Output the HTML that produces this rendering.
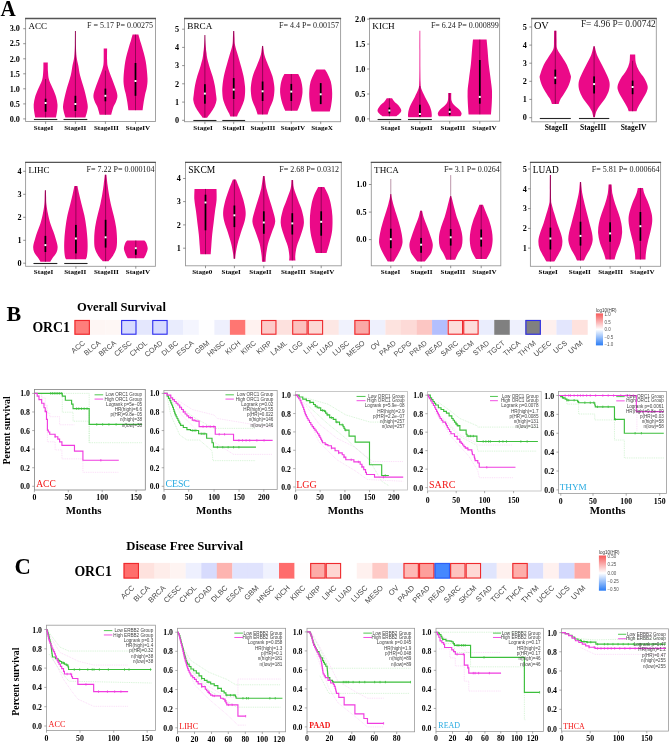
<!DOCTYPE html>
<html><head><meta charset="utf-8"><style>
html,body{margin:0;padding:0;background:#fff;}
svg{display:block;}
</style></head><body>
<svg width="669" height="743" viewBox="0 0 669 743" style="will-change:transform">
<rect width="669" height="743" fill="#fff"/>
<rect x="25.6" y="18.5" width="129.9" height="103.0" fill="#fff" stroke="#999" stroke-width="0.9"/>
<line x1="25.1" y1="18.5" x2="156.0" y2="18.5" stroke="#555" stroke-width="1.4"/>
<line x1="23.200000000000003" y1="28.7" x2="25.6" y2="28.7" stroke="#666" stroke-width="0.7"/>
<text transform="translate(19.90 31.45) scale(0.2500)" font-family="'Liberation Serif', serif" font-size="32.80" font-weight="bold" fill="#000" text-anchor="end" >3.0</text>
<line x1="23.200000000000003" y1="43.7" x2="25.6" y2="43.7" stroke="#666" stroke-width="0.7"/>
<text transform="translate(19.90 46.45) scale(0.2500)" font-family="'Liberation Serif', serif" font-size="32.80" font-weight="bold" fill="#000" text-anchor="end" >2.5</text>
<line x1="23.200000000000003" y1="58.8" x2="25.6" y2="58.8" stroke="#666" stroke-width="0.7"/>
<text transform="translate(19.90 61.55) scale(0.2500)" font-family="'Liberation Serif', serif" font-size="32.80" font-weight="bold" fill="#000" text-anchor="end" >2.0</text>
<line x1="23.200000000000003" y1="73.8" x2="25.6" y2="73.8" stroke="#666" stroke-width="0.7"/>
<text transform="translate(19.90 76.55) scale(0.2500)" font-family="'Liberation Serif', serif" font-size="32.80" font-weight="bold" fill="#000" text-anchor="end" >1.5</text>
<line x1="23.200000000000003" y1="88.8" x2="25.6" y2="88.8" stroke="#666" stroke-width="0.7"/>
<text transform="translate(19.90 91.55) scale(0.2500)" font-family="'Liberation Serif', serif" font-size="32.80" font-weight="bold" fill="#000" text-anchor="end" >1.0</text>
<line x1="23.200000000000003" y1="103.9" x2="25.6" y2="103.9" stroke="#666" stroke-width="0.7"/>
<text transform="translate(19.90 106.65) scale(0.2500)" font-family="'Liberation Serif', serif" font-size="32.80" font-weight="bold" fill="#000" text-anchor="end" >0.5</text>
<line x1="23.200000000000003" y1="118.9" x2="25.6" y2="118.9" stroke="#666" stroke-width="0.7"/>
<text transform="translate(19.90 121.65) scale(0.2500)" font-family="'Liberation Serif', serif" font-size="32.80" font-weight="bold" fill="#000" text-anchor="end" >0.0</text>
<path d="M47.80,62.40 C47.80,63.00 47.77,64.40 47.80,66.00 C47.83,67.60 47.78,69.67 48.00,72.00 C48.22,74.33 48.18,77.00 49.10,80.00 C50.02,83.00 52.33,87.17 53.50,90.00 C54.67,92.83 55.43,94.58 56.10,97.00 C56.77,99.42 57.33,102.17 57.50,104.50 C57.67,106.83 57.35,108.85 57.10,111.00 C56.85,113.15 56.18,116.33 56.00,117.40 L35.20,117.40 C35.02,116.33 34.35,113.15 34.10,111.00 C33.85,108.85 33.53,106.83 33.70,104.50 C33.87,102.17 34.43,99.42 35.10,97.00 C35.77,94.58 36.53,92.83 37.70,90.00 C38.87,87.17 41.18,83.00 42.10,80.00 C43.02,77.00 42.98,74.33 43.20,72.00 C43.42,69.67 43.37,67.60 43.40,66.00 C43.43,64.40 43.40,63.00 43.40,62.40 Z" fill="#eb0988"/>
<line x1="33.90" y1="119.50" x2="57.30" y2="119.50" stroke="#262626" stroke-width="1.1"/>
<line x1="45.60" y1="79.00" x2="45.60" y2="117.40" stroke="#3a0020" stroke-width="0.5"/>
<rect x="44.75" y="98.70" width="1.7" height="13.00" fill="#000"/>
<rect x="44.60" y="102.00" width="2.0" height="2.0" fill="#fff"/>
<line x1="45.6" y1="121.5" x2="45.6" y2="123.9" stroke="#666" stroke-width="0.7"/>
<text transform="translate(43.50 129.50) scale(0.2500)" font-family="'Liberation Serif', serif" font-size="28.40" font-weight="bold" fill="#000" text-anchor="middle" >StageI</text>
<path d="M75.80,31.00 C75.82,33.33 75.77,40.67 75.90,45.00 C76.03,49.33 76.18,53.50 76.60,57.00 C77.02,60.50 77.82,62.90 78.40,66.00 C78.98,69.10 79.10,71.60 80.10,75.60 C81.10,79.60 83.15,85.18 84.40,90.00 C85.65,94.82 87.13,101.00 87.60,104.50 C88.07,108.00 87.57,108.85 87.20,111.00 C86.83,113.15 85.70,116.33 85.40,117.40 L65.40,117.40 C65.10,116.33 63.97,113.15 63.60,111.00 C63.23,108.85 62.73,108.00 63.20,104.50 C63.67,101.00 65.15,94.82 66.40,90.00 C67.65,85.18 69.70,79.60 70.70,75.60 C71.70,71.60 71.82,69.10 72.40,66.00 C72.98,62.90 73.78,60.50 74.20,57.00 C74.62,53.50 74.77,49.33 74.90,45.00 C75.03,40.67 74.98,33.33 75.00,31.00 Z" fill="#eb0988"/>
<line x1="63.50" y1="119.50" x2="87.30" y2="119.50" stroke="#262626" stroke-width="1.1"/>
<line x1="75.40" y1="31.00" x2="75.40" y2="117.40" stroke="#3a0020" stroke-width="0.5"/>
<rect x="74.55" y="95.80" width="1.7" height="15.20" fill="#000"/>
<rect x="74.40" y="103.00" width="2.0" height="2.0" fill="#fff"/>
<line x1="75.4" y1="121.5" x2="75.4" y2="123.9" stroke="#666" stroke-width="0.7"/>
<text transform="translate(75.20 129.50) scale(0.2500)" font-family="'Liberation Serif', serif" font-size="28.40" font-weight="bold" fill="#000" text-anchor="middle" >StageII</text>
<path d="M107.10,48.50 C107.10,50.42 107.02,57.08 107.10,60.00 C107.18,62.92 107.22,64.00 107.60,66.00 C107.98,68.00 108.68,69.92 109.40,72.00 C110.12,74.08 110.90,75.83 111.90,78.50 C112.90,81.17 114.48,85.12 115.40,88.00 C116.32,90.88 117.32,93.47 117.40,95.80 C117.48,98.13 116.58,100.08 115.90,102.00 C115.22,103.92 114.08,105.17 113.30,107.30 C112.52,109.43 111.55,113.55 111.20,114.80 L99.60,114.80 C99.25,113.55 98.28,109.43 97.50,107.30 C96.72,105.17 95.58,103.92 94.90,102.00 C94.22,100.08 93.32,98.13 93.40,95.80 C93.48,93.47 94.48,90.88 95.40,88.00 C96.32,85.12 97.90,81.17 98.90,78.50 C99.90,75.83 100.68,74.08 101.40,72.00 C102.12,69.92 102.82,68.00 103.20,66.00 C103.58,64.00 103.62,62.92 103.70,60.00 C103.78,57.08 103.70,50.42 103.70,48.50 Z" fill="#eb0988"/>
<line x1="105.40" y1="70.60" x2="105.40" y2="114.80" stroke="#3a0020" stroke-width="0.5"/>
<rect x="104.55" y="88.60" width="1.7" height="12.70" fill="#000"/>
<rect x="104.40" y="94.80" width="2.0" height="2.0" fill="#fff"/>
<line x1="105.4" y1="121.5" x2="105.4" y2="123.9" stroke="#666" stroke-width="0.7"/>
<text transform="translate(106.30 129.50) scale(0.2500)" font-family="'Liberation Serif', serif" font-size="28.40" font-weight="bold" fill="#000" text-anchor="middle" >StageIII</text>
<path d="M138.40,34.60 C138.65,35.50 139.30,37.97 139.90,40.00 C140.50,42.03 141.03,43.27 142.00,46.80 C142.97,50.33 144.78,55.92 145.70,61.20 C146.62,66.48 147.33,74.03 147.50,78.50 C147.67,82.97 147.10,85.35 146.70,88.00 C146.30,90.65 145.60,92.07 145.10,94.40 C144.60,96.73 144.12,99.37 143.70,102.00 C143.28,104.63 142.78,108.83 142.60,110.20 L128.40,110.20 C128.22,108.83 127.72,104.63 127.30,102.00 C126.88,99.37 126.40,96.73 125.90,94.40 C125.40,92.07 124.70,90.65 124.30,88.00 C123.90,85.35 123.33,82.97 123.50,78.50 C123.67,74.03 124.38,66.48 125.30,61.20 C126.22,55.92 128.03,50.33 129.00,46.80 C129.97,43.27 130.50,42.03 131.10,40.00 C131.70,37.97 132.35,35.50 132.60,34.60 Z" fill="#eb0988"/>
<line x1="135.50" y1="34.60" x2="135.50" y2="110.20" stroke="#3a0020" stroke-width="0.5"/>
<rect x="134.65" y="63.00" width="1.7" height="32.80" fill="#000"/>
<rect x="134.50" y="80.00" width="2.0" height="2.0" fill="#fff"/>
<line x1="135.5" y1="121.5" x2="135.5" y2="123.9" stroke="#666" stroke-width="0.7"/>
<text transform="translate(138.00 129.50) scale(0.2500)" font-family="'Liberation Serif', serif" font-size="28.40" font-weight="bold" fill="#000" text-anchor="middle" >StageIV</text>
<text transform="translate(28.40 29.00) scale(0.2500)" font-family="'Liberation Serif', serif" font-size="36.00" font-weight="normal" fill="#000" text-anchor="start" >ACC</text>
<text transform="translate(153.00 27.80) scale(0.2500)" font-family="'Liberation Serif', serif" font-size="32.00" font-weight="normal" fill="#222" text-anchor="end" >F = 5.17 P= 0.00275</text>
<rect x="184.5" y="18.5" width="156.10000000000002" height="103.2" fill="#fff" stroke="#999" stroke-width="0.9"/>
<line x1="184.0" y1="18.5" x2="341.1" y2="18.5" stroke="#555" stroke-width="1.4"/>
<line x1="182.1" y1="29.2" x2="184.5" y2="29.2" stroke="#666" stroke-width="0.7"/>
<text transform="translate(179.10 31.95) scale(0.2500)" font-family="'Liberation Serif', serif" font-size="32.80" font-weight="bold" fill="#000" text-anchor="end" >5</text>
<line x1="182.1" y1="47.4" x2="184.5" y2="47.4" stroke="#666" stroke-width="0.7"/>
<text transform="translate(179.10 50.15) scale(0.2500)" font-family="'Liberation Serif', serif" font-size="32.80" font-weight="bold" fill="#000" text-anchor="end" >4</text>
<line x1="182.1" y1="65.6" x2="184.5" y2="65.6" stroke="#666" stroke-width="0.7"/>
<text transform="translate(179.10 68.35) scale(0.2500)" font-family="'Liberation Serif', serif" font-size="32.80" font-weight="bold" fill="#000" text-anchor="end" >3</text>
<line x1="182.1" y1="83.8" x2="184.5" y2="83.8" stroke="#666" stroke-width="0.7"/>
<text transform="translate(179.10 86.55) scale(0.2500)" font-family="'Liberation Serif', serif" font-size="32.80" font-weight="bold" fill="#000" text-anchor="end" >2</text>
<line x1="182.1" y1="102.1" x2="184.5" y2="102.1" stroke="#666" stroke-width="0.7"/>
<text transform="translate(179.10 104.85) scale(0.2500)" font-family="'Liberation Serif', serif" font-size="32.80" font-weight="bold" fill="#000" text-anchor="end" >1</text>
<line x1="182.1" y1="120.3" x2="184.5" y2="120.3" stroke="#666" stroke-width="0.7"/>
<text transform="translate(179.10 123.05) scale(0.2500)" font-family="'Liberation Serif', serif" font-size="32.80" font-weight="bold" fill="#000" text-anchor="end" >0</text>
<path d="M205.20,35.10 C205.23,36.08 205.28,38.87 205.40,41.00 C205.52,43.13 205.72,45.90 205.90,47.90 C206.08,49.90 206.28,51.22 206.50,53.00 C206.72,54.78 206.82,56.53 207.25,58.60 C207.68,60.67 208.22,62.48 209.10,65.40 C209.97,68.32 211.55,72.75 212.50,76.10 C213.45,79.45 214.20,82.35 214.80,85.50 C215.40,88.65 215.82,92.53 216.10,95.00 C216.38,97.47 216.70,98.52 216.50,100.30 C216.30,102.08 215.67,103.90 214.90,105.70 C214.13,107.50 212.87,109.53 211.90,111.10 C210.93,112.67 209.90,113.98 209.10,115.10 C208.30,116.22 207.43,117.35 207.10,117.80 L202.70,117.80 C202.37,117.35 201.50,116.22 200.70,115.10 C199.90,113.98 198.87,112.67 197.90,111.10 C196.93,109.53 195.67,107.50 194.90,105.70 C194.13,103.90 193.50,102.08 193.30,100.30 C193.10,98.52 193.42,97.47 193.70,95.00 C193.98,92.53 194.40,88.65 195.00,85.50 C195.60,82.35 196.35,79.45 197.30,76.10 C198.25,72.75 199.83,68.32 200.70,65.40 C201.58,62.48 202.12,60.67 202.55,58.60 C202.98,56.53 203.08,54.78 203.30,53.00 C203.53,51.22 203.72,49.90 203.90,47.90 C204.08,45.90 204.28,43.13 204.40,41.00 C204.52,38.87 204.57,36.08 204.60,35.10 Z" fill="#eb0988"/>
<line x1="193.35" y1="120.50" x2="216.45" y2="120.50" stroke="#262626" stroke-width="1.1"/>
<line x1="204.90" y1="35.10" x2="204.90" y2="117.80" stroke="#3a0020" stroke-width="0.5"/>
<rect x="204.05" y="84.20" width="1.7" height="19.50" fill="#000"/>
<rect x="203.90" y="92.60" width="2.0" height="2.0" fill="#fff"/>
<line x1="204.9" y1="121.7" x2="204.9" y2="124.10000000000001" stroke="#666" stroke-width="0.7"/>
<text transform="translate(203.00 129.70) scale(0.2500)" font-family="'Liberation Serif', serif" font-size="28.40" font-weight="bold" fill="#000" text-anchor="middle" >StageI</text>
<path d="M234.20,31.10 C234.25,32.25 234.36,35.65 234.50,38.00 C234.64,40.35 234.45,42.22 235.05,45.20 C235.65,48.18 237.14,52.53 238.10,55.90 C239.06,59.27 239.90,62.03 240.80,65.40 C241.70,68.77 242.82,72.75 243.50,76.10 C244.18,79.45 244.63,82.80 244.90,85.50 C245.17,88.20 245.23,89.83 245.10,92.30 C244.97,94.77 244.80,97.62 244.10,100.30 C243.40,102.98 241.90,106.15 240.90,108.40 C239.90,110.65 238.73,112.45 238.10,113.80 C237.47,115.15 237.27,116.05 237.10,116.50 L230.30,116.50 C230.13,116.05 229.93,115.15 229.30,113.80 C228.67,112.45 227.50,110.65 226.50,108.40 C225.50,106.15 224.00,102.98 223.30,100.30 C222.60,97.62 222.43,94.77 222.30,92.30 C222.17,89.83 222.23,88.20 222.50,85.50 C222.77,82.80 223.22,79.45 223.90,76.10 C224.58,72.75 225.70,68.77 226.60,65.40 C227.50,62.03 228.34,59.27 229.30,55.90 C230.26,52.53 231.75,48.18 232.35,45.20 C232.95,42.22 232.76,40.35 232.90,38.00 C233.04,35.65 233.15,32.25 233.20,31.10 Z" fill="#eb0988"/>
<line x1="222.30" y1="120.50" x2="245.10" y2="120.50" stroke="#262626" stroke-width="1.1"/>
<line x1="233.70" y1="31.10" x2="233.70" y2="116.50" stroke="#3a0020" stroke-width="0.5"/>
<rect x="232.85" y="78.10" width="1.7" height="20.90" fill="#000"/>
<rect x="232.70" y="88.60" width="2.0" height="2.0" fill="#fff"/>
<line x1="233.7" y1="121.7" x2="233.7" y2="124.10000000000001" stroke="#666" stroke-width="0.7"/>
<text transform="translate(233.60 129.70) scale(0.2500)" font-family="'Liberation Serif', serif" font-size="28.40" font-weight="bold" fill="#000" text-anchor="middle" >StageII</text>
<path d="M263.10,45.90 C263.18,46.58 263.40,48.55 263.60,50.00 C263.80,51.45 263.88,52.93 264.30,54.60 C264.72,56.27 265.43,58.20 266.10,60.00 C266.77,61.80 267.25,62.72 268.30,65.40 C269.35,68.08 271.42,72.75 272.40,76.10 C273.38,79.45 273.88,82.80 274.20,85.50 C274.52,88.20 274.50,89.83 274.30,92.30 C274.10,94.77 273.78,97.62 273.00,100.30 C272.22,102.98 270.50,106.03 269.60,108.40 C268.70,110.77 267.93,113.48 267.60,114.50 L257.60,114.50 C257.27,113.48 256.50,110.77 255.60,108.40 C254.70,106.03 252.98,102.98 252.20,100.30 C251.42,97.62 251.10,94.77 250.90,92.30 C250.70,89.83 250.68,88.20 251.00,85.50 C251.32,82.80 251.82,79.45 252.80,76.10 C253.78,72.75 255.85,68.08 256.90,65.40 C257.95,62.72 258.43,61.80 259.10,60.00 C259.77,58.20 260.48,56.27 260.90,54.60 C261.32,52.93 261.40,51.45 261.60,50.00 C261.80,48.55 262.02,46.58 262.10,45.90 Z" fill="#eb0988"/>
<line x1="262.60" y1="45.90" x2="262.60" y2="114.50" stroke="#3a0020" stroke-width="0.5"/>
<rect x="261.75" y="81.50" width="1.7" height="19.50" fill="#000"/>
<rect x="261.60" y="90.30" width="2.0" height="2.0" fill="#fff"/>
<line x1="262.6" y1="121.7" x2="262.6" y2="124.10000000000001" stroke="#666" stroke-width="0.7"/>
<text transform="translate(262.80 129.70) scale(0.2500)" font-family="'Liberation Serif', serif" font-size="28.40" font-weight="bold" fill="#000" text-anchor="middle" >StageIII</text>
<path d="M298.20,74.10 C298.58,74.88 299.85,76.90 300.50,78.80 C301.15,80.70 301.77,83.25 302.10,85.50 C302.43,87.75 302.65,89.83 302.50,92.30 C302.35,94.77 301.78,97.83 301.20,100.30 C300.62,102.77 299.63,105.35 299.00,107.10 C298.37,108.85 297.67,110.18 297.40,110.80 L285.20,110.80 C284.93,110.18 284.23,108.85 283.60,107.10 C282.97,105.35 281.98,102.77 281.40,100.30 C280.82,97.83 280.25,94.77 280.10,92.30 C279.95,89.83 280.17,87.75 280.50,85.50 C280.83,83.25 281.45,80.70 282.10,78.80 C282.75,76.90 284.02,74.88 284.40,74.10 Z" fill="#eb0988"/>
<line x1="291.30" y1="74.10" x2="291.30" y2="110.80" stroke="#3a0020" stroke-width="0.5"/>
<rect x="290.45" y="83.90" width="1.7" height="17.10" fill="#000"/>
<rect x="290.30" y="90.60" width="2.0" height="2.0" fill="#fff"/>
<line x1="291.3" y1="121.7" x2="291.3" y2="124.10000000000001" stroke="#666" stroke-width="0.7"/>
<text transform="translate(292.90 129.70) scale(0.2500)" font-family="'Liberation Serif', serif" font-size="28.40" font-weight="bold" fill="#000" text-anchor="middle" >StageIV</text>
<path d="M324.90,69.40 C325.32,70.07 326.42,71.38 327.40,73.40 C328.38,75.42 330.03,78.80 330.80,81.50 C331.57,84.20 331.78,86.92 332.00,89.60 C332.22,92.28 332.25,94.92 332.10,97.60 C331.95,100.28 331.48,103.38 331.10,105.70 C330.72,108.02 330.02,110.53 329.80,111.50 L311.60,111.50 C311.38,110.53 310.68,108.02 310.30,105.70 C309.92,103.38 309.45,100.28 309.30,97.60 C309.15,94.92 309.18,92.28 309.40,89.60 C309.62,86.92 309.83,84.20 310.60,81.50 C311.37,78.80 313.02,75.42 314.00,73.40 C314.98,71.38 316.08,70.07 316.50,69.40 Z" fill="#eb0988"/>
<line x1="320.70" y1="83.10" x2="320.70" y2="104.10" stroke="#3a0020" stroke-width="0.5"/>
<rect x="319.85" y="83.10" width="1.7" height="21.00" fill="#000"/>
<rect x="319.70" y="93.30" width="2.0" height="2.0" fill="#fff"/>
<line x1="320.7" y1="121.7" x2="320.7" y2="124.10000000000001" stroke="#666" stroke-width="0.7"/>
<text transform="translate(322.00 129.70) scale(0.2500)" font-family="'Liberation Serif', serif" font-size="28.40" font-weight="bold" fill="#000" text-anchor="middle" >StageX</text>
<text transform="translate(187.30 29.00) scale(0.2500)" font-family="'Liberation Serif', serif" font-size="36.80" font-weight="normal" fill="#000" text-anchor="start" >BRCA</text>
<text transform="translate(338.90 27.80) scale(0.2500)" font-family="'Liberation Serif', serif" font-size="32.00" font-weight="normal" fill="#222" text-anchor="end" >F= 4.4 P= 0.00157</text>
<rect x="369.5" y="18.5" width="130.10000000000002" height="102.7" fill="#fff" stroke="#999" stroke-width="0.9"/>
<line x1="369.0" y1="18.5" x2="500.1" y2="18.5" stroke="#555" stroke-width="1.4"/>
<line x1="367.1" y1="19.1" x2="369.5" y2="19.1" stroke="#666" stroke-width="0.7"/>
<text transform="translate(365.30 21.85) scale(0.2500)" font-family="'Liberation Serif', serif" font-size="32.80" font-weight="bold" fill="#000" text-anchor="end" >2.0</text>
<line x1="367.1" y1="44.1" x2="369.5" y2="44.1" stroke="#666" stroke-width="0.7"/>
<text transform="translate(365.30 46.85) scale(0.2500)" font-family="'Liberation Serif', serif" font-size="32.80" font-weight="bold" fill="#000" text-anchor="end" >1.5</text>
<line x1="367.1" y1="69.0" x2="369.5" y2="69.0" stroke="#666" stroke-width="0.7"/>
<text transform="translate(365.30 71.75) scale(0.2500)" font-family="'Liberation Serif', serif" font-size="32.80" font-weight="bold" fill="#000" text-anchor="end" >1.0</text>
<line x1="367.1" y1="94.0" x2="369.5" y2="94.0" stroke="#666" stroke-width="0.7"/>
<text transform="translate(365.30 96.75) scale(0.2500)" font-family="'Liberation Serif', serif" font-size="32.80" font-weight="bold" fill="#000" text-anchor="end" >0.5</text>
<line x1="367.1" y1="118.9" x2="369.5" y2="118.9" stroke="#666" stroke-width="0.7"/>
<text transform="translate(365.30 121.65) scale(0.2500)" font-family="'Liberation Serif', serif" font-size="32.80" font-weight="bold" fill="#000" text-anchor="end" >0.0</text>
<path d="M392.00,98.30 C392.42,98.88 393.40,100.58 394.50,101.80 C395.60,103.02 397.47,104.15 398.60,105.60 C399.73,107.05 401.22,109.10 401.30,110.50 C401.38,111.90 399.95,113.03 399.10,114.00 C398.25,114.97 396.68,115.92 396.20,116.30 L382.60,116.30 C382.12,115.92 380.55,114.97 379.70,114.00 C378.85,113.03 377.42,111.90 377.50,110.50 C377.58,109.10 379.07,107.05 380.20,105.60 C381.33,104.15 383.20,103.02 384.30,101.80 C385.40,100.58 386.38,98.88 386.80,98.30 Z" fill="#eb0988"/>
<line x1="377.60" y1="119.50" x2="401.20" y2="119.50" stroke="#262626" stroke-width="1.1"/>
<line x1="389.40" y1="98.30" x2="389.40" y2="116.30" stroke="#3a0020" stroke-width="0.5"/>
<rect x="388.55" y="107.60" width="1.7" height="5.80" fill="#000"/>
<rect x="388.40" y="109.50" width="2.0" height="2.0" fill="#fff"/>
<line x1="389.4" y1="121.2" x2="389.4" y2="123.60000000000001" stroke="#666" stroke-width="0.7"/>
<text transform="translate(390.50 129.80) scale(0.2500)" font-family="'Liberation Serif', serif" font-size="28.40" font-weight="bold" fill="#000" text-anchor="middle" >StageI</text>
<path d="M420.25,30.80 C420.26,34.00 420.28,43.47 420.30,50.00 C420.32,56.53 420.30,64.45 420.35,70.00 C420.40,75.55 420.42,80.12 420.60,83.30 C420.77,86.48 420.67,86.83 421.40,89.10 C422.13,91.37 423.72,94.30 425.00,96.90 C426.28,99.50 428.07,102.43 429.10,104.70 C430.13,106.97 430.75,108.72 431.20,110.50 C431.65,112.28 431.77,114.27 431.80,115.40 C431.83,116.53 431.47,116.98 431.40,117.30 L408.40,117.30 C408.33,116.98 407.97,116.53 408.00,115.40 C408.03,114.27 408.15,112.28 408.60,110.50 C409.05,108.72 409.67,106.97 410.70,104.70 C411.73,102.43 413.52,99.50 414.80,96.90 C416.08,94.30 417.67,91.37 418.40,89.10 C419.13,86.83 419.02,86.48 419.20,83.30 C419.38,80.12 419.40,75.55 419.45,70.00 C419.50,64.45 419.48,56.53 419.50,50.00 C419.52,43.47 419.54,34.00 419.55,30.80 Z" fill="#eb0988"/>
<line x1="407.95" y1="119.50" x2="431.85" y2="119.50" stroke="#262626" stroke-width="1.1"/>
<line x1="419.90" y1="86.00" x2="419.90" y2="117.30" stroke="#3a0020" stroke-width="0.5"/>
<rect x="419.05" y="104.70" width="1.7" height="11.60" fill="#000"/>
<rect x="418.90" y="113.00" width="2.0" height="2.0" fill="#fff"/>
<line x1="419.9" y1="121.2" x2="419.9" y2="123.60000000000001" stroke="#666" stroke-width="0.7"/>
<text transform="translate(421.50 129.80) scale(0.2500)" font-family="'Liberation Serif', serif" font-size="28.40" font-weight="bold" fill="#000" text-anchor="middle" >StageII</text>
<path d="M451.25,93.00 C451.31,94.30 451.04,98.70 451.60,100.80 C452.16,102.90 453.33,104.15 454.60,105.60 C455.87,107.05 458.03,108.20 459.20,109.50 C460.37,110.80 461.40,112.27 461.60,113.40 C461.80,114.53 460.60,115.82 460.40,116.30 L439.00,116.30 C438.80,115.82 437.60,114.53 437.80,113.40 C438.00,112.27 439.03,110.80 440.20,109.50 C441.37,108.20 443.53,107.05 444.80,105.60 C446.07,104.15 447.24,102.90 447.80,100.80 C448.36,98.70 448.09,94.30 448.15,93.00 Z" fill="#eb0988"/>
<line x1="449.70" y1="93.00" x2="449.70" y2="116.30" stroke="#3a0020" stroke-width="0.5"/>
<rect x="448.85" y="108.60" width="1.7" height="6.20" fill="#000"/>
<rect x="448.70" y="110.90" width="2.0" height="2.0" fill="#fff"/>
<line x1="449.7" y1="121.2" x2="449.7" y2="123.60000000000001" stroke="#666" stroke-width="0.7"/>
<text transform="translate(452.90 129.80) scale(0.2500)" font-family="'Liberation Serif', serif" font-size="28.40" font-weight="bold" fill="#000" text-anchor="middle" >StageIII</text>
<path d="M486.60,39.60 C486.77,41.38 487.25,46.25 487.60,50.30 C487.95,54.35 488.18,59.05 488.70,63.90 C489.22,68.75 490.15,74.87 490.70,79.40 C491.25,83.93 491.82,87.22 492.00,91.10 C492.18,94.98 491.97,98.82 491.80,102.70 C491.63,106.58 491.13,112.45 491.00,114.40 L468.60,114.40 C468.47,112.45 467.97,106.58 467.80,102.70 C467.63,98.82 467.42,94.98 467.60,91.10 C467.78,87.22 468.35,83.93 468.90,79.40 C469.45,74.87 470.38,68.75 470.90,63.90 C471.42,59.05 471.65,54.35 472.00,50.30 C472.35,46.25 472.83,41.38 473.00,39.60 Z" fill="#eb0988"/>
<line x1="479.80" y1="39.60" x2="479.80" y2="114.40" stroke="#3a0020" stroke-width="0.5"/>
<rect x="478.95" y="60.00" width="1.7" height="43.70" fill="#000"/>
<rect x="478.80" y="95.90" width="2.0" height="2.0" fill="#fff"/>
<line x1="479.8" y1="121.2" x2="479.8" y2="123.60000000000001" stroke="#666" stroke-width="0.7"/>
<text transform="translate(484.40 129.80) scale(0.2500)" font-family="'Liberation Serif', serif" font-size="28.40" font-weight="bold" fill="#000" text-anchor="middle" >StageIV</text>
<text transform="translate(372.30 29.00) scale(0.2500)" font-family="'Liberation Serif', serif" font-size="36.80" font-weight="normal" fill="#000" text-anchor="start" >KICH</text>
<text transform="translate(498.80 27.80) scale(0.2500)" font-family="'Liberation Serif', serif" font-size="32.00" font-weight="normal" fill="#222" text-anchor="end" >F= 6.24 P= 0.000899</text>
<rect x="531.7" y="18.5" width="124.59999999999991" height="103.3" fill="#fff" stroke="#999" stroke-width="0.9"/>
<line x1="531.2" y1="18.5" x2="656.8" y2="18.5" stroke="#555" stroke-width="1.4"/>
<line x1="529.3000000000001" y1="27" x2="531.7" y2="27" stroke="#666" stroke-width="0.7"/>
<text transform="translate(526.80 29.75) scale(0.2500)" font-family="'Liberation Serif', serif" font-size="32.80" font-weight="bold" fill="#000" text-anchor="end" >5</text>
<line x1="529.3000000000001" y1="45.1" x2="531.7" y2="45.1" stroke="#666" stroke-width="0.7"/>
<text transform="translate(526.80 47.85) scale(0.2500)" font-family="'Liberation Serif', serif" font-size="32.80" font-weight="bold" fill="#000" text-anchor="end" >4</text>
<line x1="529.3000000000001" y1="63.2" x2="531.7" y2="63.2" stroke="#666" stroke-width="0.7"/>
<text transform="translate(526.80 65.95) scale(0.2500)" font-family="'Liberation Serif', serif" font-size="32.80" font-weight="bold" fill="#000" text-anchor="end" >3</text>
<line x1="529.3000000000001" y1="81.3" x2="531.7" y2="81.3" stroke="#666" stroke-width="0.7"/>
<text transform="translate(526.80 84.05) scale(0.2500)" font-family="'Liberation Serif', serif" font-size="32.80" font-weight="bold" fill="#000" text-anchor="end" >2</text>
<line x1="529.3000000000001" y1="99.4" x2="531.7" y2="99.4" stroke="#666" stroke-width="0.7"/>
<text transform="translate(526.80 102.15) scale(0.2500)" font-family="'Liberation Serif', serif" font-size="32.80" font-weight="bold" fill="#000" text-anchor="end" >1</text>
<line x1="529.3000000000001" y1="117.7" x2="531.7" y2="117.7" stroke="#666" stroke-width="0.7"/>
<text transform="translate(526.80 120.45) scale(0.2500)" font-family="'Liberation Serif', serif" font-size="32.80" font-weight="bold" fill="#000" text-anchor="end" >0</text>
<path d="M556.50,30.70 C556.52,32.15 556.48,36.33 556.60,39.40 C556.72,42.47 556.28,46.18 557.20,49.10 C558.12,52.02 560.50,54.30 562.10,56.90 C563.70,59.50 565.42,61.78 566.80,64.70 C568.18,67.62 569.73,72.13 570.40,74.40 C571.07,76.67 571.13,76.35 570.80,78.30 C570.47,80.25 569.53,83.52 568.40,86.10 C567.27,88.68 565.37,91.53 564.00,93.80 C562.63,96.07 561.08,98.02 560.20,99.70 C559.32,101.38 558.95,103.20 558.70,103.90 L551.90,103.90 C551.65,103.20 551.28,101.38 550.40,99.70 C549.52,98.02 547.97,96.07 546.60,93.80 C545.23,91.53 543.33,88.68 542.20,86.10 C541.07,83.52 540.13,80.25 539.80,78.30 C539.47,76.35 539.53,76.67 540.20,74.40 C540.87,72.13 542.42,67.62 543.80,64.70 C545.18,61.78 546.90,59.50 548.50,56.90 C550.10,54.30 552.48,52.02 553.40,49.10 C554.32,46.18 553.88,42.47 554.00,39.40 C554.12,36.33 554.08,32.15 554.10,30.70 Z" fill="#eb0988"/>
<line x1="539.80" y1="118.50" x2="570.80" y2="118.50" stroke="#262626" stroke-width="1.1"/>
<line x1="555.30" y1="30.70" x2="555.30" y2="103.90" stroke="#3a0020" stroke-width="0.5"/>
<rect x="554.45" y="69.60" width="1.7" height="14.50" fill="#000"/>
<rect x="554.30" y="76.70" width="2.0" height="2.0" fill="#fff"/>
<line x1="555.3" y1="121.8" x2="555.3" y2="124.2" stroke="#666" stroke-width="0.7"/>
<text transform="translate(556.30 129.80) scale(0.2500)" font-family="'Liberation Serif', serif" font-size="30.00" font-weight="bold" fill="#000" text-anchor="middle" >StageII</text>
<path d="M594.70,46.20 C595.08,47.67 595.80,51.92 597.00,55.00 C598.20,58.08 600.28,61.47 601.90,64.70 C603.52,67.93 605.43,71.48 606.70,74.40 C607.97,77.32 609.12,79.60 609.50,82.20 C609.88,84.80 609.65,87.42 609.00,90.00 C608.35,92.58 607.12,95.12 605.60,97.70 C604.08,100.28 601.43,103.23 599.90,105.50 C598.37,107.77 597.23,109.35 596.40,111.30 C595.57,113.25 595.15,116.22 594.90,117.20 L593.30,117.20 C593.05,116.22 592.63,113.25 591.80,111.30 C590.97,109.35 589.83,107.77 588.30,105.50 C586.77,103.23 584.12,100.28 582.60,97.70 C581.08,95.12 579.85,92.58 579.20,90.00 C578.55,87.42 578.32,84.80 578.70,82.20 C579.08,79.60 580.23,77.32 581.50,74.40 C582.77,71.48 584.68,67.93 586.30,64.70 C587.92,61.47 590.00,58.08 591.20,55.00 C592.40,51.92 593.12,47.67 593.50,46.20 Z" fill="#eb0988"/>
<line x1="578.95" y1="118.50" x2="609.25" y2="118.50" stroke="#262626" stroke-width="1.1"/>
<line x1="594.10" y1="46.20" x2="594.10" y2="117.20" stroke="#3a0020" stroke-width="0.5"/>
<rect x="593.25" y="76.40" width="1.7" height="17.10" fill="#000"/>
<rect x="593.10" y="83.10" width="2.0" height="2.0" fill="#fff"/>
<line x1="594.1" y1="121.8" x2="594.1" y2="124.2" stroke="#666" stroke-width="0.7"/>
<text transform="translate(593.10 129.80) scale(0.2500)" font-family="'Liberation Serif', serif" font-size="30.00" font-weight="bold" fill="#000" text-anchor="middle" >StageIII</text>
<path d="M635.20,54.60 C635.30,55.97 635.18,60.15 635.80,62.80 C636.42,65.45 637.48,67.92 638.90,70.50 C640.32,73.08 642.85,75.70 644.30,78.30 C645.75,80.90 647.22,83.83 647.60,86.10 C647.98,88.37 647.48,89.63 646.60,91.90 C645.72,94.17 643.75,97.12 642.30,99.70 C640.85,102.28 638.87,105.47 637.90,107.40 C636.93,109.33 636.73,110.65 636.50,111.30 L628.70,111.30 C628.47,110.65 628.27,109.33 627.30,107.40 C626.33,105.47 624.35,102.28 622.90,99.70 C621.45,97.12 619.48,94.17 618.60,91.90 C617.72,89.63 617.22,88.37 617.60,86.10 C617.98,83.83 619.45,80.90 620.90,78.30 C622.35,75.70 624.88,73.08 626.30,70.50 C627.72,67.92 628.78,65.45 629.40,62.80 C630.02,60.15 629.90,55.97 630.00,54.60 Z" fill="#eb0988"/>
<line x1="632.60" y1="60.80" x2="632.60" y2="111.30" stroke="#3a0020" stroke-width="0.5"/>
<rect x="631.75" y="80.60" width="1.7" height="13.60" fill="#000"/>
<rect x="631.60" y="86.00" width="2.0" height="2.0" fill="#fff"/>
<line x1="632.6" y1="121.8" x2="632.6" y2="124.2" stroke="#666" stroke-width="0.7"/>
<text transform="translate(633.60 129.80) scale(0.2500)" font-family="'Liberation Serif', serif" font-size="30.00" font-weight="bold" fill="#000" text-anchor="middle" >StageIV</text>
<text transform="translate(533.90 29.30) scale(0.2500)" font-family="'Liberation Serif', serif" font-size="41.20" font-weight="normal" fill="#000" text-anchor="start" >OV</text>
<text transform="translate(655.80 27.10) scale(0.2500)" font-family="'Liberation Serif', serif" font-size="37.60" font-weight="normal" fill="#222" text-anchor="end" >F= 4.96 P= 0.00742</text>
<rect x="25.6" y="162.4" width="129.8" height="103.9" fill="#fff" stroke="#999" stroke-width="0.9"/>
<line x1="25.1" y1="162.4" x2="155.9" y2="162.4" stroke="#555" stroke-width="1.4"/>
<line x1="23.200000000000003" y1="171.3" x2="25.6" y2="171.3" stroke="#666" stroke-width="0.7"/>
<text transform="translate(21.50 174.05) scale(0.2500)" font-family="'Liberation Serif', serif" font-size="32.80" font-weight="bold" fill="#000" text-anchor="end" >4</text>
<line x1="23.200000000000003" y1="194.3" x2="25.6" y2="194.3" stroke="#666" stroke-width="0.7"/>
<text transform="translate(21.50 197.05) scale(0.2500)" font-family="'Liberation Serif', serif" font-size="32.80" font-weight="bold" fill="#000" text-anchor="end" >3</text>
<line x1="23.200000000000003" y1="217.3" x2="25.6" y2="217.3" stroke="#666" stroke-width="0.7"/>
<text transform="translate(21.50 220.05) scale(0.2500)" font-family="'Liberation Serif', serif" font-size="32.80" font-weight="bold" fill="#000" text-anchor="end" >2</text>
<line x1="23.200000000000003" y1="240.3" x2="25.6" y2="240.3" stroke="#666" stroke-width="0.7"/>
<text transform="translate(21.50 243.05) scale(0.2500)" font-family="'Liberation Serif', serif" font-size="32.80" font-weight="bold" fill="#000" text-anchor="end" >1</text>
<line x1="23.200000000000003" y1="263.2" x2="25.6" y2="263.2" stroke="#666" stroke-width="0.7"/>
<text transform="translate(21.50 265.95) scale(0.2500)" font-family="'Liberation Serif', serif" font-size="32.80" font-weight="bold" fill="#000" text-anchor="end" >0</text>
<path d="M45.90,190.30 C45.93,191.42 46.02,194.73 46.10,197.00 C46.18,199.27 46.10,201.13 46.40,203.90 C46.70,206.67 47.25,210.37 47.90,213.60 C48.55,216.83 49.42,220.38 50.30,223.30 C51.18,226.22 52.30,228.52 53.20,231.10 C54.10,233.68 54.97,236.22 55.70,238.80 C56.43,241.38 57.47,244.33 57.60,246.60 C57.73,248.87 57.37,250.45 56.50,252.40 C55.63,254.35 53.43,256.73 52.40,258.30 C51.37,259.87 50.65,261.22 50.30,261.80 L40.50,261.80 C40.15,261.22 39.43,259.87 38.40,258.30 C37.37,256.73 35.17,254.35 34.30,252.40 C33.43,250.45 33.07,248.87 33.20,246.60 C33.33,244.33 34.37,241.38 35.10,238.80 C35.83,236.22 36.70,233.68 37.60,231.10 C38.50,228.52 39.62,226.22 40.50,223.30 C41.38,220.38 42.25,216.83 42.90,213.60 C43.55,210.37 44.10,206.67 44.40,203.90 C44.70,201.13 44.62,199.27 44.70,197.00 C44.78,194.73 44.87,191.42 44.90,190.30 Z" fill="#eb0988"/>
<line x1="33.45" y1="263.50" x2="57.35" y2="263.50" stroke="#262626" stroke-width="1.1"/>
<line x1="45.40" y1="190.30" x2="45.40" y2="261.80" stroke="#3a0020" stroke-width="0.5"/>
<rect x="44.55" y="235.90" width="1.7" height="16.10" fill="#000"/>
<rect x="44.40" y="244.10" width="2.0" height="2.0" fill="#fff"/>
<line x1="45.4" y1="266.3" x2="45.4" y2="268.7" stroke="#666" stroke-width="0.7"/>
<text transform="translate(43.50 274.30) scale(0.2500)" font-family="'Liberation Serif', serif" font-size="28.40" font-weight="bold" fill="#000" text-anchor="middle" >StageI</text>
<path d="M77.45,186.00 C77.73,187.35 78.43,191.12 79.10,194.10 C79.78,197.08 80.62,200.33 81.50,203.90 C82.38,207.47 83.60,211.62 84.40,215.50 C85.20,219.38 85.80,223.32 86.30,227.20 C86.80,231.08 87.18,235.23 87.40,238.80 C87.62,242.37 87.68,245.68 87.60,248.60 C87.52,251.52 87.20,254.53 86.90,256.30 C86.60,258.07 85.98,258.72 85.80,259.20 L66.00,259.20 C65.82,258.72 65.20,258.07 64.90,256.30 C64.60,254.53 64.28,251.52 64.20,248.60 C64.12,245.68 64.18,242.37 64.40,238.80 C64.62,235.23 65.00,231.08 65.50,227.20 C66.00,223.32 66.60,219.38 67.40,215.50 C68.20,211.62 69.42,207.47 70.30,203.90 C71.18,200.33 72.03,197.08 72.70,194.10 C73.38,191.12 74.08,187.35 74.35,186.00 Z" fill="#eb0988"/>
<line x1="64.25" y1="263.50" x2="87.55" y2="263.50" stroke="#262626" stroke-width="1.1"/>
<line x1="75.90" y1="186.00" x2="75.90" y2="259.20" stroke="#3a0020" stroke-width="0.5"/>
<rect x="75.05" y="224.90" width="1.7" height="28.50" fill="#000"/>
<rect x="74.90" y="237.50" width="2.0" height="2.0" fill="#fff"/>
<line x1="75.9" y1="266.3" x2="75.9" y2="268.7" stroke="#666" stroke-width="0.7"/>
<text transform="translate(75.20 274.30) scale(0.2500)" font-family="'Liberation Serif', serif" font-size="28.40" font-weight="bold" fill="#000" text-anchor="middle" >StageII</text>
<path d="M106.40,174.70 C106.58,176.32 107.08,181.17 107.50,184.40 C107.92,187.63 108.35,190.85 108.90,194.10 C109.45,197.35 110.00,200.33 110.80,203.90 C111.60,207.47 112.82,211.62 113.70,215.50 C114.58,219.38 115.55,223.32 116.10,227.20 C116.65,231.08 116.97,235.23 117.00,238.80 C117.03,242.37 117.03,245.68 116.30,248.60 C115.57,251.52 113.90,254.20 112.60,256.30 C111.30,258.40 109.18,260.38 108.50,261.20 L102.70,261.20 C102.02,260.38 99.90,258.40 98.60,256.30 C97.30,254.20 95.63,251.52 94.90,248.60 C94.17,245.68 94.17,242.37 94.20,238.80 C94.23,235.23 94.55,231.08 95.10,227.20 C95.65,223.32 96.62,219.38 97.50,215.50 C98.38,211.62 99.60,207.47 100.40,203.90 C101.20,200.33 101.75,197.35 102.30,194.10 C102.85,190.85 103.28,187.63 103.70,184.40 C104.12,181.17 104.62,176.32 104.80,174.70 Z" fill="#eb0988"/>
<line x1="105.60" y1="174.70" x2="105.60" y2="261.20" stroke="#3a0020" stroke-width="0.5"/>
<rect x="104.75" y="219.80" width="1.7" height="27.80" fill="#000"/>
<rect x="104.60" y="236.30" width="2.0" height="2.0" fill="#fff"/>
<line x1="105.6" y1="266.3" x2="105.6" y2="268.7" stroke="#666" stroke-width="0.7"/>
<text transform="translate(106.30 274.30) scale(0.2500)" font-family="'Liberation Serif', serif" font-size="28.40" font-weight="bold" fill="#000" text-anchor="middle" >StageIII</text>
<path d="M144.30,240.40 C144.62,240.78 145.63,241.33 146.20,242.70 C146.77,244.07 147.75,246.65 147.70,248.60 C147.65,250.55 146.55,252.78 145.90,254.40 C145.25,256.02 144.15,257.65 143.80,258.30 L127.80,258.30 C127.45,257.65 126.35,256.02 125.70,254.40 C125.05,252.78 123.95,250.55 123.90,248.60 C123.85,246.65 124.83,244.07 125.40,242.70 C125.97,241.33 126.98,240.78 127.30,240.40 Z" fill="#eb0988"/>
<line x1="135.80" y1="240.40" x2="135.80" y2="258.30" stroke="#3a0020" stroke-width="0.5"/>
<rect x="134.95" y="247.60" width="1.7" height="7.20" fill="#000"/>
<rect x="134.80" y="247.20" width="2.0" height="2.0" fill="#fff"/>
<line x1="135.8" y1="266.3" x2="135.8" y2="268.7" stroke="#666" stroke-width="0.7"/>
<text transform="translate(138.00 274.30) scale(0.2500)" font-family="'Liberation Serif', serif" font-size="28.40" font-weight="bold" fill="#000" text-anchor="middle" >StageIV</text>
<text transform="translate(28.40 172.90) scale(0.2500)" font-family="'Liberation Serif', serif" font-size="36.00" font-weight="normal" fill="#000" text-anchor="start" >LIHC</text>
<text transform="translate(154.50 171.70) scale(0.2500)" font-family="'Liberation Serif', serif" font-size="32.00" font-weight="normal" fill="#222" text-anchor="end" >F= 7.22 P= 0.000104</text>
<rect x="185.5" y="162.4" width="155.8" height="103.4" fill="#fff" stroke="#999" stroke-width="0.9"/>
<line x1="185.0" y1="162.4" x2="341.8" y2="162.4" stroke="#555" stroke-width="1.4"/>
<line x1="183.1" y1="178.5" x2="185.5" y2="178.5" stroke="#666" stroke-width="0.7"/>
<text transform="translate(180.80 181.25) scale(0.2500)" font-family="'Liberation Serif', serif" font-size="32.80" font-weight="bold" fill="#000" text-anchor="end" >4</text>
<line x1="183.1" y1="201.6" x2="185.5" y2="201.6" stroke="#666" stroke-width="0.7"/>
<text transform="translate(180.80 204.35) scale(0.2500)" font-family="'Liberation Serif', serif" font-size="32.80" font-weight="bold" fill="#000" text-anchor="end" >3</text>
<line x1="183.1" y1="224.9" x2="185.5" y2="224.9" stroke="#666" stroke-width="0.7"/>
<text transform="translate(180.80 227.65) scale(0.2500)" font-family="'Liberation Serif', serif" font-size="32.80" font-weight="bold" fill="#000" text-anchor="end" >2</text>
<line x1="183.1" y1="248.2" x2="185.5" y2="248.2" stroke="#666" stroke-width="0.7"/>
<text transform="translate(180.80 250.95) scale(0.2500)" font-family="'Liberation Serif', serif" font-size="32.80" font-weight="bold" fill="#000" text-anchor="end" >1</text>
<path d="M216.50,188.90 C216.52,190.72 216.85,196.07 216.60,199.80 C216.35,203.53 215.50,207.45 215.00,211.30 C214.50,215.15 214.07,219.03 213.60,222.90 C213.13,226.77 212.58,230.63 212.20,234.50 C211.82,238.37 211.55,242.82 211.30,246.10 C211.05,249.38 210.80,252.85 210.70,254.20 L200.30,254.20 C200.20,252.85 199.95,249.38 199.70,246.10 C199.45,242.82 199.18,238.37 198.80,234.50 C198.42,230.63 197.87,226.77 197.40,222.90 C196.93,219.03 196.50,215.15 196.00,211.30 C195.50,207.45 194.65,203.53 194.40,199.80 C194.15,196.07 194.48,190.72 194.50,188.90 Z" fill="#eb0988"/>
<line x1="205.50" y1="188.90" x2="205.50" y2="254.20" stroke="#3a0020" stroke-width="0.5"/>
<rect x="204.65" y="194.70" width="1.7" height="35.60" fill="#000"/>
<rect x="204.50" y="201.50" width="2.0" height="2.0" fill="#fff"/>
<line x1="205.5" y1="265.8" x2="205.5" y2="268.2" stroke="#666" stroke-width="0.7"/>
<text transform="translate(202.20 273.80) scale(0.2500)" font-family="'Liberation Serif', serif" font-size="28.40" font-weight="bold" fill="#000" text-anchor="middle" >Stage0</text>
<path d="M235.90,179.40 C236.48,180.87 238.17,184.80 239.40,188.20 C240.63,191.60 242.27,195.95 243.30,199.80 C244.33,203.65 245.35,207.83 245.60,211.30 C245.85,214.77 245.57,217.12 244.80,220.60 C244.03,224.08 242.20,228.33 241.00,232.20 C239.80,236.07 238.47,240.33 237.60,243.80 C236.73,247.27 236.20,250.50 235.80,253.00 C235.40,255.50 235.30,257.83 235.20,258.80 L233.60,258.80 C233.50,257.83 233.40,255.50 233.00,253.00 C232.60,250.50 232.07,247.27 231.20,243.80 C230.33,240.33 229.00,236.07 227.80,232.20 C226.60,228.33 224.77,224.08 224.00,220.60 C223.23,217.12 222.95,214.77 223.20,211.30 C223.45,207.83 224.47,203.65 225.50,199.80 C226.53,195.95 228.17,191.60 229.40,188.20 C230.63,184.80 232.32,180.87 232.90,179.40 Z" fill="#eb0988"/>
<line x1="234.40" y1="179.40" x2="234.40" y2="258.80" stroke="#3a0020" stroke-width="0.5"/>
<rect x="233.55" y="205.50" width="1.7" height="21.60" fill="#000"/>
<rect x="233.40" y="214.30" width="2.0" height="2.0" fill="#fff"/>
<line x1="234.4" y1="265.8" x2="234.4" y2="268.2" stroke="#666" stroke-width="0.7"/>
<text transform="translate(231.10 273.80) scale(0.2500)" font-family="'Liberation Serif', serif" font-size="28.40" font-weight="bold" fill="#000" text-anchor="middle" >StageI</text>
<path d="M264.60,176.10 C264.88,178.12 265.47,184.25 266.30,188.20 C267.13,192.15 268.47,195.95 269.60,199.80 C270.73,203.65 272.17,207.63 273.10,211.30 C274.03,214.97 275.40,218.32 275.20,221.80 C275.00,225.28 273.10,228.53 271.90,232.20 C270.70,235.87 268.98,239.93 268.00,243.80 C267.02,247.67 266.40,252.40 266.00,255.40 C265.60,258.40 265.67,260.73 265.60,261.80 L262.00,261.80 C261.93,260.73 262.00,258.40 261.60,255.40 C261.20,252.40 260.58,247.67 259.60,243.80 C258.62,239.93 256.90,235.87 255.70,232.20 C254.50,228.53 252.60,225.28 252.40,221.80 C252.20,218.32 253.57,214.97 254.50,211.30 C255.43,207.63 256.87,203.65 258.00,199.80 C259.13,195.95 260.47,192.15 261.30,188.20 C262.13,184.25 262.72,178.12 263.00,176.10 Z" fill="#eb0988"/>
<line x1="263.80" y1="176.10" x2="263.80" y2="261.80" stroke="#3a0020" stroke-width="0.5"/>
<rect x="262.95" y="211.30" width="1.7" height="22.50" fill="#000"/>
<rect x="262.80" y="221.50" width="2.0" height="2.0" fill="#fff"/>
<line x1="263.8" y1="265.8" x2="263.8" y2="268.2" stroke="#666" stroke-width="0.7"/>
<text transform="translate(260.40 273.80) scale(0.2500)" font-family="'Liberation Serif', serif" font-size="28.40" font-weight="bold" fill="#000" text-anchor="middle" >StageII</text>
<path d="M293.10,180.10 C293.23,181.45 293.10,184.92 293.90,188.20 C294.70,191.48 296.53,195.95 297.90,199.80 C299.27,203.65 301.10,207.45 302.10,211.30 C303.10,215.15 304.08,219.03 303.90,222.90 C303.72,226.77 302.17,230.63 301.00,234.50 C299.83,238.37 297.85,242.62 296.90,246.10 C295.95,249.58 295.53,253.00 295.30,255.40 C295.07,257.80 295.47,259.65 295.50,260.50 L289.10,260.50 C289.13,259.65 289.53,257.80 289.30,255.40 C289.07,253.00 288.65,249.58 287.70,246.10 C286.75,242.62 284.77,238.37 283.60,234.50 C282.43,230.63 280.88,226.77 280.70,222.90 C280.52,219.03 281.50,215.15 282.50,211.30 C283.50,207.45 285.33,203.65 286.70,199.80 C288.07,195.95 289.90,191.48 290.70,188.20 C291.50,184.92 291.37,181.45 291.50,180.10 Z" fill="#eb0988"/>
<line x1="292.30" y1="180.10" x2="292.30" y2="260.50" stroke="#3a0020" stroke-width="0.5"/>
<rect x="291.45" y="213.20" width="1.7" height="21.30" fill="#000"/>
<rect x="291.30" y="222.40" width="2.0" height="2.0" fill="#fff"/>
<line x1="292.3" y1="265.8" x2="292.3" y2="268.2" stroke="#666" stroke-width="0.7"/>
<text transform="translate(293.30 273.80) scale(0.2500)" font-family="'Liberation Serif', serif" font-size="28.40" font-weight="bold" fill="#000" text-anchor="middle" >StageIII</text>
<path d="M324.30,187.00 C324.95,188.35 327.10,192.20 328.20,195.10 C329.30,198.00 330.20,200.92 330.90,204.40 C331.60,207.88 332.18,211.75 332.40,216.00 C332.62,220.25 332.62,225.65 332.20,229.90 C331.78,234.15 330.83,237.65 329.90,241.50 C328.97,245.35 327.15,251.08 326.60,253.00 L315.80,253.00 C315.25,251.08 313.43,245.35 312.50,241.50 C311.57,237.65 310.62,234.15 310.20,229.90 C309.78,225.65 309.78,220.25 310.00,216.00 C310.22,211.75 310.80,207.88 311.50,204.40 C312.20,200.92 313.10,198.00 314.20,195.10 C315.30,192.20 317.45,188.35 318.10,187.00 Z" fill="#eb0988"/>
<line x1="321.20" y1="187.00" x2="321.20" y2="253.00" stroke="#3a0020" stroke-width="0.5"/>
<rect x="320.35" y="211.30" width="1.7" height="24.40" fill="#000"/>
<rect x="320.20" y="220.80" width="2.0" height="2.0" fill="#fff"/>
<line x1="321.2" y1="265.8" x2="321.2" y2="268.2" stroke="#666" stroke-width="0.7"/>
<text transform="translate(322.20 273.80) scale(0.2500)" font-family="'Liberation Serif', serif" font-size="28.40" font-weight="bold" fill="#000" text-anchor="middle" >StageIV</text>
<text transform="translate(188.30 172.90) scale(0.2500)" font-family="'Liberation Serif', serif" font-size="38.00" font-weight="normal" fill="#000" text-anchor="start" >SKCM</text>
<text transform="translate(339.10 171.70) scale(0.2500)" font-family="'Liberation Serif', serif" font-size="32.00" font-weight="normal" fill="#222" text-anchor="end" >F= 2.68 P= 0.0312</text>
<rect x="371.3" y="162.4" width="129.5" height="103.4" fill="#fff" stroke="#999" stroke-width="0.9"/>
<line x1="370.8" y1="162.4" x2="501.3" y2="162.4" stroke="#555" stroke-width="1.4"/>
<line x1="368.90000000000003" y1="184.5" x2="371.3" y2="184.5" stroke="#666" stroke-width="0.7"/>
<text transform="translate(366.50 187.25) scale(0.2500)" font-family="'Liberation Serif', serif" font-size="32.80" font-weight="bold" fill="#000" text-anchor="end" >1.0</text>
<line x1="368.90000000000003" y1="212.1" x2="371.3" y2="212.1" stroke="#666" stroke-width="0.7"/>
<text transform="translate(366.50 214.85) scale(0.2500)" font-family="'Liberation Serif', serif" font-size="32.80" font-weight="bold" fill="#000" text-anchor="end" >0.5</text>
<line x1="368.90000000000003" y1="239.6" x2="371.3" y2="239.6" stroke="#666" stroke-width="0.7"/>
<text transform="translate(366.50 242.35) scale(0.2500)" font-family="'Liberation Serif', serif" font-size="32.80" font-weight="bold" fill="#000" text-anchor="end" >0.0</text>
<path d="M391.25,194.10 C391.34,194.75 391.48,196.37 391.80,198.00 C392.12,199.63 392.48,201.30 393.20,203.90 C393.92,206.50 395.12,210.37 396.10,213.60 C397.08,216.83 398.20,220.07 399.10,223.30 C400.00,226.53 400.93,229.77 401.50,233.00 C402.07,236.23 402.75,239.78 402.50,242.70 C402.25,245.62 401.02,248.07 400.00,250.50 C398.98,252.93 397.42,255.45 396.40,257.30 C395.38,259.15 394.32,260.88 393.90,261.60 L387.70,261.60 C387.28,260.88 386.22,259.15 385.20,257.30 C384.18,255.45 382.62,252.93 381.60,250.50 C380.58,248.07 379.35,245.62 379.10,242.70 C378.85,239.78 379.53,236.23 380.10,233.00 C380.67,229.77 381.60,226.53 382.50,223.30 C383.40,220.07 384.52,216.83 385.50,213.60 C386.48,210.37 387.68,206.50 388.40,203.90 C389.12,201.30 389.48,199.63 389.80,198.00 C390.12,196.37 390.26,194.75 390.35,194.10 Z" fill="#eb0988"/>
<line x1="390.80" y1="179.00" x2="390.80" y2="194.10" stroke="#b48aa0" stroke-width="0.9"/>
<line x1="390.80" y1="194.10" x2="390.80" y2="261.60" stroke="#3a0020" stroke-width="0.5"/>
<rect x="389.95" y="228.70" width="1.7" height="19.50" fill="#000"/>
<rect x="389.80" y="238.20" width="2.0" height="2.0" fill="#fff"/>
<line x1="390.8" y1="265.8" x2="390.8" y2="268.2" stroke="#666" stroke-width="0.7"/>
<text transform="translate(390.50 273.80) scale(0.2500)" font-family="'Liberation Serif', serif" font-size="28.40" font-weight="bold" fill="#000" text-anchor="middle" >StageI</text>
<path d="M422.10,210.70 C422.37,211.83 422.82,214.75 423.70,217.50 C424.58,220.25 426.22,223.97 427.40,227.20 C428.58,230.43 429.90,233.98 430.80,236.90 C431.70,239.82 432.72,242.12 432.80,244.70 C432.88,247.28 432.20,250.13 431.30,252.40 C430.40,254.67 428.48,256.77 427.40,258.30 C426.32,259.83 425.23,261.05 424.80,261.60 L417.40,261.60 C416.97,261.05 415.88,259.83 414.80,258.30 C413.72,256.77 411.80,254.67 410.90,252.40 C410.00,250.13 409.32,247.28 409.40,244.70 C409.48,242.12 410.50,239.82 411.40,236.90 C412.30,233.98 413.62,230.43 414.80,227.20 C415.98,223.97 417.62,220.25 418.50,217.50 C419.38,214.75 419.83,211.83 420.10,210.70 Z" fill="#eb0988"/>
<line x1="421.10" y1="210.70" x2="421.10" y2="261.60" stroke="#3a0020" stroke-width="0.5"/>
<rect x="420.25" y="237.90" width="1.7" height="14.90" fill="#000"/>
<rect x="420.10" y="243.70" width="2.0" height="2.0" fill="#fff"/>
<line x1="421.1" y1="265.8" x2="421.1" y2="268.2" stroke="#666" stroke-width="0.7"/>
<text transform="translate(421.50 273.80) scale(0.2500)" font-family="'Liberation Serif', serif" font-size="28.40" font-weight="bold" fill="#000" text-anchor="middle" >StageII</text>
<path d="M451.15,196.10 C451.34,196.75 451.79,198.05 452.30,200.00 C452.81,201.95 453.43,204.88 454.20,207.80 C454.97,210.72 455.87,214.27 456.90,217.50 C457.93,220.73 459.48,223.97 460.40,227.20 C461.32,230.43 462.18,233.67 462.40,236.90 C462.62,240.13 462.52,243.68 461.70,246.60 C460.88,249.52 458.60,252.20 457.50,254.40 C456.40,256.60 455.50,258.90 455.10,259.80 L446.30,259.80 C445.90,258.90 445.00,256.60 443.90,254.40 C442.80,252.20 440.52,249.52 439.70,246.60 C438.88,243.68 438.78,240.13 439.00,236.90 C439.22,233.67 440.08,230.43 441.00,227.20 C441.92,223.97 443.47,220.73 444.50,217.50 C445.53,214.27 446.43,210.72 447.20,207.80 C447.97,204.88 448.59,201.95 449.10,200.00 C449.61,198.05 450.06,196.75 450.25,196.10 Z" fill="#eb0988"/>
<line x1="450.70" y1="175.10" x2="450.70" y2="196.10" stroke="#b48aa0" stroke-width="0.9"/>
<line x1="450.70" y1="196.10" x2="450.70" y2="259.80" stroke="#3a0020" stroke-width="0.5"/>
<rect x="449.85" y="229.10" width="1.7" height="16.50" fill="#000"/>
<rect x="449.70" y="236.30" width="2.0" height="2.0" fill="#fff"/>
<line x1="450.7" y1="265.8" x2="450.7" y2="268.2" stroke="#666" stroke-width="0.7"/>
<text transform="translate(452.90 273.80) scale(0.2500)" font-family="'Liberation Serif', serif" font-size="28.40" font-weight="bold" fill="#000" text-anchor="middle" >StageIII</text>
<path d="M483.00,204.80 C483.43,205.93 484.52,208.83 485.60,211.60 C486.68,214.37 488.45,218.15 489.50,221.40 C490.55,224.65 491.38,227.87 491.90,231.10 C492.42,234.33 492.77,237.57 492.60,240.80 C492.43,244.03 491.92,247.48 490.90,250.50 C489.88,253.52 487.23,257.50 486.50,258.90 L475.90,258.90 C475.17,257.50 472.52,253.52 471.50,250.50 C470.48,247.48 469.97,244.03 469.80,240.80 C469.63,237.57 469.98,234.33 470.50,231.10 C471.02,227.87 471.85,224.65 472.90,221.40 C473.95,218.15 475.72,214.37 476.80,211.60 C477.88,208.83 478.97,205.93 479.40,204.80 Z" fill="#eb0988"/>
<line x1="481.20" y1="204.80" x2="481.20" y2="258.90" stroke="#3a0020" stroke-width="0.5"/>
<rect x="480.35" y="229.50" width="1.7" height="17.10" fill="#000"/>
<rect x="480.20" y="237.50" width="2.0" height="2.0" fill="#fff"/>
<line x1="481.2" y1="265.8" x2="481.2" y2="268.2" stroke="#666" stroke-width="0.7"/>
<text transform="translate(484.40 273.80) scale(0.2500)" font-family="'Liberation Serif', serif" font-size="28.40" font-weight="bold" fill="#000" text-anchor="middle" >StageIV</text>
<text transform="translate(374.10 172.90) scale(0.2500)" font-family="'Liberation Serif', serif" font-size="36.40" font-weight="normal" fill="#000" text-anchor="start" >THCA</text>
<text transform="translate(499.80 171.70) scale(0.2500)" font-family="'Liberation Serif', serif" font-size="32.00" font-weight="normal" fill="#222" text-anchor="end" >F= 3.1 P= 0.0264</text>
<rect x="530.4" y="162.4" width="130.20000000000005" height="103.9" fill="#fff" stroke="#999" stroke-width="0.9"/>
<line x1="529.9" y1="162.4" x2="661.1" y2="162.4" stroke="#555" stroke-width="1.4"/>
<line x1="528.0" y1="169" x2="530.4" y2="169" stroke="#666" stroke-width="0.7"/>
<text transform="translate(526.90 171.75) scale(0.2500)" font-family="'Liberation Serif', serif" font-size="32.80" font-weight="bold" fill="#000" text-anchor="end" >5</text>
<line x1="528.0" y1="188.8" x2="530.4" y2="188.8" stroke="#666" stroke-width="0.7"/>
<text transform="translate(526.90 191.55) scale(0.2500)" font-family="'Liberation Serif', serif" font-size="32.80" font-weight="bold" fill="#000" text-anchor="end" >4</text>
<line x1="528.0" y1="208.6" x2="530.4" y2="208.6" stroke="#666" stroke-width="0.7"/>
<text transform="translate(526.90 211.35) scale(0.2500)" font-family="'Liberation Serif', serif" font-size="32.80" font-weight="bold" fill="#000" text-anchor="end" >3</text>
<line x1="528.0" y1="228.4" x2="530.4" y2="228.4" stroke="#666" stroke-width="0.7"/>
<text transform="translate(526.90 231.15) scale(0.2500)" font-family="'Liberation Serif', serif" font-size="32.80" font-weight="bold" fill="#000" text-anchor="end" >2</text>
<line x1="528.0" y1="248.1" x2="530.4" y2="248.1" stroke="#666" stroke-width="0.7"/>
<text transform="translate(526.90 250.85) scale(0.2500)" font-family="'Liberation Serif', serif" font-size="32.80" font-weight="bold" fill="#000" text-anchor="end" >1</text>
<path d="M550.90,175.10 C550.91,177.58 550.92,185.85 550.95,190.00 C550.98,194.15 550.99,197.68 551.10,200.00 C551.21,202.32 551.07,201.63 551.60,203.90 C552.13,206.17 553.37,210.37 554.30,213.60 C555.23,216.83 556.13,220.07 557.20,223.30 C558.27,226.53 559.83,230.08 560.70,233.00 C561.57,235.92 562.30,238.20 562.40,240.80 C562.50,243.40 562.13,246.02 561.30,248.60 C560.47,251.18 558.57,254.13 557.40,256.30 C556.23,258.47 554.82,260.72 554.30,261.60 L546.50,261.60 C545.98,260.72 544.57,258.47 543.40,256.30 C542.23,254.13 540.33,251.18 539.50,248.60 C538.67,246.02 538.30,243.40 538.40,240.80 C538.50,238.20 539.23,235.92 540.10,233.00 C540.97,230.08 542.53,226.53 543.60,223.30 C544.67,220.07 545.57,216.83 546.50,213.60 C547.43,210.37 548.67,206.17 549.20,203.90 C549.73,201.63 549.59,202.32 549.70,200.00 C549.81,197.68 549.82,194.15 549.85,190.00 C549.88,185.85 549.89,177.58 549.90,175.10 Z" fill="#eb0988"/>
<line x1="550.40" y1="175.10" x2="550.40" y2="261.60" stroke="#3a0020" stroke-width="0.5"/>
<rect x="549.55" y="227.60" width="1.7" height="21.90" fill="#000"/>
<rect x="549.40" y="237.50" width="2.0" height="2.0" fill="#fff"/>
<line x1="550.4" y1="266.3" x2="550.4" y2="268.7" stroke="#666" stroke-width="0.7"/>
<text transform="translate(548.10 274.30) scale(0.2500)" font-family="'Liberation Serif', serif" font-size="28.40" font-weight="bold" fill="#000" text-anchor="middle" >StageI</text>
<path d="M581.10,182.10 C581.18,183.08 581.38,186.00 581.60,188.00 C581.82,190.00 581.90,191.45 582.40,194.10 C582.90,196.75 583.83,200.65 584.60,203.90 C585.37,207.15 586.18,210.37 587.00,213.60 C587.82,216.83 588.67,220.07 589.50,223.30 C590.33,226.53 591.48,230.08 592.00,233.00 C592.52,235.92 592.90,238.20 592.60,240.80 C592.30,243.40 591.32,246.02 590.20,248.60 C589.08,251.18 586.93,254.30 585.90,256.30 C584.87,258.30 584.32,259.88 584.00,260.60 L577.00,260.60 C576.68,259.88 576.13,258.30 575.10,256.30 C574.07,254.30 571.92,251.18 570.80,248.60 C569.68,246.02 568.70,243.40 568.40,240.80 C568.10,238.20 568.48,235.92 569.00,233.00 C569.52,230.08 570.67,226.53 571.50,223.30 C572.33,220.07 573.18,216.83 574.00,213.60 C574.82,210.37 575.63,207.15 576.40,203.90 C577.17,200.65 578.10,196.75 578.60,194.10 C579.10,191.45 579.18,190.00 579.40,188.00 C579.62,186.00 579.82,183.08 579.90,182.10 Z" fill="#eb0988"/>
<line x1="580.50" y1="182.10" x2="580.50" y2="260.60" stroke="#3a0020" stroke-width="0.5"/>
<rect x="579.65" y="221.70" width="1.7" height="23.90" fill="#000"/>
<rect x="579.50" y="234.90" width="2.0" height="2.0" fill="#fff"/>
<line x1="580.5" y1="266.3" x2="580.5" y2="268.7" stroke="#666" stroke-width="0.7"/>
<text transform="translate(579.80 274.30) scale(0.2500)" font-family="'Liberation Serif', serif" font-size="28.40" font-weight="bold" fill="#000" text-anchor="middle" >StageII</text>
<path d="M611.60,184.40 C611.75,186.02 611.90,190.85 612.50,194.10 C613.10,197.35 614.18,200.65 615.20,203.90 C616.22,207.15 617.58,210.37 618.60,213.60 C619.62,216.83 620.72,220.07 621.30,223.30 C621.88,226.53 622.27,229.77 622.10,233.00 C621.93,236.23 621.22,239.47 620.30,242.70 C619.38,245.93 617.57,249.58 616.60,252.40 C615.63,255.22 614.85,258.40 614.50,259.60 L605.70,259.60 C605.35,258.40 604.57,255.22 603.60,252.40 C602.63,249.58 600.82,245.93 599.90,242.70 C598.98,239.47 598.27,236.23 598.10,233.00 C597.93,229.77 598.32,226.53 598.90,223.30 C599.48,220.07 600.58,216.83 601.60,213.60 C602.62,210.37 603.98,207.15 605.00,203.90 C606.02,200.65 607.10,197.35 607.70,194.10 C608.30,190.85 608.45,186.02 608.60,184.40 Z" fill="#eb0988"/>
<line x1="610.10" y1="184.40" x2="610.10" y2="259.60" stroke="#3a0020" stroke-width="0.5"/>
<rect x="609.25" y="222.30" width="1.7" height="19.50" fill="#000"/>
<rect x="609.10" y="232.40" width="2.0" height="2.0" fill="#fff"/>
<line x1="610.1" y1="266.3" x2="610.1" y2="268.7" stroke="#666" stroke-width="0.7"/>
<text transform="translate(610.60 274.30) scale(0.2500)" font-family="'Liberation Serif', serif" font-size="28.40" font-weight="bold" fill="#000" text-anchor="middle" >StageIII</text>
<path d="M643.00,187.90 C643.25,188.93 643.55,191.43 644.50,194.10 C645.45,196.77 647.52,200.65 648.70,203.90 C649.88,207.15 651.02,210.68 651.60,213.60 C652.18,216.52 652.37,218.48 652.20,221.40 C652.03,224.32 651.35,227.55 650.60,231.10 C649.85,234.65 648.47,239.15 647.70,242.70 C646.93,246.25 646.37,249.58 646.00,252.40 C645.63,255.22 645.58,258.40 645.50,259.60 L635.30,259.60 C635.22,258.40 635.17,255.22 634.80,252.40 C634.43,249.58 633.87,246.25 633.10,242.70 C632.33,239.15 630.95,234.65 630.20,231.10 C629.45,227.55 628.77,224.32 628.60,221.40 C628.43,218.48 628.62,216.52 629.20,213.60 C629.78,210.68 630.92,207.15 632.10,203.90 C633.28,200.65 635.35,196.77 636.30,194.10 C637.25,191.43 637.55,188.93 637.80,187.90 Z" fill="#eb0988"/>
<line x1="640.40" y1="187.90" x2="640.40" y2="259.60" stroke="#3a0020" stroke-width="0.5"/>
<rect x="639.55" y="212.00" width="1.7" height="28.80" fill="#000"/>
<rect x="639.40" y="225.20" width="2.0" height="2.0" fill="#fff"/>
<line x1="640.4" y1="266.3" x2="640.4" y2="268.7" stroke="#666" stroke-width="0.7"/>
<text transform="translate(642.30 274.30) scale(0.2500)" font-family="'Liberation Serif', serif" font-size="28.40" font-weight="bold" fill="#000" text-anchor="middle" >StageIV</text>
<text transform="translate(532.70 172.90) scale(0.2500)" font-family="'Liberation Serif', serif" font-size="37.60" font-weight="normal" fill="#000" text-anchor="start" >LUAD</text>
<text transform="translate(659.60 171.70) scale(0.2500)" font-family="'Liberation Serif', serif" font-size="32.00" font-weight="normal" fill="#222" text-anchor="end" >F= 5.81 P= 0.000664</text>
<text transform="translate(0.5 15.7) scale(1 1.1)" font-family="'Liberation Serif', serif" font-size="21.2" font-weight="bold">A</text>
<rect x="74.40" y="319.9" width="15.70" height="14.9" fill="#fe7e7b"/>
<rect x="89.95" y="319.9" width="15.70" height="14.9" fill="#fef6f4"/>
<rect x="105.50" y="319.9" width="15.70" height="14.9" fill="#fef7f5"/>
<rect x="121.05" y="319.9" width="15.70" height="14.9" fill="#d6daff"/>
<rect x="136.60" y="319.9" width="15.70" height="14.9" fill="#e4e7fd"/>
<rect x="152.15" y="319.9" width="15.70" height="14.9" fill="#d6daff"/>
<rect x="167.70" y="319.9" width="15.70" height="14.9" fill="#e9ecfd"/>
<rect x="183.25" y="319.9" width="15.70" height="14.9" fill="#f4f5fe"/>
<rect x="198.80" y="319.9" width="15.70" height="14.9" fill="#fefeff"/>
<rect x="214.35" y="319.9" width="15.70" height="14.9" fill="#eef0fd"/>
<rect x="229.90" y="319.9" width="15.70" height="14.9" fill="#ff7672"/>
<rect x="245.45" y="319.9" width="15.70" height="14.9" fill="#fff2f0"/>
<rect x="261.00" y="319.9" width="15.70" height="14.9" fill="#fdcac8"/>
<rect x="276.55" y="319.9" width="15.70" height="14.9" fill="#fde1de"/>
<rect x="292.10" y="319.9" width="15.70" height="14.9" fill="#fcc0bd"/>
<rect x="307.65" y="319.9" width="15.70" height="14.9" fill="#fdd8d4"/>
<rect x="323.20" y="319.9" width="15.70" height="14.9" fill="#fde7e4"/>
<rect x="338.75" y="319.9" width="15.70" height="14.9" fill="#f0f2fd"/>
<rect x="354.30" y="319.9" width="15.70" height="14.9" fill="#faa8a6"/>
<rect x="369.85" y="319.9" width="15.70" height="14.9" fill="#eef0fd"/>
<rect x="385.40" y="319.9" width="15.70" height="14.9" fill="#fde3df"/>
<rect x="400.95" y="319.9" width="15.70" height="14.9" fill="#fddad7"/>
<rect x="416.50" y="319.9" width="15.70" height="14.9" fill="#fcc6c3"/>
<rect x="432.05" y="319.9" width="15.70" height="14.9" fill="#b3bffd"/>
<rect x="447.60" y="319.9" width="15.70" height="14.9" fill="#fdddda"/>
<rect x="463.15" y="319.9" width="15.70" height="14.9" fill="#fdddda"/>
<rect x="478.70" y="319.9" width="15.70" height="14.9" fill="#eaedfd"/>
<rect x="494.25" y="319.9" width="15.70" height="14.9" fill="#808080"/>
<rect x="509.80" y="319.9" width="15.70" height="14.9" fill="#eef0fd"/>
<rect x="525.35" y="319.9" width="15.70" height="14.9" fill="#808080"/>
<rect x="540.90" y="319.9" width="15.70" height="14.9" fill="#fef0ee"/>
<rect x="556.45" y="319.9" width="15.70" height="14.9" fill="#e3e6fd"/>
<rect x="572.00" y="319.9" width="15.70" height="14.9" fill="#fee2de"/>
<rect x="75.00" y="320.5" width="14.35" height="13.700000000000001" fill="none" stroke="#ee2a2e" stroke-width="1.1"/>
<rect x="121.65" y="320.5" width="14.35" height="13.700000000000001" fill="none" stroke="#2e2eee" stroke-width="1.1"/>
<rect x="152.75" y="320.5" width="14.35" height="13.700000000000001" fill="none" stroke="#2e2eee" stroke-width="1.1"/>
<rect x="261.60" y="320.5" width="14.35" height="13.700000000000001" fill="none" stroke="#ee2a2e" stroke-width="1.1"/>
<rect x="292.70" y="320.5" width="14.35" height="13.700000000000001" fill="none" stroke="#ee2a2e" stroke-width="1.1"/>
<rect x="308.25" y="320.5" width="14.35" height="13.700000000000001" fill="none" stroke="#ee2a2e" stroke-width="1.1"/>
<rect x="354.90" y="320.5" width="14.35" height="13.700000000000001" fill="none" stroke="#ee2a2e" stroke-width="1.1"/>
<rect x="448.20" y="320.5" width="14.35" height="13.700000000000001" fill="none" stroke="#ee2a2e" stroke-width="1.1"/>
<rect x="463.75" y="320.5" width="14.35" height="13.700000000000001" fill="none" stroke="#ee2a2e" stroke-width="1.1"/>
<rect x="525.95" y="320.5" width="14.35" height="13.700000000000001" fill="none" stroke="#2e2eee" stroke-width="1.1"/>
<text x="85.58" y="343.8" font-family="'Liberation Sans', sans-serif" font-size="7.3" fill="#4a4a4a" text-anchor="end" transform="rotate(-40 85.58 343.8)">ACC</text>
<text x="101.13" y="343.8" font-family="'Liberation Sans', sans-serif" font-size="7.3" fill="#4a4a4a" text-anchor="end" transform="rotate(-40 101.13 343.8)">BLCA</text>
<text x="116.68" y="343.8" font-family="'Liberation Sans', sans-serif" font-size="7.3" fill="#4a4a4a" text-anchor="end" transform="rotate(-40 116.68 343.8)">BRCA</text>
<text x="132.23" y="343.8" font-family="'Liberation Sans', sans-serif" font-size="7.3" fill="#4a4a4a" text-anchor="end" transform="rotate(-40 132.23 343.8)">CESC</text>
<text x="147.78" y="343.8" font-family="'Liberation Sans', sans-serif" font-size="7.3" fill="#4a4a4a" text-anchor="end" transform="rotate(-40 147.78 343.8)">CHOL</text>
<text x="163.33" y="343.8" font-family="'Liberation Sans', sans-serif" font-size="7.3" fill="#4a4a4a" text-anchor="end" transform="rotate(-40 163.33 343.8)">COAD</text>
<text x="178.88" y="343.8" font-family="'Liberation Sans', sans-serif" font-size="7.3" fill="#4a4a4a" text-anchor="end" transform="rotate(-40 178.88 343.8)">DLBC</text>
<text x="194.43" y="343.8" font-family="'Liberation Sans', sans-serif" font-size="7.3" fill="#4a4a4a" text-anchor="end" transform="rotate(-40 194.43 343.8)">ESCA</text>
<text x="209.98" y="343.8" font-family="'Liberation Sans', sans-serif" font-size="7.3" fill="#4a4a4a" text-anchor="end" transform="rotate(-40 209.98 343.8)">GBM</text>
<text x="225.53" y="343.8" font-family="'Liberation Sans', sans-serif" font-size="7.3" fill="#4a4a4a" text-anchor="end" transform="rotate(-40 225.53 343.8)">HNSC</text>
<text x="241.08" y="343.8" font-family="'Liberation Sans', sans-serif" font-size="7.3" fill="#4a4a4a" text-anchor="end" transform="rotate(-40 241.08 343.8)">KICH</text>
<text x="256.62" y="343.8" font-family="'Liberation Sans', sans-serif" font-size="7.3" fill="#4a4a4a" text-anchor="end" transform="rotate(-40 256.62 343.8)">KIRC</text>
<text x="272.17" y="343.8" font-family="'Liberation Sans', sans-serif" font-size="7.3" fill="#4a4a4a" text-anchor="end" transform="rotate(-40 272.17 343.8)">KIRP</text>
<text x="287.73" y="343.8" font-family="'Liberation Sans', sans-serif" font-size="7.3" fill="#4a4a4a" text-anchor="end" transform="rotate(-40 287.73 343.8)">LAML</text>
<text x="303.27" y="343.8" font-family="'Liberation Sans', sans-serif" font-size="7.3" fill="#4a4a4a" text-anchor="end" transform="rotate(-40 303.27 343.8)">LGG</text>
<text x="318.82" y="343.8" font-family="'Liberation Sans', sans-serif" font-size="7.3" fill="#4a4a4a" text-anchor="end" transform="rotate(-40 318.82 343.8)">LIHC</text>
<text x="334.38" y="343.8" font-family="'Liberation Sans', sans-serif" font-size="7.3" fill="#4a4a4a" text-anchor="end" transform="rotate(-40 334.38 343.8)">LUAD</text>
<text x="349.92" y="343.8" font-family="'Liberation Sans', sans-serif" font-size="7.3" fill="#4a4a4a" text-anchor="end" transform="rotate(-40 349.92 343.8)">LUSC</text>
<text x="365.48" y="343.8" font-family="'Liberation Sans', sans-serif" font-size="7.3" fill="#4a4a4a" text-anchor="end" transform="rotate(-40 365.48 343.8)">MESO</text>
<text x="381.02" y="343.8" font-family="'Liberation Sans', sans-serif" font-size="7.3" fill="#4a4a4a" text-anchor="end" transform="rotate(-40 381.02 343.8)">OV</text>
<text x="396.58" y="343.8" font-family="'Liberation Sans', sans-serif" font-size="7.3" fill="#4a4a4a" text-anchor="end" transform="rotate(-40 396.58 343.8)">PAAD</text>
<text x="412.12" y="343.8" font-family="'Liberation Sans', sans-serif" font-size="7.3" fill="#4a4a4a" text-anchor="end" transform="rotate(-40 412.12 343.8)">PCPG</text>
<text x="427.67" y="343.8" font-family="'Liberation Sans', sans-serif" font-size="7.3" fill="#4a4a4a" text-anchor="end" transform="rotate(-40 427.67 343.8)">PRAD</text>
<text x="443.23" y="343.8" font-family="'Liberation Sans', sans-serif" font-size="7.3" fill="#4a4a4a" text-anchor="end" transform="rotate(-40 443.23 343.8)">READ</text>
<text x="458.77" y="343.8" font-family="'Liberation Sans', sans-serif" font-size="7.3" fill="#4a4a4a" text-anchor="end" transform="rotate(-40 458.77 343.8)">SARC</text>
<text x="474.33" y="343.8" font-family="'Liberation Sans', sans-serif" font-size="7.3" fill="#4a4a4a" text-anchor="end" transform="rotate(-40 474.33 343.8)">SKCM</text>
<text x="489.88" y="343.8" font-family="'Liberation Sans', sans-serif" font-size="7.3" fill="#4a4a4a" text-anchor="end" transform="rotate(-40 489.88 343.8)">STAD</text>
<text x="505.42" y="343.8" font-family="'Liberation Sans', sans-serif" font-size="7.3" fill="#4a4a4a" text-anchor="end" transform="rotate(-40 505.42 343.8)">TGCT</text>
<text x="520.98" y="343.8" font-family="'Liberation Sans', sans-serif" font-size="7.3" fill="#4a4a4a" text-anchor="end" transform="rotate(-40 520.98 343.8)">THCA</text>
<text x="536.52" y="343.8" font-family="'Liberation Sans', sans-serif" font-size="7.3" fill="#4a4a4a" text-anchor="end" transform="rotate(-40 536.52 343.8)">THYM</text>
<text x="552.08" y="343.8" font-family="'Liberation Sans', sans-serif" font-size="7.3" fill="#4a4a4a" text-anchor="end" transform="rotate(-40 552.08 343.8)">UCEC</text>
<text x="567.62" y="343.8" font-family="'Liberation Sans', sans-serif" font-size="7.3" fill="#4a4a4a" text-anchor="end" transform="rotate(-40 567.62 343.8)">UCS</text>
<text x="583.17" y="343.8" font-family="'Liberation Sans', sans-serif" font-size="7.3" fill="#4a4a4a" text-anchor="end" transform="rotate(-40 583.17 343.8)">UVM</text>
<rect x="123.50" y="562.9" width="15.70" height="15.7" fill="#ff6e6c"/>
<rect x="139.05" y="562.9" width="15.70" height="15.7" fill="#fee2de"/>
<rect x="154.60" y="562.9" width="15.70" height="15.7" fill="#feedea"/>
<rect x="170.15" y="562.9" width="15.70" height="15.7" fill="#fef4f2"/>
<rect x="185.70" y="562.9" width="15.70" height="15.7" fill="#eef0fe"/>
<rect x="201.25" y="562.9" width="15.70" height="15.7" fill="#d7dbfd"/>
<rect x="216.80" y="562.9" width="15.70" height="15.7" fill="#fdb4b0"/>
<rect x="232.35" y="562.9" width="15.70" height="15.7" fill="#e0e3fd"/>
<rect x="247.90" y="562.9" width="15.70" height="15.7" fill="#e0e3fd"/>
<rect x="263.45" y="562.9" width="15.70" height="15.7" fill="#f0f2fe"/>
<rect x="279.00" y="562.9" width="15.70" height="15.7" fill="#ff6c6c"/>
<rect x="294.55" y="562.9" width="15.70" height="15.7" fill="#fffdfd"/>
<rect x="310.10" y="562.9" width="15.70" height="15.7" fill="#fdaba7"/>
<rect x="325.65" y="562.9" width="15.70" height="15.7" fill="#fed6d2"/>
<rect x="341.20" y="562.9" width="15.70" height="15.7" fill="#ffffff"/>
<rect x="356.75" y="562.9" width="15.70" height="15.7" fill="#fff1ef"/>
<rect x="372.30" y="562.9" width="15.70" height="15.7" fill="#fecac6"/>
<rect x="387.85" y="562.9" width="15.70" height="15.7" fill="#ebedfd"/>
<rect x="403.40" y="562.9" width="15.70" height="15.7" fill="#feb9b5"/>
<rect x="418.95" y="562.9" width="15.70" height="15.7" fill="#fd9f9b"/>
<rect x="434.50" y="562.9" width="15.70" height="15.7" fill="#4488ff"/>
<rect x="450.05" y="562.9" width="15.70" height="15.7" fill="#fec3bf"/>
<rect x="465.60" y="562.9" width="15.70" height="15.7" fill="#fed9d5"/>
<rect x="481.15" y="562.9" width="15.70" height="15.7" fill="#e0e5fd"/>
<rect x="496.70" y="562.9" width="15.70" height="15.7" fill="#fff1ef"/>
<rect x="512.25" y="562.9" width="15.70" height="15.7" fill="#feaeaa"/>
<rect x="527.80" y="562.9" width="15.70" height="15.7" fill="#dbdffd"/>
<rect x="543.35" y="562.9" width="15.70" height="15.7" fill="#fff1ef"/>
<rect x="558.90" y="562.9" width="15.70" height="15.7" fill="#d3d9fd"/>
<rect x="574.45" y="562.9" width="15.70" height="15.7" fill="#feaaa6"/>
<rect x="124.10" y="563.5" width="14.35" height="14.5" fill="none" stroke="#ee2a2e" stroke-width="1.1"/>
<rect x="310.70" y="563.5" width="14.35" height="14.5" fill="none" stroke="#ee2a2e" stroke-width="1.1"/>
<rect x="326.25" y="563.5" width="14.35" height="14.5" fill="none" stroke="#ee2a2e" stroke-width="1.1"/>
<rect x="404.00" y="563.5" width="14.35" height="14.5" fill="none" stroke="#ee2a2e" stroke-width="1.1"/>
<rect x="419.55" y="563.5" width="14.35" height="14.5" fill="none" stroke="#ee2a2e" stroke-width="1.1"/>
<rect x="435.10" y="563.5" width="14.35" height="14.5" fill="none" stroke="#2f5ff5" stroke-width="1.1"/>
<rect x="450.65" y="563.5" width="14.35" height="14.5" fill="none" stroke="#ee2a2e" stroke-width="1.1"/>
<rect x="466.20" y="563.5" width="14.35" height="14.5" fill="none" stroke="#ee2a2e" stroke-width="1.1"/>
<rect x="512.85" y="563.5" width="14.35" height="14.5" fill="none" stroke="#ee2a2e" stroke-width="1.1"/>
<text x="134.88" y="588.4" font-family="'Liberation Sans', sans-serif" font-size="7.5" fill="#4a4a4a" text-anchor="end" transform="rotate(-45 134.88 588.4)">ACC</text>
<text x="150.42" y="588.4" font-family="'Liberation Sans', sans-serif" font-size="7.5" fill="#4a4a4a" text-anchor="end" transform="rotate(-45 150.42 588.4)">BLCA</text>
<text x="165.97" y="588.4" font-family="'Liberation Sans', sans-serif" font-size="7.5" fill="#4a4a4a" text-anchor="end" transform="rotate(-45 165.97 588.4)">BRCA</text>
<text x="181.53" y="588.4" font-family="'Liberation Sans', sans-serif" font-size="7.5" fill="#4a4a4a" text-anchor="end" transform="rotate(-45 181.53 588.4)">CESC</text>
<text x="197.08" y="588.4" font-family="'Liberation Sans', sans-serif" font-size="7.5" fill="#4a4a4a" text-anchor="end" transform="rotate(-45 197.08 588.4)">CHOL</text>
<text x="212.62" y="588.4" font-family="'Liberation Sans', sans-serif" font-size="7.5" fill="#4a4a4a" text-anchor="end" transform="rotate(-45 212.62 588.4)">COAD</text>
<text x="228.17" y="588.4" font-family="'Liberation Sans', sans-serif" font-size="7.5" fill="#4a4a4a" text-anchor="end" transform="rotate(-45 228.17 588.4)">DLBC</text>
<text x="243.72" y="588.4" font-family="'Liberation Sans', sans-serif" font-size="7.5" fill="#4a4a4a" text-anchor="end" transform="rotate(-45 243.72 588.4)">ESCA</text>
<text x="259.28" y="588.4" font-family="'Liberation Sans', sans-serif" font-size="7.5" fill="#4a4a4a" text-anchor="end" transform="rotate(-45 259.28 588.4)">GBM</text>
<text x="274.83" y="588.4" font-family="'Liberation Sans', sans-serif" font-size="7.5" fill="#4a4a4a" text-anchor="end" transform="rotate(-45 274.83 588.4)">HNSC</text>
<text x="290.38" y="588.4" font-family="'Liberation Sans', sans-serif" font-size="7.5" fill="#4a4a4a" text-anchor="end" transform="rotate(-45 290.38 588.4)">KICH</text>
<text x="305.93" y="588.4" font-family="'Liberation Sans', sans-serif" font-size="7.5" fill="#4a4a4a" text-anchor="end" transform="rotate(-45 305.93 588.4)">KIRC</text>
<text x="321.48" y="588.4" font-family="'Liberation Sans', sans-serif" font-size="7.5" fill="#4a4a4a" text-anchor="end" transform="rotate(-45 321.48 588.4)">KIRP</text>
<text x="337.03" y="588.4" font-family="'Liberation Sans', sans-serif" font-size="7.5" fill="#4a4a4a" text-anchor="end" transform="rotate(-45 337.03 588.4)">LIHC</text>
<text x="352.58" y="588.4" font-family="'Liberation Sans', sans-serif" font-size="7.5" fill="#4a4a4a" text-anchor="end" transform="rotate(-45 352.58 588.4)">LUAD</text>
<text x="368.12" y="588.4" font-family="'Liberation Sans', sans-serif" font-size="7.5" fill="#4a4a4a" text-anchor="end" transform="rotate(-45 368.12 588.4)">LUSC</text>
<text x="383.68" y="588.4" font-family="'Liberation Sans', sans-serif" font-size="7.5" fill="#4a4a4a" text-anchor="end" transform="rotate(-45 383.68 588.4)">MESO</text>
<text x="399.23" y="588.4" font-family="'Liberation Sans', sans-serif" font-size="7.5" fill="#4a4a4a" text-anchor="end" transform="rotate(-45 399.23 588.4)">OV</text>
<text x="414.78" y="588.4" font-family="'Liberation Sans', sans-serif" font-size="7.5" fill="#4a4a4a" text-anchor="end" transform="rotate(-45 414.78 588.4)">PAAD</text>
<text x="430.33" y="588.4" font-family="'Liberation Sans', sans-serif" font-size="7.5" fill="#4a4a4a" text-anchor="end" transform="rotate(-45 430.33 588.4)">PRAD</text>
<text x="445.88" y="588.4" font-family="'Liberation Sans', sans-serif" font-size="7.5" fill="#4a4a4a" text-anchor="end" transform="rotate(-45 445.88 588.4)">READ</text>
<text x="461.43" y="588.4" font-family="'Liberation Sans', sans-serif" font-size="7.5" fill="#4a4a4a" text-anchor="end" transform="rotate(-45 461.43 588.4)">SARC</text>
<text x="476.98" y="588.4" font-family="'Liberation Sans', sans-serif" font-size="7.5" fill="#4a4a4a" text-anchor="end" transform="rotate(-45 476.98 588.4)">SKCM</text>
<text x="492.53" y="588.4" font-family="'Liberation Sans', sans-serif" font-size="7.5" fill="#4a4a4a" text-anchor="end" transform="rotate(-45 492.53 588.4)">STAD</text>
<text x="508.08" y="588.4" font-family="'Liberation Sans', sans-serif" font-size="7.5" fill="#4a4a4a" text-anchor="end" transform="rotate(-45 508.08 588.4)">TGCT</text>
<text x="523.63" y="588.4" font-family="'Liberation Sans', sans-serif" font-size="7.5" fill="#4a4a4a" text-anchor="end" transform="rotate(-45 523.63 588.4)">THCA</text>
<text x="539.18" y="588.4" font-family="'Liberation Sans', sans-serif" font-size="7.5" fill="#4a4a4a" text-anchor="end" transform="rotate(-45 539.18 588.4)">THYM</text>
<text x="554.73" y="588.4" font-family="'Liberation Sans', sans-serif" font-size="7.5" fill="#4a4a4a" text-anchor="end" transform="rotate(-45 554.73 588.4)">UCEC</text>
<text x="570.27" y="588.4" font-family="'Liberation Sans', sans-serif" font-size="7.5" fill="#4a4a4a" text-anchor="end" transform="rotate(-45 570.27 588.4)">UCS</text>
<text x="585.83" y="588.4" font-family="'Liberation Sans', sans-serif" font-size="7.5" fill="#4a4a4a" text-anchor="end" transform="rotate(-45 585.83 588.4)">UVM</text>
<defs><linearGradient id="g313" x1="0" y1="0" x2="0" y2="1"><stop offset="0" stop-color="#f65a5a"/><stop offset="0.5" stop-color="#ffffff"/><stop offset="1" stop-color="#2a7cf5"/></linearGradient></defs>
<rect x="595.9" y="313.4" width="7.1" height="32" fill="url(#g313)"/>
<text font-family="'Liberation Sans', sans-serif" font-size="9.0" fill="#333" transform="translate(595.9 311.8) scale(0.5)">log10(HR)</text>
<text font-family="'Liberation Sans', sans-serif" font-size="9.0" fill="#555" transform="translate(604.4 316.00) scale(0.5)">1.0</text>
<text font-family="'Liberation Sans', sans-serif" font-size="9.0" fill="#555" transform="translate(604.4 323.50) scale(0.5)">0.5</text>
<text font-family="'Liberation Sans', sans-serif" font-size="9.0" fill="#555" transform="translate(604.4 331.00) scale(0.5)">0.0</text>
<text font-family="'Liberation Sans', sans-serif" font-size="9.0" fill="#555" transform="translate(604.4 338.50) scale(0.5)">−0.5</text>
<text font-family="'Liberation Sans', sans-serif" font-size="9.0" fill="#555" transform="translate(604.4 346.00) scale(0.5)">−1.0</text>
<defs><linearGradient id="g555" x1="0" y1="0" x2="0" y2="1"><stop offset="0" stop-color="#f65a5a"/><stop offset="0.5" stop-color="#ffffff"/><stop offset="1" stop-color="#2a7cf5"/></linearGradient></defs>
<rect x="598.9" y="555.5" width="7.1" height="35.2" fill="url(#g555)"/>
<text font-family="'Liberation Sans', sans-serif" font-size="9.0" fill="#333" transform="translate(598.9 553.6) scale(0.5)">log10(HR)</text>
<text font-family="'Liberation Sans', sans-serif" font-size="9.0" fill="#555" transform="translate(607.4 558.10) scale(0.5)">0.50</text>
<text font-family="'Liberation Sans', sans-serif" font-size="9.0" fill="#555" transform="translate(607.4 566.40) scale(0.5)">0.25</text>
<text font-family="'Liberation Sans', sans-serif" font-size="9.0" fill="#555" transform="translate(607.4 574.70) scale(0.5)">0.00</text>
<text font-family="'Liberation Sans', sans-serif" font-size="9.0" fill="#555" transform="translate(607.4 583.00) scale(0.5)">−0.25</text>
<text font-family="'Liberation Sans', sans-serif" font-size="9.0" fill="#555" transform="translate(607.4 591.30) scale(0.5)">−0.50</text>
<text x="6.60" y="320.80" font-family="'Liberation Serif', serif" font-size="22" font-weight="bold" fill="#000" text-anchor="start" >B</text>
<text x="77.00" y="310.50" font-family="'Liberation Serif', serif" font-size="12.55" font-weight="bold" fill="#000" text-anchor="start" >Overall Survival</text>
<text x="32.40" y="332.20" font-family="'Liberation Serif', serif" font-size="13.75" font-weight="bold" fill="#000" text-anchor="start" >ORC1</text>
<text x="14.60" y="574.00" font-family="'Liberation Serif', serif" font-size="22.6" font-weight="bold" fill="#000" text-anchor="start" >C</text>
<text x="126.30" y="549.80" font-family="'Liberation Serif', serif" font-size="12.7" font-weight="bold" fill="#000" text-anchor="start" >Disease Free Survival</text>
<text x="74.40" y="576.40" font-family="'Liberation Serif', serif" font-size="13.8" font-weight="bold" fill="#000" text-anchor="start" >ORC1</text>
<rect x="34.4" y="389.4" width="110.9" height="100.60000000000002" fill="#fff" stroke="#808080" stroke-width="0.8"/>
<line x1="32.199999999999996" y1="393.4" x2="34.4" y2="393.4" stroke="#777" stroke-width="0.6"/>
<text transform="translate(29.90 396.40) scale(0.2500)" font-family="'Liberation Serif', serif" font-size="31.20" font-weight="bold" fill="#000" text-anchor="end" >1.0</text>
<line x1="32.199999999999996" y1="411.97999999999996" x2="34.4" y2="411.97999999999996" stroke="#777" stroke-width="0.6"/>
<text transform="translate(29.90 414.98) scale(0.2500)" font-family="'Liberation Serif', serif" font-size="31.20" font-weight="bold" fill="#000" text-anchor="end" >0.8</text>
<line x1="32.199999999999996" y1="430.56" x2="34.4" y2="430.56" stroke="#777" stroke-width="0.6"/>
<text transform="translate(29.90 433.56) scale(0.2500)" font-family="'Liberation Serif', serif" font-size="31.20" font-weight="bold" fill="#000" text-anchor="end" >0.6</text>
<line x1="32.199999999999996" y1="449.14" x2="34.4" y2="449.14" stroke="#777" stroke-width="0.6"/>
<text transform="translate(29.90 452.14) scale(0.2500)" font-family="'Liberation Serif', serif" font-size="31.20" font-weight="bold" fill="#000" text-anchor="end" >0.4</text>
<line x1="32.199999999999996" y1="467.72" x2="34.4" y2="467.72" stroke="#777" stroke-width="0.6"/>
<text transform="translate(29.90 470.72) scale(0.2500)" font-family="'Liberation Serif', serif" font-size="31.20" font-weight="bold" fill="#000" text-anchor="end" >0.2</text>
<line x1="32.199999999999996" y1="486.3" x2="34.4" y2="486.3" stroke="#777" stroke-width="0.6"/>
<text transform="translate(29.90 489.30) scale(0.2500)" font-family="'Liberation Serif', serif" font-size="31.20" font-weight="bold" fill="#000" text-anchor="end" >0.0</text>
<line x1="34.4" y1="490.0" x2="34.4" y2="492.2" stroke="#777" stroke-width="0.6"/>
<text transform="translate(34.40 500.00) scale(0.2500)" font-family="'Liberation Serif', serif" font-size="31.20" font-weight="bold" fill="#000" text-anchor="middle" >0</text>
<line x1="68.3" y1="490.0" x2="68.3" y2="492.2" stroke="#777" stroke-width="0.6"/>
<text transform="translate(68.30 500.00) scale(0.2500)" font-family="'Liberation Serif', serif" font-size="31.20" font-weight="bold" fill="#000" text-anchor="middle" >50</text>
<line x1="102.2" y1="490.0" x2="102.2" y2="492.2" stroke="#777" stroke-width="0.6"/>
<text transform="translate(102.20 500.00) scale(0.2500)" font-family="'Liberation Serif', serif" font-size="31.20" font-weight="bold" fill="#000" text-anchor="middle" >100</text>
<line x1="136.1" y1="490.0" x2="136.1" y2="492.2" stroke="#777" stroke-width="0.6"/>
<text transform="translate(136.10 500.00) scale(0.2500)" font-family="'Liberation Serif', serif" font-size="31.20" font-weight="bold" fill="#000" text-anchor="middle" >150</text>
<path d="M62.29,393.38 L89.19,393.38 L89.19,393.38 L89.19,393.38 L89.19,442.71 L142.11,442.71 L142.11,442.71" fill="none" stroke="#b5ebb5" stroke-width="0.6" stroke-dasharray="0.9,0.9"/>
<path d="M62.29,393.38 L62.29,393.38 L62.29,412.22 L73.05,412.22 L73.05,421.18 L89.19,421.18 L89.19,442.71 L89.19,442.71 L89.19,442.71" fill="none" stroke="#b5ebb5" stroke-width="0.6" stroke-dasharray="0.9,0.9"/>
<path d="M37.17,393.38 L41.66,393.38 L41.66,397.87 L45.25,397.87 L45.25,405.04 L47.40,405.04 L47.40,413.11 L49.73,413.11 L49.73,416.70 L59.60,416.70 L59.60,424.77 L74.48,424.77 L74.48,424.77 L74.48,424.77 L74.48,424.77" fill="none" stroke="#f9c2f3" stroke-width="0.6" stroke-dasharray="0.9,0.9"/>
<path d="M37.17,395.17 L41.66,395.17 L41.66,405.04 L46.50,405.04 L46.50,419.39 L47.40,419.39 L47.40,441.81 L55.11,441.81 L55.11,449.88 L61.93,449.88 L61.93,458.85 L82.91,458.85 L82.91,472.30 L118.79,472.30 L118.79,472.30" fill="none" stroke="#f9c2f3" stroke-width="0.6" stroke-dasharray="0.9,0.9"/>
<path d="M34.48,393.38 L62.29,393.38 L62.29,396.07 L65.34,396.07 L65.34,400.20 L71.61,400.20 L71.61,404.14 L73.05,404.14 L73.05,408.63 L89.19,408.63 L89.19,424.41 L142.11,424.41 L142.11,424.41" fill="none" stroke="#3cbf3c" stroke-width="1.15" stroke-linejoin="miter"/>
<line x1="50.63" y1="392.18" x2="50.63" y2="394.58" stroke="#3cbf3c" stroke-width="0.8"/>
<line x1="52.42" y1="392.18" x2="52.42" y2="394.58" stroke="#3cbf3c" stroke-width="0.8"/>
<line x1="54.22" y1="392.18" x2="54.22" y2="394.58" stroke="#3cbf3c" stroke-width="0.8"/>
<line x1="56.01" y1="392.18" x2="56.01" y2="394.58" stroke="#3cbf3c" stroke-width="0.8"/>
<line x1="57.80" y1="392.18" x2="57.80" y2="394.58" stroke="#3cbf3c" stroke-width="0.8"/>
<line x1="59.60" y1="392.18" x2="59.60" y2="394.58" stroke="#3cbf3c" stroke-width="0.8"/>
<line x1="61.39" y1="392.18" x2="61.39" y2="394.58" stroke="#3cbf3c" stroke-width="0.8"/>
<line x1="76.64" y1="407.43" x2="76.64" y2="409.83" stroke="#3cbf3c" stroke-width="0.8"/>
<line x1="78.79" y1="407.43" x2="78.79" y2="409.83" stroke="#3cbf3c" stroke-width="0.8"/>
<line x1="81.48" y1="407.43" x2="81.48" y2="409.83" stroke="#3cbf3c" stroke-width="0.8"/>
<line x1="84.17" y1="407.43" x2="84.17" y2="409.83" stroke="#3cbf3c" stroke-width="0.8"/>
<line x1="87.04" y1="407.43" x2="87.04" y2="409.83" stroke="#3cbf3c" stroke-width="0.8"/>
<line x1="96.73" y1="423.21" x2="96.73" y2="425.61" stroke="#3cbf3c" stroke-width="0.8"/>
<line x1="102.65" y1="423.21" x2="102.65" y2="425.61" stroke="#3cbf3c" stroke-width="0.8"/>
<line x1="108.92" y1="423.21" x2="108.92" y2="425.61" stroke="#3cbf3c" stroke-width="0.8"/>
<line x1="116.10" y1="423.21" x2="116.10" y2="425.61" stroke="#3cbf3c" stroke-width="0.8"/>
<path d="M34.48,393.38 L37.17,393.38 L37.17,396.07 L38.97,396.07 L38.97,399.66 L41.66,399.66 L41.66,403.25 L43.99,403.25 L43.99,407.73 L45.25,407.73 L45.25,411.32 L46.50,411.32 L46.50,419.39 L47.40,419.39 L47.40,430.15 L48.30,430.15 L48.30,431.95 L49.73,431.95 L49.73,434.28 L55.11,434.28 L55.11,436.79 L57.80,436.79 L57.80,439.12 L59.60,439.12 L59.60,441.81 L61.93,441.81 L61.93,445.40 L74.48,445.40 L74.48,451.14 L82.91,451.14 L82.91,460.29 L118.79,460.29 L118.79,460.29" fill="none" stroke="#f03ce0" stroke-width="1.15" stroke-linejoin="miter"/>
<line x1="45.25" y1="410.12" x2="45.25" y2="412.52" stroke="#f03ce0" stroke-width="0.8"/>
<line x1="55.11" y1="435.59" x2="55.11" y2="437.99" stroke="#f03ce0" stroke-width="0.8"/>
<line x1="100.85" y1="459.09" x2="100.85" y2="461.49" stroke="#f03ce0" stroke-width="0.8"/>
<line x1="94.57" y1="394.82" x2="103.18" y2="394.82" stroke="#3cbf3c" stroke-width="0.9"/>
<line x1="94.57" y1="399.08" x2="103.18" y2="399.08" stroke="#f03ce0" stroke-width="0.9"/>
<text font-family="'Liberation Sans', sans-serif" font-size="9.2" fill="#444" text-anchor="end" transform="translate(142.11 396.42) scale(0.5)">Low ORC1 Group</text>
<text font-family="'Liberation Sans', sans-serif" font-size="9.2" fill="#444" text-anchor="end" transform="translate(142.11 400.68) scale(0.5)">High ORC1 Group</text>
<text font-family="'Liberation Sans', sans-serif" font-size="9.2" fill="#444" text-anchor="end" transform="translate(142.11 405.88) scale(0.5)">Logrank p=5e−05</text>
<text font-family="'Liberation Sans', sans-serif" font-size="9.2" fill="#444" text-anchor="end" transform="translate(142.11 411.08) scale(0.5)">HR(high)=6.6</text>
<text font-family="'Liberation Sans', sans-serif" font-size="9.2" fill="#444" text-anchor="end" transform="translate(142.11 416.28) scale(0.5)">p(HR)=9.8e−05</text>
<text font-family="'Liberation Sans', sans-serif" font-size="9.2" fill="#444" text-anchor="end" transform="translate(142.11 421.48) scale(0.5)">n(high)=38</text>
<text font-family="'Liberation Sans', sans-serif" font-size="9.2" fill="#444" text-anchor="end" transform="translate(142.11 426.68) scale(0.5)">n(low)=38</text>
<text transform="translate(36.20 486.90) scale(0.2500)" font-family="'Liberation Serif', serif" font-size="38.00" font-weight="normal" fill="#f21414" text-anchor="start" >ACC</text>
<rect x="163.9" y="390.5" width="113.29999999999998" height="99.0" fill="#fff" stroke="#999" stroke-width="0.8"/>
<line x1="161.70000000000002" y1="393.4" x2="163.9" y2="393.4" stroke="#777" stroke-width="0.6"/>
<text transform="translate(159.40 396.40) scale(0.2500)" font-family="'Liberation Serif', serif" font-size="31.20" font-weight="bold" fill="#000" text-anchor="end" >1.0</text>
<line x1="161.70000000000002" y1="411.97999999999996" x2="163.9" y2="411.97999999999996" stroke="#777" stroke-width="0.6"/>
<text transform="translate(159.40 414.98) scale(0.2500)" font-family="'Liberation Serif', serif" font-size="31.20" font-weight="bold" fill="#000" text-anchor="end" >0.8</text>
<line x1="161.70000000000002" y1="430.56" x2="163.9" y2="430.56" stroke="#777" stroke-width="0.6"/>
<text transform="translate(159.40 433.56) scale(0.2500)" font-family="'Liberation Serif', serif" font-size="31.20" font-weight="bold" fill="#000" text-anchor="end" >0.6</text>
<line x1="161.70000000000002" y1="449.14" x2="163.9" y2="449.14" stroke="#777" stroke-width="0.6"/>
<text transform="translate(159.40 452.14) scale(0.2500)" font-family="'Liberation Serif', serif" font-size="31.20" font-weight="bold" fill="#000" text-anchor="end" >0.4</text>
<line x1="161.70000000000002" y1="467.72" x2="163.9" y2="467.72" stroke="#777" stroke-width="0.6"/>
<text transform="translate(159.40 470.72) scale(0.2500)" font-family="'Liberation Serif', serif" font-size="31.20" font-weight="bold" fill="#000" text-anchor="end" >0.2</text>
<line x1="161.70000000000002" y1="486.3" x2="163.9" y2="486.3" stroke="#777" stroke-width="0.6"/>
<text transform="translate(159.40 489.30) scale(0.2500)" font-family="'Liberation Serif', serif" font-size="31.20" font-weight="bold" fill="#000" text-anchor="end" >0.0</text>
<line x1="164.0" y1="489.5" x2="164.0" y2="491.7" stroke="#777" stroke-width="0.6"/>
<text transform="translate(164.00 499.50) scale(0.2500)" font-family="'Liberation Serif', serif" font-size="31.20" font-weight="bold" fill="#000" text-anchor="middle" >0</text>
<line x1="188.7" y1="489.5" x2="188.7" y2="491.7" stroke="#777" stroke-width="0.6"/>
<text transform="translate(188.70 499.50) scale(0.2500)" font-family="'Liberation Serif', serif" font-size="31.20" font-weight="bold" fill="#000" text-anchor="middle" >50</text>
<line x1="214.1" y1="489.5" x2="214.1" y2="491.7" stroke="#777" stroke-width="0.6"/>
<text transform="translate(214.10 499.50) scale(0.2500)" font-family="'Liberation Serif', serif" font-size="31.20" font-weight="bold" fill="#000" text-anchor="middle" >100</text>
<line x1="239.1" y1="489.5" x2="239.1" y2="491.7" stroke="#777" stroke-width="0.6"/>
<text transform="translate(239.10 499.50) scale(0.2500)" font-family="'Liberation Serif', serif" font-size="31.20" font-weight="bold" fill="#000" text-anchor="middle" >150</text>
<line x1="263.8" y1="489.5" x2="263.8" y2="491.7" stroke="#777" stroke-width="0.6"/>
<text transform="translate(263.80 499.50) scale(0.2500)" font-family="'Liberation Serif', serif" font-size="31.20" font-weight="bold" fill="#000" text-anchor="middle" >200</text>
<path d="M167.17,396.97 L170.76,414.91 L179.73,435.00 L186.91,440.02 L199.46,440.02 L212.02,450.78 L212.91,460.65 L255.07,460.65" fill="none" stroke="#b5ebb5" stroke-width="0.6" stroke-dasharray="0.9,0.9"/>
<path d="M170.76,395.17 L177.94,405.94 L195.87,418.49 L213.81,428.36 L255.07,428.36" fill="none" stroke="#b5ebb5" stroke-width="0.6" stroke-dasharray="0.9,0.9"/>
<path d="M167.17,394.28 L177.94,400.56 L192.29,409.52 L213.81,414.91 L217.40,418.49 L271.21,427.46" fill="none" stroke="#f9c2f3" stroke-width="0.6" stroke-dasharray="0.9,0.9"/>
<path d="M170.76,398.76 L181.52,414.91 L195.87,429.26 L213.81,441.81 L233.54,454.37 L272.11,454.37" fill="none" stroke="#f9c2f3" stroke-width="0.6" stroke-dasharray="0.9,0.9"/>
<path d="M163.95,393.38 L167.17,393.38 L167.17,396.07 L168.52,396.07 L168.52,398.31 L169.87,398.31 L169.87,400.56 L170.76,400.56 L170.76,402.80 L171.66,402.80 L171.66,405.04 L172.56,405.04 L172.56,407.28 L173.45,407.28 L173.45,409.52 L174.05,409.52 L174.05,411.32 L174.65,411.32 L174.65,413.11 L175.25,413.11 L175.25,414.91 L176.14,414.91 L176.14,416.70 L177.04,416.70 L177.04,418.49 L177.94,418.49 L177.94,420.29 L178.83,420.29 L178.83,422.08 L179.73,422.08 L179.73,423.70 L180.63,423.70 L180.63,425.31 L183.32,425.31 L183.32,427.46 L186.91,427.46 L186.91,429.61 L190.49,429.61 L190.49,430.51 L198.57,430.51 L198.57,433.74 L206.64,433.74 L206.64,438.22 L212.02,438.22 L212.02,442.71 L213.45,442.71 L213.45,447.19 L255.96,447.19 L255.96,447.19" fill="none" stroke="#3cbf3c" stroke-width="1.15" stroke-linejoin="miter"/>
<line x1="192.29" y1="429.31" x2="192.29" y2="431.71" stroke="#3cbf3c" stroke-width="0.8"/>
<line x1="194.08" y1="429.31" x2="194.08" y2="431.71" stroke="#3cbf3c" stroke-width="0.8"/>
<line x1="195.87" y1="429.31" x2="195.87" y2="431.71" stroke="#3cbf3c" stroke-width="0.8"/>
<line x1="201.26" y1="432.54" x2="201.26" y2="434.94" stroke="#3cbf3c" stroke-width="0.8"/>
<line x1="203.05" y1="432.54" x2="203.05" y2="434.94" stroke="#3cbf3c" stroke-width="0.8"/>
<line x1="204.84" y1="432.54" x2="204.84" y2="434.94" stroke="#3cbf3c" stroke-width="0.8"/>
<line x1="217.40" y1="445.99" x2="217.40" y2="448.39" stroke="#3cbf3c" stroke-width="0.8"/>
<line x1="222.78" y1="445.99" x2="222.78" y2="448.39" stroke="#3cbf3c" stroke-width="0.8"/>
<line x1="228.16" y1="445.99" x2="228.16" y2="448.39" stroke="#3cbf3c" stroke-width="0.8"/>
<line x1="233.54" y1="445.99" x2="233.54" y2="448.39" stroke="#3cbf3c" stroke-width="0.8"/>
<line x1="238.92" y1="445.99" x2="238.92" y2="448.39" stroke="#3cbf3c" stroke-width="0.8"/>
<path d="M163.95,393.38 L167.17,393.38 L167.17,395.17 L170.76,395.17 L170.76,397.87 L172.56,397.87 L172.56,399.66 L174.35,399.66 L174.35,401.45 L176.14,401.45 L176.14,403.25 L177.94,403.25 L177.94,405.04 L179.73,405.04 L179.73,407.28 L181.52,407.28 L181.52,409.52 L183.32,409.52 L183.32,411.77 L185.11,411.77 L185.11,414.01 L186.91,414.01 L186.91,415.80 L188.70,415.80 L188.70,417.60 L192.29,417.60 L192.29,420.29 L195.87,420.29 L195.87,421.18 L199.10,421.18 L199.10,426.57 L215.25,426.57 L215.25,434.28 L233.54,434.28 L233.54,440.38 L272.65,440.38 L272.65,440.38" fill="none" stroke="#f03ce0" stroke-width="1.15" stroke-linejoin="miter"/>
<line x1="179.73" y1="406.08" x2="179.73" y2="408.48" stroke="#f03ce0" stroke-width="0.8"/>
<line x1="183.32" y1="410.57" x2="183.32" y2="412.97" stroke="#f03ce0" stroke-width="0.8"/>
<line x1="190.49" y1="416.40" x2="190.49" y2="418.80" stroke="#f03ce0" stroke-width="0.8"/>
<line x1="194.08" y1="419.09" x2="194.08" y2="421.49" stroke="#f03ce0" stroke-width="0.8"/>
<line x1="203.05" y1="425.37" x2="203.05" y2="427.77" stroke="#f03ce0" stroke-width="0.8"/>
<line x1="206.64" y1="425.37" x2="206.64" y2="427.77" stroke="#f03ce0" stroke-width="0.8"/>
<line x1="210.22" y1="425.37" x2="210.22" y2="427.77" stroke="#f03ce0" stroke-width="0.8"/>
<line x1="213.81" y1="425.37" x2="213.81" y2="427.77" stroke="#f03ce0" stroke-width="0.8"/>
<line x1="219.19" y1="433.08" x2="219.19" y2="435.48" stroke="#f03ce0" stroke-width="0.8"/>
<line x1="224.57" y1="433.08" x2="224.57" y2="435.48" stroke="#f03ce0" stroke-width="0.8"/>
<line x1="238.92" y1="439.18" x2="238.92" y2="441.58" stroke="#f03ce0" stroke-width="0.8"/>
<line x1="242.51" y1="439.18" x2="242.51" y2="441.58" stroke="#f03ce0" stroke-width="0.8"/>
<line x1="246.10" y1="439.18" x2="246.10" y2="441.58" stroke="#f03ce0" stroke-width="0.8"/>
<line x1="249.69" y1="439.18" x2="249.69" y2="441.58" stroke="#f03ce0" stroke-width="0.8"/>
<line x1="256.86" y1="439.18" x2="256.86" y2="441.58" stroke="#f03ce0" stroke-width="0.8"/>
<line x1="264.04" y1="439.18" x2="264.04" y2="441.58" stroke="#f03ce0" stroke-width="0.8"/>
<line x1="225.47" y1="394.82" x2="233.90" y2="394.82" stroke="#3cbf3c" stroke-width="0.9"/>
<line x1="225.47" y1="399.08" x2="233.90" y2="399.08" stroke="#f03ce0" stroke-width="0.9"/>
<text font-family="'Liberation Sans', sans-serif" font-size="9.2" fill="#444" text-anchor="end" transform="translate(273.36 396.42) scale(0.5)">Low ORC1 Group</text>
<text font-family="'Liberation Sans', sans-serif" font-size="9.2" fill="#444" text-anchor="end" transform="translate(273.36 400.68) scale(0.5)">High ORC1 Group</text>
<text font-family="'Liberation Sans', sans-serif" font-size="9.2" fill="#444" text-anchor="end" transform="translate(273.36 405.88) scale(0.5)">Logrank p=0.02</text>
<text font-family="'Liberation Sans', sans-serif" font-size="9.2" fill="#444" text-anchor="end" transform="translate(273.36 411.08) scale(0.5)">HR(high)=0.55</text>
<text font-family="'Liberation Sans', sans-serif" font-size="9.2" fill="#444" text-anchor="end" transform="translate(273.36 416.28) scale(0.5)">p(HR)=0.022</text>
<text font-family="'Liberation Sans', sans-serif" font-size="9.2" fill="#444" text-anchor="end" transform="translate(273.36 421.48) scale(0.5)">n(high)=146</text>
<text font-family="'Liberation Sans', sans-serif" font-size="9.2" fill="#444" text-anchor="end" transform="translate(273.36 426.68) scale(0.5)">n(low)=146</text>
<text transform="translate(165.40 486.70) scale(0.2500)" font-family="'Liberation Serif', serif" font-size="39.20" font-weight="normal" fill="#27aae1" text-anchor="start" >CESC</text>
<rect x="295.4" y="391.4" width="112.0" height="98.60000000000002" fill="#fff" stroke="#bbb" stroke-width="0.8"/>
<line x1="293.2" y1="395.2" x2="295.4" y2="395.2" stroke="#777" stroke-width="0.6"/>
<text transform="translate(290.90 398.20) scale(0.2500)" font-family="'Liberation Serif', serif" font-size="31.20" font-weight="bold" fill="#000" text-anchor="end" >1.0</text>
<line x1="293.2" y1="413.56" x2="295.4" y2="413.56" stroke="#777" stroke-width="0.6"/>
<text transform="translate(290.90 416.56) scale(0.2500)" font-family="'Liberation Serif', serif" font-size="31.20" font-weight="bold" fill="#000" text-anchor="end" >0.8</text>
<line x1="293.2" y1="431.92" x2="295.4" y2="431.92" stroke="#777" stroke-width="0.6"/>
<text transform="translate(290.90 434.92) scale(0.2500)" font-family="'Liberation Serif', serif" font-size="31.20" font-weight="bold" fill="#000" text-anchor="end" >0.6</text>
<line x1="293.2" y1="450.28" x2="295.4" y2="450.28" stroke="#777" stroke-width="0.6"/>
<text transform="translate(290.90 453.28) scale(0.2500)" font-family="'Liberation Serif', serif" font-size="31.20" font-weight="bold" fill="#000" text-anchor="end" >0.4</text>
<line x1="293.2" y1="468.64" x2="295.4" y2="468.64" stroke="#777" stroke-width="0.6"/>
<text transform="translate(290.90 471.64) scale(0.2500)" font-family="'Liberation Serif', serif" font-size="31.20" font-weight="bold" fill="#000" text-anchor="end" >0.2</text>
<line x1="293.2" y1="487.0" x2="295.4" y2="487.0" stroke="#777" stroke-width="0.6"/>
<text transform="translate(290.90 490.00) scale(0.2500)" font-family="'Liberation Serif', serif" font-size="31.20" font-weight="bold" fill="#000" text-anchor="end" >0.0</text>
<line x1="295.6" y1="490.0" x2="295.6" y2="492.2" stroke="#777" stroke-width="0.6"/>
<text transform="translate(295.60 500.00) scale(0.2500)" font-family="'Liberation Serif', serif" font-size="31.20" font-weight="bold" fill="#000" text-anchor="middle" >0</text>
<line x1="320.1" y1="490.0" x2="320.1" y2="492.2" stroke="#777" stroke-width="0.6"/>
<text transform="translate(320.10 500.00) scale(0.2500)" font-family="'Liberation Serif', serif" font-size="31.20" font-weight="bold" fill="#000" text-anchor="middle" >50</text>
<line x1="344.9" y1="490.0" x2="344.9" y2="492.2" stroke="#777" stroke-width="0.6"/>
<text transform="translate(344.90 500.00) scale(0.2500)" font-family="'Liberation Serif', serif" font-size="31.20" font-weight="bold" fill="#000" text-anchor="middle" >100</text>
<line x1="369.6" y1="490.0" x2="369.6" y2="492.2" stroke="#777" stroke-width="0.6"/>
<text transform="translate(369.60 500.00) scale(0.2500)" font-family="'Liberation Serif', serif" font-size="31.20" font-weight="bold" fill="#000" text-anchor="middle" >150</text>
<line x1="393.9" y1="490.0" x2="393.9" y2="492.2" stroke="#777" stroke-width="0.6"/>
<text transform="translate(393.90 500.00) scale(0.2500)" font-family="'Liberation Serif', serif" font-size="31.20" font-weight="bold" fill="#000" text-anchor="middle" >200</text>
<path d="M302.76,396.97 L327.87,404.14 L345.81,414.91 L370.03,422.08 L388.86,422.08" fill="none" stroke="#b5ebb5" stroke-width="0.6" stroke-dasharray="0.9,0.9"/>
<path d="M306.35,404.14 L327.87,423.87 L345.81,438.22 L354.78,447.19 L369.13,459.75 L381.69,481.27 L388.86,485.76" fill="none" stroke="#b5ebb5" stroke-width="0.6" stroke-dasharray="0.9,0.9"/>
<path d="M300.97,398.76 L318.91,423.87 L336.84,438.22 L354.78,447.19 L372.72,461.54 L403.21,461.54" fill="none" stroke="#f9c2f3" stroke-width="0.6" stroke-dasharray="0.9,0.9"/>
<path d="M302.76,405.94 L318.91,441.81 L336.84,459.75 L354.78,470.51 L367.34,479.48 L403.21,481.27" fill="none" stroke="#f9c2f3" stroke-width="0.6" stroke-dasharray="0.9,0.9"/>
<path d="M295.23,395.17 L299.17,395.17 L299.17,396.97 L302.76,396.97 L302.76,399.12 L306.35,399.12 L306.35,400.56 L309.94,400.56 L309.94,402.35 L313.52,402.35 L313.52,404.50 L315.32,404.50 L315.32,406.12 L317.11,406.12 L317.11,407.73 L320.70,407.73 L320.70,410.42 L324.29,410.42 L324.29,411.32 L325.63,411.32 L325.63,413.11 L326.98,413.11 L326.98,414.91 L329.67,414.91 L329.67,417.60 L333.26,417.60 L333.26,419.39 L335.95,419.39 L335.95,422.08 L339.53,422.08 L339.53,424.77 L343.12,424.77 L343.12,426.57 L344.02,426.57 L344.02,428.36 L344.91,428.36 L344.91,430.15 L349.04,430.15 L349.04,436.07 L355.14,436.07 L355.14,442.17 L369.49,442.17 L369.49,464.77 L381.69,464.77 L381.69,475.53 L388.86,475.53 L388.86,475.53" fill="none" stroke="#3cbf3c" stroke-width="1.15" stroke-linejoin="miter"/>
<line x1="309.94" y1="401.15" x2="309.94" y2="403.55" stroke="#3cbf3c" stroke-width="0.8"/>
<line x1="315.32" y1="404.92" x2="315.32" y2="407.32" stroke="#3cbf3c" stroke-width="0.8"/>
<line x1="318.91" y1="406.53" x2="318.91" y2="408.93" stroke="#3cbf3c" stroke-width="0.8"/>
<line x1="322.49" y1="409.22" x2="322.49" y2="411.62" stroke="#3cbf3c" stroke-width="0.8"/>
<line x1="325.18" y1="410.12" x2="325.18" y2="412.52" stroke="#3cbf3c" stroke-width="0.8"/>
<line x1="327.87" y1="413.71" x2="327.87" y2="416.11" stroke="#3cbf3c" stroke-width="0.8"/>
<line x1="331.46" y1="416.40" x2="331.46" y2="418.80" stroke="#3cbf3c" stroke-width="0.8"/>
<line x1="336.84" y1="420.88" x2="336.84" y2="423.28" stroke="#3cbf3c" stroke-width="0.8"/>
<line x1="342.22" y1="423.57" x2="342.22" y2="425.97" stroke="#3cbf3c" stroke-width="0.8"/>
<line x1="345.81" y1="428.95" x2="345.81" y2="431.35" stroke="#3cbf3c" stroke-width="0.8"/>
<line x1="385.27" y1="474.33" x2="385.27" y2="476.73" stroke="#3cbf3c" stroke-width="0.8"/>
<path d="M295.23,395.17 L297.38,395.17 L297.38,396.97 L298.73,396.97 L298.73,398.76 L300.07,398.76 L300.07,400.56 L300.97,400.56 L300.97,402.80 L301.87,402.80 L301.87,405.04 L302.76,405.04 L302.76,407.28 L303.66,407.28 L303.66,409.52 L304.26,409.52 L304.26,411.32 L304.86,411.32 L304.86,413.11 L305.45,413.11 L305.45,414.91 L306.35,414.91 L306.35,416.70 L307.25,416.70 L307.25,418.49 L308.14,418.49 L308.14,420.29 L309.49,420.29 L309.49,422.53 L310.83,422.53 L310.83,424.77 L312.18,424.77 L312.18,426.57 L313.52,426.57 L313.52,428.36 L314.87,428.36 L314.87,430.15 L316.22,430.15 L316.22,431.95 L317.56,431.95 L317.56,433.74 L318.91,433.74 L318.91,435.53 L319.80,435.53 L319.80,437.33 L320.70,437.33 L320.70,439.12 L321.60,439.12 L321.60,440.91 L322.49,440.91 L322.49,442.71 L325.18,442.71 L325.18,444.50 L327.87,444.50 L327.87,445.76 L331.46,445.76 L331.46,448.09 L335.05,448.09 L335.05,450.78 L338.64,450.78 L338.64,452.93 L342.22,452.93 L342.22,454.73 L344.02,454.73 L344.02,457.06 L345.81,457.06 L345.81,459.75 L353.88,459.75 L353.88,461.90 L360.16,461.90 L360.16,464.23 L361.96,464.23 L361.96,466.92 L363.75,466.92 L363.75,469.61 L365.54,469.61 L365.54,472.30 L366.44,472.30 L366.44,474.46 L374.51,474.46 L374.51,477.15 L403.21,477.15 L403.21,477.15" fill="none" stroke="#f03ce0" stroke-width="1.15" stroke-linejoin="miter"/>
<line x1="318.91" y1="434.33" x2="318.91" y2="436.73" stroke="#f03ce0" stroke-width="0.8"/>
<line x1="326.08" y1="443.30" x2="326.08" y2="445.70" stroke="#f03ce0" stroke-width="0.8"/>
<line x1="331.46" y1="446.89" x2="331.46" y2="449.29" stroke="#f03ce0" stroke-width="0.8"/>
<line x1="338.64" y1="451.73" x2="338.64" y2="454.13" stroke="#f03ce0" stroke-width="0.8"/>
<line x1="344.02" y1="455.86" x2="344.02" y2="458.26" stroke="#f03ce0" stroke-width="0.8"/>
<line x1="351.19" y1="458.55" x2="351.19" y2="460.95" stroke="#f03ce0" stroke-width="0.8"/>
<line x1="358.37" y1="460.70" x2="358.37" y2="463.10" stroke="#f03ce0" stroke-width="0.8"/>
<line x1="361.96" y1="465.72" x2="361.96" y2="468.12" stroke="#f03ce0" stroke-width="0.8"/>
<line x1="383.48" y1="475.95" x2="383.48" y2="478.35" stroke="#f03ce0" stroke-width="0.8"/>
<line x1="356.57" y1="396.43" x2="365.54" y2="396.43" stroke="#3cbf3c" stroke-width="0.9"/>
<line x1="356.57" y1="400.69" x2="365.54" y2="400.69" stroke="#f03ce0" stroke-width="0.9"/>
<text font-family="'Liberation Sans', sans-serif" font-size="9.2" fill="#444" text-anchor="end" transform="translate(404.65 398.03) scale(0.5)">Low ORC1 Group</text>
<text font-family="'Liberation Sans', sans-serif" font-size="9.2" fill="#444" text-anchor="end" transform="translate(404.65 402.29) scale(0.5)">High ORC1 Group</text>
<text font-family="'Liberation Sans', sans-serif" font-size="9.2" fill="#444" text-anchor="end" transform="translate(404.65 407.49) scale(0.5)">Logrank p=5.9e−08</text>
<text font-family="'Liberation Sans', sans-serif" font-size="9.2" fill="#444" text-anchor="end" transform="translate(404.65 412.69) scale(0.5)">HR(high)=2.9</text>
<text font-family="'Liberation Sans', sans-serif" font-size="9.2" fill="#444" text-anchor="end" transform="translate(404.65 417.89) scale(0.5)">p(HR)=2.2e−07</text>
<text font-family="'Liberation Sans', sans-serif" font-size="9.2" fill="#444" text-anchor="end" transform="translate(404.65 423.09) scale(0.5)">n(high)=257</text>
<text font-family="'Liberation Sans', sans-serif" font-size="9.2" fill="#444" text-anchor="end" transform="translate(404.65 428.29) scale(0.5)">n(low)=257</text>
<text transform="translate(296.20 487.60) scale(0.2500)" font-family="'Liberation Serif', serif" font-size="40.00" font-weight="normal" fill="#f21414" text-anchor="start" >LGG</text>
<rect x="427.6" y="391.5" width="113.60000000000002" height="99.5" fill="#fff" stroke="#bbb" stroke-width="0.8"/>
<line x1="425.40000000000003" y1="395.2" x2="427.6" y2="395.2" stroke="#777" stroke-width="0.6"/>
<text transform="translate(423.10 398.20) scale(0.2500)" font-family="'Liberation Serif', serif" font-size="31.20" font-weight="bold" fill="#000" text-anchor="end" >1.0</text>
<line x1="425.40000000000003" y1="413.68" x2="427.6" y2="413.68" stroke="#777" stroke-width="0.6"/>
<text transform="translate(423.10 416.68) scale(0.2500)" font-family="'Liberation Serif', serif" font-size="31.20" font-weight="bold" fill="#000" text-anchor="end" >0.8</text>
<line x1="425.40000000000003" y1="432.16" x2="427.6" y2="432.16" stroke="#777" stroke-width="0.6"/>
<text transform="translate(423.10 435.16) scale(0.2500)" font-family="'Liberation Serif', serif" font-size="31.20" font-weight="bold" fill="#000" text-anchor="end" >0.6</text>
<line x1="425.40000000000003" y1="450.64" x2="427.6" y2="450.64" stroke="#777" stroke-width="0.6"/>
<text transform="translate(423.10 453.64) scale(0.2500)" font-family="'Liberation Serif', serif" font-size="31.20" font-weight="bold" fill="#000" text-anchor="end" >0.4</text>
<line x1="425.40000000000003" y1="469.12" x2="427.6" y2="469.12" stroke="#777" stroke-width="0.6"/>
<text transform="translate(423.10 472.12) scale(0.2500)" font-family="'Liberation Serif', serif" font-size="31.20" font-weight="bold" fill="#000" text-anchor="end" >0.2</text>
<line x1="425.40000000000003" y1="487.6" x2="427.6" y2="487.6" stroke="#777" stroke-width="0.6"/>
<text transform="translate(423.10 490.60) scale(0.2500)" font-family="'Liberation Serif', serif" font-size="31.20" font-weight="bold" fill="#000" text-anchor="end" >0.0</text>
<line x1="427.6" y1="491.0" x2="427.6" y2="493.2" stroke="#777" stroke-width="0.6"/>
<text transform="translate(427.60 502.60) scale(0.2500)" font-family="'Liberation Serif', serif" font-size="31.20" font-weight="bold" fill="#000" text-anchor="middle" >0</text>
<line x1="456.2" y1="491.0" x2="456.2" y2="493.2" stroke="#777" stroke-width="0.6"/>
<text transform="translate(456.20 502.60) scale(0.2500)" font-family="'Liberation Serif', serif" font-size="31.20" font-weight="bold" fill="#000" text-anchor="middle" >50</text>
<line x1="484.6" y1="491.0" x2="484.6" y2="493.2" stroke="#777" stroke-width="0.6"/>
<text transform="translate(484.60 502.60) scale(0.2500)" font-family="'Liberation Serif', serif" font-size="31.20" font-weight="bold" fill="#000" text-anchor="middle" >100</text>
<line x1="513.6" y1="491.0" x2="513.6" y2="493.2" stroke="#777" stroke-width="0.6"/>
<text transform="translate(513.60 502.60) scale(0.2500)" font-family="'Liberation Serif', serif" font-size="31.20" font-weight="bold" fill="#000" text-anchor="middle" >150</text>
<path d="M438.35,402.35 L450.91,411.32 L459.87,418.49 L476.91,425.67 L477.81,427.10 L537.90,427.10" fill="none" stroke="#b5ebb5" stroke-width="0.6" stroke-dasharray="0.9,0.9"/>
<path d="M441.94,418.49 L459.87,436.43 L476.91,445.40 L477.81,451.14 L536.11,451.14" fill="none" stroke="#b5ebb5" stroke-width="0.6" stroke-dasharray="0.9,0.9"/>
<path d="M438.35,413.11 L459.87,434.64 L474.22,441.81 L477.81,445.04 L512.79,445.04" fill="none" stroke="#f9c2f3" stroke-width="0.6" stroke-dasharray="0.9,0.9"/>
<path d="M434.76,411.32 L450.91,436.43 L468.84,456.16 L477.81,470.51 L479.25,477.69 L512.79,477.69" fill="none" stroke="#f9c2f3" stroke-width="0.6" stroke-dasharray="0.9,0.9"/>
<path d="M427.59,395.17 L430.28,395.17 L430.28,397.87 L431.62,397.87 L431.62,399.66 L432.97,399.66 L432.97,401.45 L434.31,401.45 L434.31,403.25 L435.66,403.25 L435.66,405.04 L438.35,405.04 L438.35,407.73 L441.04,407.73 L441.04,409.52 L443.73,409.52 L443.73,411.32 L446.42,411.32 L446.42,413.11 L449.11,413.11 L449.11,415.80 L451.80,415.80 L451.80,418.49 L453.15,418.49 L453.15,420.29 L454.49,420.29 L454.49,422.08 L455.84,422.08 L455.84,423.87 L457.18,423.87 L457.18,425.67 L459.87,425.67 L459.87,427.46 L459.87,427.46 L459.87,430.15 L466.15,430.15 L466.15,434.28 L467.05,434.28 L467.05,436.07 L476.91,436.07 L476.91,441.45 L537.90,441.45 L537.90,441.45" fill="none" stroke="#3cbf3c" stroke-width="1.15" stroke-linejoin="miter"/>
<line x1="456.29" y1="422.67" x2="456.29" y2="425.07" stroke="#3cbf3c" stroke-width="0.8"/>
<line x1="458.08" y1="424.47" x2="458.08" y2="426.87" stroke="#3cbf3c" stroke-width="0.8"/>
<line x1="468.84" y1="434.87" x2="468.84" y2="437.27" stroke="#3cbf3c" stroke-width="0.8"/>
<line x1="470.64" y1="434.87" x2="470.64" y2="437.27" stroke="#3cbf3c" stroke-width="0.8"/>
<line x1="473.33" y1="434.87" x2="473.33" y2="437.27" stroke="#3cbf3c" stroke-width="0.8"/>
<line x1="483.19" y1="440.25" x2="483.19" y2="442.65" stroke="#3cbf3c" stroke-width="0.8"/>
<line x1="485.88" y1="440.25" x2="485.88" y2="442.65" stroke="#3cbf3c" stroke-width="0.8"/>
<line x1="488.57" y1="440.25" x2="488.57" y2="442.65" stroke="#3cbf3c" stroke-width="0.8"/>
<line x1="490.37" y1="440.25" x2="490.37" y2="442.65" stroke="#3cbf3c" stroke-width="0.8"/>
<line x1="499.34" y1="440.25" x2="499.34" y2="442.65" stroke="#3cbf3c" stroke-width="0.8"/>
<line x1="502.92" y1="440.25" x2="502.92" y2="442.65" stroke="#3cbf3c" stroke-width="0.8"/>
<line x1="506.51" y1="440.25" x2="506.51" y2="442.65" stroke="#3cbf3c" stroke-width="0.8"/>
<line x1="520.86" y1="440.25" x2="520.86" y2="442.65" stroke="#3cbf3c" stroke-width="0.8"/>
<line x1="527.14" y1="440.25" x2="527.14" y2="442.65" stroke="#3cbf3c" stroke-width="0.8"/>
<path d="M427.59,395.17 L428.48,395.17 L428.48,396.97 L429.38,396.97 L429.38,398.76 L430.73,398.76 L430.73,401.00 L432.07,401.00 L432.07,403.25 L433.42,403.25 L433.42,405.49 L434.76,405.49 L434.76,407.73 L435.66,407.73 L435.66,409.52 L436.56,409.52 L436.56,411.32 L437.45,411.32 L437.45,413.11 L438.35,413.11 L438.35,414.91 L439.25,414.91 L439.25,416.70 L440.14,416.70 L440.14,418.49 L441.49,418.49 L441.49,420.29 L442.83,420.29 L442.83,422.08 L445.52,422.08 L445.52,423.87 L446.42,423.87 L446.42,425.67 L447.32,425.67 L447.32,427.46 L448.22,427.46 L448.22,429.26 L449.56,429.26 L449.56,431.50 L450.91,431.50 L450.91,433.74 L454.49,433.74 L454.49,436.43 L457.18,436.43 L457.18,439.12 L459.87,439.12 L459.87,441.81 L461.22,441.81 L461.22,443.43 L462.57,443.43 L462.57,445.04 L463.91,445.04 L463.91,446.57 L465.26,446.57 L465.26,448.09 L467.95,448.09 L467.95,449.88 L471.53,449.88 L471.83,449.88 L471.83,451.50 L472.13,451.50 L472.13,453.11 L472.43,453.11 L472.43,454.73 L474.22,454.73 L474.22,457.06 L474.67,457.06 L474.67,458.85 L475.12,458.85 L475.12,460.65 L477.81,460.65 L477.81,462.98 L479.25,462.98 L479.25,467.28 L515.48,467.28 L515.48,467.28" fill="none" stroke="#f03ce0" stroke-width="1.15" stroke-linejoin="miter"/>
<line x1="459.87" y1="440.61" x2="459.87" y2="443.01" stroke="#f03ce0" stroke-width="0.8"/>
<line x1="467.05" y1="446.89" x2="467.05" y2="449.29" stroke="#f03ce0" stroke-width="0.8"/>
<line x1="486.78" y1="466.08" x2="486.78" y2="468.48" stroke="#f03ce0" stroke-width="0.8"/>
<line x1="490.01" y1="396.43" x2="497.90" y2="396.43" stroke="#3cbf3c" stroke-width="0.9"/>
<line x1="490.01" y1="400.69" x2="497.90" y2="400.69" stroke="#f03ce0" stroke-width="0.9"/>
<text font-family="'Liberation Sans', sans-serif" font-size="9.2" fill="#444" text-anchor="end" transform="translate(538.44 398.03) scale(0.5)">Low ORC1 Group</text>
<text font-family="'Liberation Sans', sans-serif" font-size="9.2" fill="#444" text-anchor="end" transform="translate(538.44 402.29) scale(0.5)">High ORC1 Group</text>
<text font-family="'Liberation Sans', sans-serif" font-size="9.2" fill="#444" text-anchor="end" transform="translate(538.44 407.49) scale(0.5)">Logrank p=0.0078</text>
<text font-family="'Liberation Sans', sans-serif" font-size="9.2" fill="#444" text-anchor="end" transform="translate(538.44 412.69) scale(0.5)">HR(high)=1.7</text>
<text font-family="'Liberation Sans', sans-serif" font-size="9.2" fill="#444" text-anchor="end" transform="translate(538.44 417.89) scale(0.5)">p(HR)=0.0085</text>
<text font-family="'Liberation Sans', sans-serif" font-size="9.2" fill="#444" text-anchor="end" transform="translate(538.44 423.09) scale(0.5)">n(high)=131</text>
<text font-family="'Liberation Sans', sans-serif" font-size="9.2" fill="#444" text-anchor="end" transform="translate(538.44 428.29) scale(0.5)">n(low)=131</text>
<text transform="translate(429.00 487.90) scale(0.2500)" font-family="'Liberation Serif', serif" font-size="40.40" font-weight="normal" fill="#f21414" text-anchor="start" >SARC</text>
<rect x="558.6" y="391.4" width="107.79999999999995" height="102.10000000000002" fill="#fff" stroke="#999" stroke-width="0.8"/>
<line x1="556.4" y1="395.5" x2="558.6" y2="395.5" stroke="#777" stroke-width="0.6"/>
<text transform="translate(554.10 398.50) scale(0.2500)" font-family="'Liberation Serif', serif" font-size="31.20" font-weight="bold" fill="#000" text-anchor="end" >1.0</text>
<line x1="556.4" y1="414.38" x2="558.6" y2="414.38" stroke="#777" stroke-width="0.6"/>
<text transform="translate(554.10 417.38) scale(0.2500)" font-family="'Liberation Serif', serif" font-size="31.20" font-weight="bold" fill="#000" text-anchor="end" >0.8</text>
<line x1="556.4" y1="433.26" x2="558.6" y2="433.26" stroke="#777" stroke-width="0.6"/>
<text transform="translate(554.10 436.26) scale(0.2500)" font-family="'Liberation Serif', serif" font-size="31.20" font-weight="bold" fill="#000" text-anchor="end" >0.6</text>
<line x1="556.4" y1="452.14" x2="558.6" y2="452.14" stroke="#777" stroke-width="0.6"/>
<text transform="translate(554.10 455.14) scale(0.2500)" font-family="'Liberation Serif', serif" font-size="31.20" font-weight="bold" fill="#000" text-anchor="end" >0.4</text>
<line x1="556.4" y1="471.02" x2="558.6" y2="471.02" stroke="#777" stroke-width="0.6"/>
<text transform="translate(554.10 474.02) scale(0.2500)" font-family="'Liberation Serif', serif" font-size="31.20" font-weight="bold" fill="#000" text-anchor="end" >0.2</text>
<line x1="556.4" y1="489.9" x2="558.6" y2="489.9" stroke="#777" stroke-width="0.6"/>
<text transform="translate(554.10 492.90) scale(0.2500)" font-family="'Liberation Serif', serif" font-size="31.20" font-weight="bold" fill="#000" text-anchor="end" >0.0</text>
<line x1="560.8" y1="493.5" x2="560.8" y2="495.7" stroke="#777" stroke-width="0.6"/>
<text transform="translate(560.80 503.90) scale(0.2500)" font-family="'Liberation Serif', serif" font-size="31.20" font-weight="bold" fill="#000" text-anchor="middle" >0</text>
<line x1="593.0" y1="493.5" x2="593.0" y2="495.7" stroke="#777" stroke-width="0.6"/>
<text transform="translate(593.00 503.90) scale(0.2500)" font-family="'Liberation Serif', serif" font-size="31.20" font-weight="bold" fill="#000" text-anchor="middle" >50</text>
<line x1="626.2" y1="493.5" x2="626.2" y2="495.7" stroke="#777" stroke-width="0.6"/>
<text transform="translate(626.20 503.90) scale(0.2500)" font-family="'Liberation Serif', serif" font-size="31.20" font-weight="bold" fill="#000" text-anchor="middle" >100</text>
<line x1="659.7" y1="493.5" x2="659.7" y2="495.7" stroke="#777" stroke-width="0.6"/>
<text transform="translate(659.70 503.90) scale(0.2500)" font-family="'Liberation Serif', serif" font-size="31.20" font-weight="bold" fill="#000" text-anchor="middle" >150</text>
<path d="M562.45,398.40 L566.94,398.40 L566.94,404.14 L578.60,404.14 L578.60,414.01 L594.74,414.01 L594.74,419.93 L614.47,419.93 L614.47,440.02 L624.34,440.02 L624.34,457.96 L663.80,457.96 L663.80,457.96" fill="none" stroke="#b5ebb5" stroke-width="0.6" stroke-dasharray="0.9,0.9"/>
<path d="M636.89,411.68 L636.89,431.05" fill="none" stroke="#f9c2f3" stroke-width="0.6" stroke-dasharray="0.9,0.9"/>
<path d="M558.87,395.53 L560.66,395.53 L560.66,396.61 L562.45,396.61 L562.45,397.87 L565.14,397.87 L565.14,399.12 L566.94,399.12 L566.94,400.20 L577.70,400.20 L577.70,401.45 L578.60,401.45 L578.60,402.71 L594.74,402.71 L594.74,405.04 L595.28,405.04 L595.28,406.83 L614.47,406.83 L614.47,406.83 L614.47,406.83 L614.47,419.39 L624.34,419.39 L624.34,433.20 L663.80,433.20 L663.80,433.20" fill="none" stroke="#3cbf3c" stroke-width="1.15" stroke-linejoin="miter"/>
<line x1="563.35" y1="396.67" x2="563.35" y2="399.07" stroke="#3cbf3c" stroke-width="0.8"/>
<line x1="566.94" y1="399.00" x2="566.94" y2="401.40" stroke="#3cbf3c" stroke-width="0.8"/>
<line x1="568.73" y1="399.00" x2="568.73" y2="401.40" stroke="#3cbf3c" stroke-width="0.8"/>
<line x1="574.11" y1="399.00" x2="574.11" y2="401.40" stroke="#3cbf3c" stroke-width="0.8"/>
<line x1="577.70" y1="400.25" x2="577.70" y2="402.65" stroke="#3cbf3c" stroke-width="0.8"/>
<line x1="584.87" y1="401.51" x2="584.87" y2="403.91" stroke="#3cbf3c" stroke-width="0.8"/>
<line x1="590.26" y1="401.51" x2="590.26" y2="403.91" stroke="#3cbf3c" stroke-width="0.8"/>
<line x1="593.84" y1="401.51" x2="593.84" y2="403.91" stroke="#3cbf3c" stroke-width="0.8"/>
<line x1="597.43" y1="405.63" x2="597.43" y2="408.03" stroke="#3cbf3c" stroke-width="0.8"/>
<line x1="602.81" y1="405.63" x2="602.81" y2="408.03" stroke="#3cbf3c" stroke-width="0.8"/>
<line x1="608.19" y1="405.63" x2="608.19" y2="408.03" stroke="#3cbf3c" stroke-width="0.8"/>
<line x1="615.37" y1="418.19" x2="615.37" y2="420.59" stroke="#3cbf3c" stroke-width="0.8"/>
<line x1="635.10" y1="432.00" x2="635.10" y2="434.40" stroke="#3cbf3c" stroke-width="0.8"/>
<line x1="641.38" y1="432.00" x2="641.38" y2="434.40" stroke="#3cbf3c" stroke-width="0.8"/>
<path d="M558.87,395.53 L636.35,395.53 L636.35,395.53 L636.35,395.53 L636.35,411.68 L663.80,411.68 L663.80,411.68" fill="none" stroke="#f03ce0" stroke-width="1.15" stroke-linejoin="miter"/>
<line x1="565.14" y1="394.33" x2="565.14" y2="396.73" stroke="#f03ce0" stroke-width="0.8"/>
<line x1="568.73" y1="394.33" x2="568.73" y2="396.73" stroke="#f03ce0" stroke-width="0.8"/>
<line x1="570.52" y1="394.33" x2="570.52" y2="396.73" stroke="#f03ce0" stroke-width="0.8"/>
<line x1="574.11" y1="394.33" x2="574.11" y2="396.73" stroke="#f03ce0" stroke-width="0.8"/>
<line x1="577.70" y1="394.33" x2="577.70" y2="396.73" stroke="#f03ce0" stroke-width="0.8"/>
<line x1="580.39" y1="394.33" x2="580.39" y2="396.73" stroke="#f03ce0" stroke-width="0.8"/>
<line x1="583.08" y1="394.33" x2="583.08" y2="396.73" stroke="#f03ce0" stroke-width="0.8"/>
<line x1="586.67" y1="394.33" x2="586.67" y2="396.73" stroke="#f03ce0" stroke-width="0.8"/>
<line x1="590.26" y1="394.33" x2="590.26" y2="396.73" stroke="#f03ce0" stroke-width="0.8"/>
<line x1="595.64" y1="394.33" x2="595.64" y2="396.73" stroke="#f03ce0" stroke-width="0.8"/>
<line x1="602.81" y1="394.33" x2="602.81" y2="396.73" stroke="#f03ce0" stroke-width="0.8"/>
<line x1="608.19" y1="394.33" x2="608.19" y2="396.73" stroke="#f03ce0" stroke-width="0.8"/>
<line x1="613.57" y1="394.33" x2="613.57" y2="396.73" stroke="#f03ce0" stroke-width="0.8"/>
<line x1="620.75" y1="394.33" x2="620.75" y2="396.73" stroke="#f03ce0" stroke-width="0.8"/>
<line x1="626.13" y1="394.33" x2="626.13" y2="396.73" stroke="#f03ce0" stroke-width="0.8"/>
<line x1="629.72" y1="394.33" x2="629.72" y2="396.73" stroke="#f03ce0" stroke-width="0.8"/>
<line x1="633.30" y1="394.33" x2="633.30" y2="396.73" stroke="#f03ce0" stroke-width="0.8"/>
<line x1="616.26" y1="396.61" x2="624.70" y2="396.61" stroke="#3cbf3c" stroke-width="0.9"/>
<line x1="616.26" y1="400.87" x2="624.70" y2="400.87" stroke="#f03ce0" stroke-width="0.9"/>
<text font-family="'Liberation Sans', sans-serif" font-size="9.2" fill="#444" text-anchor="end" transform="translate(663.80 398.21) scale(0.5)">Low ORC1 Group</text>
<text font-family="'Liberation Sans', sans-serif" font-size="9.2" fill="#444" text-anchor="end" transform="translate(663.80 402.47) scale(0.5)">High ORC1 Group</text>
<text font-family="'Liberation Sans', sans-serif" font-size="9.2" fill="#444" text-anchor="end" transform="translate(663.80 407.67) scale(0.5)">Logrank p=0.0061</text>
<text font-family="'Liberation Sans', sans-serif" font-size="9.2" fill="#444" text-anchor="end" transform="translate(663.80 412.87) scale(0.5)">HR(high)=9.8e−09</text>
<text font-family="'Liberation Sans', sans-serif" font-size="9.2" fill="#444" text-anchor="end" transform="translate(663.80 418.07) scale(0.5)">p(HR)=0.03</text>
<text font-family="'Liberation Sans', sans-serif" font-size="9.2" fill="#444" text-anchor="end" transform="translate(663.80 423.27) scale(0.5)">n(high)=58</text>
<text font-family="'Liberation Sans', sans-serif" font-size="9.2" fill="#444" text-anchor="end" transform="translate(663.80 428.47) scale(0.5)">n(low)=58</text>
<text transform="translate(559.70 490.30) scale(0.2500)" font-family="'Liberation Serif', serif" font-size="36.80" font-weight="normal" fill="#27aae1" text-anchor="start" >THYM</text>
<rect x="46.5" y="625.2" width="108.9" height="105.29999999999995" fill="#fff" stroke="#9a9a9a" stroke-width="0.8"/>
<line x1="44.3" y1="629.5" x2="46.5" y2="629.5" stroke="#777" stroke-width="0.6"/>
<text transform="translate(42.00 632.50) scale(0.2500)" font-family="'Liberation Serif', serif" font-size="31.20" font-weight="bold" fill="#000" text-anchor="end" >1.0</text>
<line x1="44.3" y1="648.8" x2="46.5" y2="648.8" stroke="#777" stroke-width="0.6"/>
<text transform="translate(42.00 651.80) scale(0.2500)" font-family="'Liberation Serif', serif" font-size="31.20" font-weight="bold" fill="#000" text-anchor="end" >0.8</text>
<line x1="44.3" y1="668.1" x2="46.5" y2="668.1" stroke="#777" stroke-width="0.6"/>
<text transform="translate(42.00 671.10) scale(0.2500)" font-family="'Liberation Serif', serif" font-size="31.20" font-weight="bold" fill="#000" text-anchor="end" >0.6</text>
<line x1="44.3" y1="687.4" x2="46.5" y2="687.4" stroke="#777" stroke-width="0.6"/>
<text transform="translate(42.00 690.40) scale(0.2500)" font-family="'Liberation Serif', serif" font-size="31.20" font-weight="bold" fill="#000" text-anchor="end" >0.4</text>
<line x1="44.3" y1="706.7" x2="46.5" y2="706.7" stroke="#777" stroke-width="0.6"/>
<text transform="translate(42.00 709.70) scale(0.2500)" font-family="'Liberation Serif', serif" font-size="31.20" font-weight="bold" fill="#000" text-anchor="end" >0.2</text>
<line x1="44.3" y1="726.0" x2="46.5" y2="726.0" stroke="#777" stroke-width="0.6"/>
<text transform="translate(42.00 729.00) scale(0.2500)" font-family="'Liberation Serif', serif" font-size="31.20" font-weight="bold" fill="#000" text-anchor="end" >0.0</text>
<line x1="46.5" y1="730.5" x2="46.5" y2="732.7" stroke="#777" stroke-width="0.6"/>
<text transform="translate(46.50 740.90) scale(0.2500)" font-family="'Liberation Serif', serif" font-size="31.20" font-weight="bold" fill="#000" text-anchor="middle" >0</text>
<line x1="80.0" y1="730.5" x2="80.0" y2="732.7" stroke="#777" stroke-width="0.6"/>
<text transform="translate(80.00 740.90) scale(0.2500)" font-family="'Liberation Serif', serif" font-size="31.20" font-weight="bold" fill="#000" text-anchor="middle" >50</text>
<line x1="113.7" y1="730.5" x2="113.7" y2="732.7" stroke="#777" stroke-width="0.6"/>
<text transform="translate(113.70 740.90) scale(0.2500)" font-family="'Liberation Serif', serif" font-size="31.20" font-weight="bold" fill="#000" text-anchor="middle" >100</text>
<line x1="147.2" y1="730.5" x2="147.2" y2="732.7" stroke="#777" stroke-width="0.6"/>
<text transform="translate(147.20 740.90) scale(0.2500)" font-family="'Liberation Serif', serif" font-size="31.20" font-weight="bold" fill="#000" text-anchor="middle" >150</text>
<path d="M49.17,632.76 L59.94,647.11 L68.91,651.06 L151.42,651.06" fill="none" stroke="#b5ebb5" stroke-width="0.6" stroke-dasharray="0.9,0.9"/>
<path d="M49.17,654.29 L59.94,670.43 L68.91,681.19 L151.42,682.99" fill="none" stroke="#b5ebb5" stroke-width="0.6" stroke-dasharray="0.9,0.9"/>
<path d="M49.17,634.56 L59.94,652.49 L71.60,657.87 L77.87,661.10 L93.66,665.05 L128.10,665.05" fill="none" stroke="#f9c2f3" stroke-width="0.6" stroke-dasharray="0.9,0.9"/>
<path d="M52.76,657.87 L63.52,679.40 L71.60,691.06 L77.87,699.13 L93.66,706.30 L128.10,706.30" fill="none" stroke="#f9c2f3" stroke-width="0.6" stroke-dasharray="0.9,0.9"/>
<path d="M46.48,629.53 L47.11,629.53 L47.11,631.15 L47.74,631.15 L47.74,632.76 L48.28,632.76 L48.28,634.56 L48.82,634.56 L48.82,636.35 L49.17,636.35 L49.17,638.14 L49.53,638.14 L49.53,639.94 L50.07,639.94 L50.07,641.73 L50.61,641.73 L50.61,643.52 L50.85,643.52 L50.85,645.32 L51.09,645.32 L51.09,647.11 L51.33,647.11 L51.33,648.91 L51.60,648.91 L51.60,651.15 L51.87,651.15 L51.87,653.39 L52.13,653.39 L52.13,655.18 L52.40,655.18 L52.40,656.98 L55.45,656.98 L55.45,658.77 L58.14,658.77 L58.14,660.57 L59.94,660.57 L59.94,661.46 L61.73,661.46 L61.73,662.90 L64.42,662.90 L64.42,664.15 L66.22,664.15 L66.22,665.05 L68.01,665.05 L68.01,666.84 L68.55,666.84 L68.55,669.53 L151.42,669.53" fill="none" stroke="#3cbf3c" stroke-width="1.15" stroke-linejoin="miter"/>
<line x1="59.04" y1="659.37" x2="59.04" y2="661.77" stroke="#3cbf3c" stroke-width="0.8"/>
<line x1="61.73" y1="661.70" x2="61.73" y2="664.10" stroke="#3cbf3c" stroke-width="0.8"/>
<line x1="63.52" y1="661.70" x2="63.52" y2="664.10" stroke="#3cbf3c" stroke-width="0.8"/>
<line x1="67.11" y1="663.85" x2="67.11" y2="666.25" stroke="#3cbf3c" stroke-width="0.8"/>
<line x1="74.29" y1="668.33" x2="74.29" y2="670.73" stroke="#3cbf3c" stroke-width="0.8"/>
<line x1="79.67" y1="668.33" x2="79.67" y2="670.73" stroke="#3cbf3c" stroke-width="0.8"/>
<line x1="87.74" y1="668.33" x2="87.74" y2="670.73" stroke="#3cbf3c" stroke-width="0.8"/>
<line x1="92.22" y1="668.33" x2="92.22" y2="670.73" stroke="#3cbf3c" stroke-width="0.8"/>
<line x1="94.02" y1="668.33" x2="94.02" y2="670.73" stroke="#3cbf3c" stroke-width="0.8"/>
<line x1="99.40" y1="668.33" x2="99.40" y2="670.73" stroke="#3cbf3c" stroke-width="0.8"/>
<line x1="108.37" y1="668.33" x2="108.37" y2="670.73" stroke="#3cbf3c" stroke-width="0.8"/>
<line x1="124.51" y1="668.33" x2="124.51" y2="670.73" stroke="#3cbf3c" stroke-width="0.8"/>
<line x1="129.00" y1="668.33" x2="129.00" y2="670.73" stroke="#3cbf3c" stroke-width="0.8"/>
<line x1="150.52" y1="668.33" x2="150.52" y2="670.73" stroke="#3cbf3c" stroke-width="0.8"/>
<path d="M46.48,629.53 L46.90,629.53 L46.90,631.21 L47.32,631.21 L47.32,632.88 L47.74,632.88 L47.74,634.56 L48.10,634.56 L48.10,636.35 L48.46,636.35 L48.46,638.14 L48.82,638.14 L48.82,639.94 L49.44,639.94 L49.44,641.73 L50.07,641.73 L50.07,643.52 L50.97,643.52 L50.97,645.77 L51.87,645.77 L51.87,648.01 L52.76,648.01 L52.76,649.80 L53.66,649.80 L53.66,651.60 L54.56,651.60 L54.56,653.84 L55.45,653.84 L55.45,656.08 L56.35,656.08 L56.35,658.32 L57.25,658.32 L57.25,660.57 L58.14,660.57 L58.14,662.36 L59.04,662.36 L59.04,664.15 L60.39,664.15 L60.39,666.39 L61.73,666.39 L61.73,668.64 L63.52,668.64 L63.52,671.33 L64.42,671.33 L64.42,674.02 L71.60,674.02 L71.60,676.71 L72.49,676.71 L72.49,678.50 L77.87,678.50 L77.87,684.42 L93.66,684.42 L93.66,691.60 L128.10,691.60 L128.10,691.60" fill="none" stroke="#f03ce0" stroke-width="1.15" stroke-linejoin="miter"/>
<line x1="67.11" y1="672.82" x2="67.11" y2="675.22" stroke="#f03ce0" stroke-width="0.8"/>
<line x1="70.70" y1="672.82" x2="70.70" y2="675.22" stroke="#f03ce0" stroke-width="0.8"/>
<line x1="85.95" y1="683.22" x2="85.95" y2="685.62" stroke="#f03ce0" stroke-width="0.8"/>
<line x1="98.50" y1="690.40" x2="98.50" y2="692.80" stroke="#f03ce0" stroke-width="0.8"/>
<line x1="107.47" y1="690.40" x2="107.47" y2="692.80" stroke="#f03ce0" stroke-width="0.8"/>
<line x1="114.65" y1="690.40" x2="114.65" y2="692.80" stroke="#f03ce0" stroke-width="0.8"/>
<line x1="120.92" y1="690.40" x2="120.92" y2="692.80" stroke="#f03ce0" stroke-width="0.8"/>
<line x1="103.88" y1="630.61" x2="112.31" y2="630.61" stroke="#3cbf3c" stroke-width="0.9"/>
<line x1="103.88" y1="634.96" x2="112.31" y2="634.96" stroke="#f03ce0" stroke-width="0.9"/>
<text font-family="'Liberation Sans', sans-serif" font-size="9.2" fill="#444" text-anchor="end" transform="translate(153.21 632.21) scale(0.5)">Low ERBB2 Group</text>
<text font-family="'Liberation Sans', sans-serif" font-size="9.2" fill="#444" text-anchor="end" transform="translate(153.21 636.56) scale(0.5)">High ERBB2 Group</text>
<text font-family="'Liberation Sans', sans-serif" font-size="9.2" fill="#444" text-anchor="end" transform="translate(153.21 641.86) scale(0.5)">Logrank p=0.3</text>
<text font-family="'Liberation Sans', sans-serif" font-size="9.2" fill="#444" text-anchor="end" transform="translate(153.21 647.16) scale(0.5)">HR(high)=1.4</text>
<text font-family="'Liberation Sans', sans-serif" font-size="9.2" fill="#444" text-anchor="end" transform="translate(153.21 652.46) scale(0.5)">p(HR)=0.32</text>
<text font-family="'Liberation Sans', sans-serif" font-size="9.2" fill="#444" text-anchor="end" transform="translate(153.21 657.76) scale(0.5)">n(high)=38</text>
<text font-family="'Liberation Sans', sans-serif" font-size="9.2" fill="#444" text-anchor="end" transform="translate(153.21 663.06) scale(0.5)">n(low)=38</text>
<text transform="translate(48.60 727.20) scale(0.2500)" font-family="'Liberation Serif', serif" font-size="32.80" font-weight="normal" fill="#f21414" text-anchor="start" >ACC</text>
<rect x="177.5" y="628.3" width="108.10000000000002" height="103.5" fill="#fff" stroke="#9a9a9a" stroke-width="0.8"/>
<line x1="175.3" y1="632.2" x2="177.5" y2="632.2" stroke="#777" stroke-width="0.6"/>
<text transform="translate(173.00 635.20) scale(0.2500)" font-family="'Liberation Serif', serif" font-size="31.20" font-weight="bold" fill="#000" text-anchor="end" >1.0</text>
<line x1="175.3" y1="651.32" x2="177.5" y2="651.32" stroke="#777" stroke-width="0.6"/>
<text transform="translate(173.00 654.32) scale(0.2500)" font-family="'Liberation Serif', serif" font-size="31.20" font-weight="bold" fill="#000" text-anchor="end" >0.8</text>
<line x1="175.3" y1="670.44" x2="177.5" y2="670.44" stroke="#777" stroke-width="0.6"/>
<text transform="translate(173.00 673.44) scale(0.2500)" font-family="'Liberation Serif', serif" font-size="31.20" font-weight="bold" fill="#000" text-anchor="end" >0.6</text>
<line x1="175.3" y1="689.56" x2="177.5" y2="689.56" stroke="#777" stroke-width="0.6"/>
<text transform="translate(173.00 692.56) scale(0.2500)" font-family="'Liberation Serif', serif" font-size="31.20" font-weight="bold" fill="#000" text-anchor="end" >0.4</text>
<line x1="175.3" y1="708.68" x2="177.5" y2="708.68" stroke="#777" stroke-width="0.6"/>
<text transform="translate(173.00 711.68) scale(0.2500)" font-family="'Liberation Serif', serif" font-size="31.20" font-weight="bold" fill="#000" text-anchor="end" >0.2</text>
<line x1="175.3" y1="727.8" x2="177.5" y2="727.8" stroke="#777" stroke-width="0.6"/>
<text transform="translate(173.00 730.80) scale(0.2500)" font-family="'Liberation Serif', serif" font-size="31.20" font-weight="bold" fill="#000" text-anchor="end" >0.0</text>
<line x1="177.5" y1="731.8" x2="177.5" y2="734.0" stroke="#777" stroke-width="0.6"/>
<text transform="translate(177.50 742.30) scale(0.2500)" font-family="'Liberation Serif', serif" font-size="31.20" font-weight="bold" fill="#000" text-anchor="middle" >0</text>
<line x1="194.5" y1="731.8" x2="194.5" y2="734.0" stroke="#777" stroke-width="0.6"/>
<text transform="translate(194.50 742.30) scale(0.2500)" font-family="'Liberation Serif', serif" font-size="31.20" font-weight="bold" fill="#000" text-anchor="middle" >20</text>
<line x1="211.5" y1="731.8" x2="211.5" y2="734.0" stroke="#777" stroke-width="0.6"/>
<text transform="translate(211.50 742.30) scale(0.2500)" font-family="'Liberation Serif', serif" font-size="31.20" font-weight="bold" fill="#000" text-anchor="middle" >40</text>
<line x1="228.3" y1="731.8" x2="228.3" y2="734.0" stroke="#777" stroke-width="0.6"/>
<text transform="translate(228.30 742.30) scale(0.2500)" font-family="'Liberation Serif', serif" font-size="31.20" font-weight="bold" fill="#000" text-anchor="middle" >60</text>
<line x1="245.3" y1="731.8" x2="245.3" y2="734.0" stroke="#777" stroke-width="0.6"/>
<text transform="translate(245.30 742.30) scale(0.2500)" font-family="'Liberation Serif', serif" font-size="31.20" font-weight="bold" fill="#000" text-anchor="middle" >80</text>
<line x1="262.3" y1="731.8" x2="262.3" y2="734.0" stroke="#777" stroke-width="0.6"/>
<text transform="translate(262.30 742.30) scale(0.2500)" font-family="'Liberation Serif', serif" font-size="31.20" font-weight="bold" fill="#000" text-anchor="middle" >100</text>
<line x1="279.2" y1="731.8" x2="279.2" y2="734.0" stroke="#777" stroke-width="0.6"/>
<text transform="translate(279.20 742.30) scale(0.2500)" font-family="'Liberation Serif', serif" font-size="31.20" font-weight="bold" fill="#000" text-anchor="middle" >120</text>
<path d="M183.76,648.91 L190.94,660.57 L208.87,672.22 L226.81,679.40 L235.78,684.78 L280.62,684.78" fill="none" stroke="#b5ebb5" stroke-width="0.6" stroke-dasharray="0.9,0.9"/>
<path d="M183.76,656.08 L190.94,670.43 L208.87,690.16 L226.81,700.92 L236.68,707.20 L280.62,707.20" fill="none" stroke="#b5ebb5" stroke-width="0.6" stroke-dasharray="0.9,0.9"/>
<path d="M183.76,650.70 L194.52,674.02 L208.87,686.57 L226.81,697.34 L237.93,697.34 L237.93,679.04 L280.62,679.04" fill="none" stroke="#f9c2f3" stroke-width="0.6" stroke-dasharray="0.9,0.9"/>
<path d="M183.76,657.87 L194.52,684.78 L208.87,699.13 L226.81,714.38 L237.93,725.14 L245.65,725.14" fill="none" stroke="#f9c2f3" stroke-width="0.6" stroke-dasharray="0.9,0.9"/>
<path d="M177.48,632.22 L178.38,632.22 L178.38,633.84 L179.28,633.84 L179.28,635.45 L179.91,635.45 L179.91,637.70 L180.53,637.70 L180.53,639.94 L181.01,639.94 L181.01,641.73 L181.49,641.73 L181.49,643.52 L181.97,643.52 L181.97,645.32 L182.45,645.32 L182.45,647.11 L182.93,647.11 L182.93,648.91 L183.40,648.91 L183.40,650.70 L183.82,650.70 L183.82,652.49 L184.24,652.49 L184.24,654.29 L184.66,654.29 L184.66,656.08 L185.29,656.08 L185.29,658.32 L185.91,658.32 L185.91,660.57 L186.63,660.57 L186.63,662.36 L187.35,662.36 L187.35,664.15 L189.14,664.15 L189.14,666.48 L190.94,666.48 L190.94,669.00 L193.63,669.00 L193.63,670.79 L196.32,670.79 L196.32,673.12 L199.01,673.12 L199.01,675.81 L201.70,675.81 L201.70,678.50 L204.39,678.50 L204.39,680.30 L207.08,680.30 L207.08,682.09 L210.67,682.09 L210.67,683.88 L214.26,683.88 L214.26,685.68 L217.84,685.68 L217.84,688.37 L221.43,688.37 L221.43,691.06 L224.12,691.06 L224.12,692.85 L225.91,692.85 L225.91,695.18 L234.88,695.18 L235.51,695.18 L235.51,696.71 L236.14,696.71 L236.14,698.23 L282.42,698.23" fill="none" stroke="#3cbf3c" stroke-width="1.15" stroke-linejoin="miter"/>
<line x1="201.70" y1="677.30" x2="201.70" y2="679.70" stroke="#3cbf3c" stroke-width="0.8"/>
<line x1="208.87" y1="680.89" x2="208.87" y2="683.29" stroke="#3cbf3c" stroke-width="0.8"/>
<line x1="217.84" y1="687.17" x2="217.84" y2="689.57" stroke="#3cbf3c" stroke-width="0.8"/>
<line x1="226.81" y1="693.98" x2="226.81" y2="696.38" stroke="#3cbf3c" stroke-width="0.8"/>
<line x1="230.40" y1="693.98" x2="230.40" y2="696.38" stroke="#3cbf3c" stroke-width="0.8"/>
<line x1="233.99" y1="693.98" x2="233.99" y2="696.38" stroke="#3cbf3c" stroke-width="0.8"/>
<line x1="242.96" y1="697.03" x2="242.96" y2="699.43" stroke="#3cbf3c" stroke-width="0.8"/>
<line x1="246.54" y1="697.03" x2="246.54" y2="699.43" stroke="#3cbf3c" stroke-width="0.8"/>
<line x1="248.34" y1="697.03" x2="248.34" y2="699.43" stroke="#3cbf3c" stroke-width="0.8"/>
<line x1="269.86" y1="697.03" x2="269.86" y2="699.43" stroke="#3cbf3c" stroke-width="0.8"/>
<line x1="275.24" y1="697.03" x2="275.24" y2="699.43" stroke="#3cbf3c" stroke-width="0.8"/>
<path d="M177.48,632.22 L178.38,632.22 L178.38,634.29 L179.28,634.29 L179.28,636.35 L179.70,636.35 L179.70,638.14 L180.12,638.14 L180.12,639.94 L180.53,639.94 L180.53,641.73 L181.01,641.73 L181.01,643.52 L181.49,643.52 L181.49,645.32 L181.97,645.32 L181.97,647.11 L182.45,647.11 L182.45,649.20 L182.93,649.20 L182.93,651.30 L183.40,651.30 L183.40,653.39 L183.82,653.39 L183.82,655.18 L184.24,655.18 L184.24,656.98 L184.66,656.98 L184.66,658.77 L185.26,658.77 L185.26,660.86 L185.86,660.86 L185.86,662.96 L186.45,662.96 L186.45,665.05 L187.05,665.05 L187.05,666.84 L187.65,666.84 L187.65,668.64 L188.25,668.64 L188.25,670.43 L189.14,670.43 L189.14,672.22 L190.04,672.22 L190.04,674.02 L190.94,674.02 L190.94,675.81 L192.73,675.81 L192.73,677.61 L194.52,677.61 L194.52,679.40 L196.32,679.40 L196.32,681.64 L198.11,681.64 L198.11,683.88 L201.70,683.88 L201.70,686.57 L205.29,686.57 L205.29,689.26 L206.63,689.26 L206.63,690.79 L207.98,690.79 L207.98,692.31 L209.32,692.31 L209.32,693.75 L210.67,693.75 L210.67,695.18 L212.46,695.18 L212.46,695.90 L218.74,695.90 L220.53,695.90 L220.53,698.23 L223.22,698.23 L223.22,699.13 L225.02,699.13 L225.02,700.92 L225.91,700.92 L225.91,702.90 L226.81,702.90 L226.81,704.87 L237.93,704.87 L237.93,716.17 L245.65,716.17" fill="none" stroke="#f03ce0" stroke-width="1.15" stroke-linejoin="miter"/>
<line x1="201.70" y1="685.37" x2="201.70" y2="687.77" stroke="#f03ce0" stroke-width="0.8"/>
<line x1="208.87" y1="691.11" x2="208.87" y2="693.51" stroke="#f03ce0" stroke-width="0.8"/>
<line x1="214.26" y1="694.70" x2="214.26" y2="697.10" stroke="#f03ce0" stroke-width="0.8"/>
<line x1="225.02" y1="699.72" x2="225.02" y2="702.12" stroke="#f03ce0" stroke-width="0.8"/>
<line x1="228.61" y1="703.67" x2="228.61" y2="706.07" stroke="#f03ce0" stroke-width="0.8"/>
<line x1="232.19" y1="703.67" x2="232.19" y2="706.07" stroke="#f03ce0" stroke-width="0.8"/>
<line x1="245.65" y1="714.97" x2="245.65" y2="717.37" stroke="#f03ce0" stroke-width="0.8"/>
<line x1="234.35" y1="633.12" x2="242.96" y2="633.12" stroke="#3cbf3c" stroke-width="0.9"/>
<line x1="234.35" y1="637.47" x2="242.96" y2="637.47" stroke="#f03ce0" stroke-width="0.9"/>
<text font-family="'Liberation Sans', sans-serif" font-size="9.2" fill="#444" text-anchor="end" transform="translate(282.42 634.72) scale(0.5)">Low ERBB2 Group</text>
<text font-family="'Liberation Sans', sans-serif" font-size="9.2" fill="#444" text-anchor="end" transform="translate(282.42 639.07) scale(0.5)">High ERBB2 Group</text>
<text font-family="'Liberation Sans', sans-serif" font-size="9.2" fill="#444" text-anchor="end" transform="translate(282.42 644.37) scale(0.5)">Logrank p=0.058</text>
<text font-family="'Liberation Sans', sans-serif" font-size="9.2" fill="#444" text-anchor="end" transform="translate(282.42 649.67) scale(0.5)">HR(high)=1.3</text>
<text font-family="'Liberation Sans', sans-serif" font-size="9.2" fill="#444" text-anchor="end" transform="translate(282.42 654.97) scale(0.5)">p(HR)=0.1</text>
<text font-family="'Liberation Sans', sans-serif" font-size="9.2" fill="#444" text-anchor="end" transform="translate(282.42 660.27) scale(0.5)">n(high)=181</text>
<text font-family="'Liberation Sans', sans-serif" font-size="9.2" fill="#444" text-anchor="end" transform="translate(282.42 665.57) scale(0.5)">n(low)=181</text>
<text transform="translate(179.30 728.70) scale(0.2500)" font-family="'Liberation Serif', serif" font-size="32.00" font-weight="normal" fill="#f21414" text-anchor="start" >LIHC</text>
<rect x="307.0" y="628.3" width="107.60000000000002" height="103.5" fill="#fff" stroke="#9a9a9a" stroke-width="0.8"/>
<line x1="304.8" y1="631.9" x2="307.0" y2="631.9" stroke="#777" stroke-width="0.6"/>
<text transform="translate(302.50 634.90) scale(0.2500)" font-family="'Liberation Serif', serif" font-size="31.20" font-weight="bold" fill="#000" text-anchor="end" >1.0</text>
<line x1="304.8" y1="650.9" x2="307.0" y2="650.9" stroke="#777" stroke-width="0.6"/>
<text transform="translate(302.50 653.90) scale(0.2500)" font-family="'Liberation Serif', serif" font-size="31.20" font-weight="bold" fill="#000" text-anchor="end" >0.8</text>
<line x1="304.8" y1="669.9" x2="307.0" y2="669.9" stroke="#777" stroke-width="0.6"/>
<text transform="translate(302.50 672.90) scale(0.2500)" font-family="'Liberation Serif', serif" font-size="31.20" font-weight="bold" fill="#000" text-anchor="end" >0.6</text>
<line x1="304.8" y1="688.9" x2="307.0" y2="688.9" stroke="#777" stroke-width="0.6"/>
<text transform="translate(302.50 691.90) scale(0.2500)" font-family="'Liberation Serif', serif" font-size="31.20" font-weight="bold" fill="#000" text-anchor="end" >0.4</text>
<line x1="304.8" y1="707.9" x2="307.0" y2="707.9" stroke="#777" stroke-width="0.6"/>
<text transform="translate(302.50 710.90) scale(0.2500)" font-family="'Liberation Serif', serif" font-size="31.20" font-weight="bold" fill="#000" text-anchor="end" >0.2</text>
<line x1="304.8" y1="726.9" x2="307.0" y2="726.9" stroke="#777" stroke-width="0.6"/>
<text transform="translate(302.50 729.90) scale(0.2500)" font-family="'Liberation Serif', serif" font-size="31.20" font-weight="bold" fill="#000" text-anchor="end" >0.0</text>
<line x1="307.0" y1="731.8" x2="307.0" y2="734.0" stroke="#777" stroke-width="0.6"/>
<text transform="translate(307.00 741.30) scale(0.2500)" font-family="'Liberation Serif', serif" font-size="31.20" font-weight="bold" fill="#000" text-anchor="middle" >0</text>
<line x1="329.4" y1="731.8" x2="329.4" y2="734.0" stroke="#777" stroke-width="0.6"/>
<text transform="translate(329.40 741.30) scale(0.2500)" font-family="'Liberation Serif', serif" font-size="31.20" font-weight="bold" fill="#000" text-anchor="middle" >20</text>
<line x1="351.8" y1="731.8" x2="351.8" y2="734.0" stroke="#777" stroke-width="0.6"/>
<text transform="translate(351.80 741.30) scale(0.2500)" font-family="'Liberation Serif', serif" font-size="31.20" font-weight="bold" fill="#000" text-anchor="middle" >40</text>
<line x1="374.3" y1="731.8" x2="374.3" y2="734.0" stroke="#777" stroke-width="0.6"/>
<text transform="translate(374.30 741.30) scale(0.2500)" font-family="'Liberation Serif', serif" font-size="31.20" font-weight="bold" fill="#000" text-anchor="middle" >60</text>
<line x1="396.7" y1="731.8" x2="396.7" y2="734.0" stroke="#777" stroke-width="0.6"/>
<text transform="translate(396.70 741.30) scale(0.2500)" font-family="'Liberation Serif', serif" font-size="31.20" font-weight="bold" fill="#000" text-anchor="middle" >80</text>
<path d="M310.97,632.76 L319.94,648.91 L328.91,668.28 L410.52,668.28" fill="none" stroke="#b5ebb5" stroke-width="0.6" stroke-dasharray="0.9,0.9"/>
<path d="M319.94,675.81 L328.91,693.39 L409.62,693.39" fill="none" stroke="#b5ebb5" stroke-width="0.6" stroke-dasharray="0.9,0.9"/>
<path d="M312.76,634.56 L328.91,663.26 L337.87,681.19 L355.81,691.96 L367.47,698.23 L383.61,698.23" fill="none" stroke="#f9c2f3" stroke-width="0.6" stroke-dasharray="0.9,0.9"/>
<path d="M316.35,654.29 L328.91,688.37 L337.87,702.72 L355.81,717.07 L367.47,726.93 L383.61,726.93" fill="none" stroke="#f9c2f3" stroke-width="0.6" stroke-dasharray="0.9,0.9"/>
<path d="M307.02,631.87 L310.07,631.87 L310.07,633.12 L310.67,633.12 L310.67,634.80 L311.27,634.80 L311.27,636.47 L311.87,636.47 L311.87,638.14 L312.46,638.14 L312.46,640.24 L313.06,640.24 L313.06,642.33 L313.66,642.33 L313.66,644.42 L314.56,644.42 L314.56,646.22 L315.45,646.22 L315.45,648.01 L316.35,648.01 L316.35,649.80 L317.25,649.80 L317.25,651.60 L319.04,651.60 L319.04,654.29 L319.94,654.29 L319.94,656.08 L320.83,656.08 L320.83,657.87 L322.63,657.87 L322.63,660.57 L323.52,660.57 L323.52,662.36 L324.42,662.36 L324.42,664.15 L325.77,664.15 L325.77,666.22 L327.11,666.22 L327.11,668.28 L327.29,668.28 L327.29,670.14 L327.47,670.14 L327.47,672.01 L327.65,672.01 L327.65,673.87 L327.83,673.87 L327.83,675.74 L328.01,675.74 L328.01,677.61 L329.80,677.61 L329.80,680.30 L332.49,680.30 L332.49,682.09 L410.52,682.09" fill="none" stroke="#3cbf3c" stroke-width="1.15" stroke-linejoin="miter"/>
<line x1="333.39" y1="680.89" x2="333.39" y2="683.29" stroke="#3cbf3c" stroke-width="0.8"/>
<line x1="343.26" y1="680.89" x2="343.26" y2="683.29" stroke="#3cbf3c" stroke-width="0.8"/>
<line x1="345.05" y1="680.89" x2="345.05" y2="683.29" stroke="#3cbf3c" stroke-width="0.8"/>
<line x1="346.84" y1="680.89" x2="346.84" y2="683.29" stroke="#3cbf3c" stroke-width="0.8"/>
<line x1="348.64" y1="680.89" x2="348.64" y2="683.29" stroke="#3cbf3c" stroke-width="0.8"/>
<line x1="353.12" y1="680.89" x2="353.12" y2="683.29" stroke="#3cbf3c" stroke-width="0.8"/>
<line x1="359.40" y1="680.89" x2="359.40" y2="683.29" stroke="#3cbf3c" stroke-width="0.8"/>
<line x1="364.78" y1="680.89" x2="364.78" y2="683.29" stroke="#3cbf3c" stroke-width="0.8"/>
<line x1="374.65" y1="680.89" x2="374.65" y2="683.29" stroke="#3cbf3c" stroke-width="0.8"/>
<line x1="380.03" y1="680.89" x2="380.03" y2="683.29" stroke="#3cbf3c" stroke-width="0.8"/>
<line x1="385.41" y1="680.89" x2="385.41" y2="683.29" stroke="#3cbf3c" stroke-width="0.8"/>
<line x1="410.52" y1="680.89" x2="410.52" y2="683.29" stroke="#3cbf3c" stroke-width="0.8"/>
<path d="M307.02,631.87 L310.07,631.87 L310.07,633.66 L310.97,633.66 L310.97,635.90 L311.87,635.90 L311.87,638.14 L312.31,638.14 L312.31,639.94 L312.76,639.94 L312.76,641.73 L313.21,641.73 L313.21,643.52 L313.66,643.52 L313.66,645.32 L314.56,645.32 L314.56,647.11 L315.45,647.11 L315.45,648.91 L316.35,648.91 L316.35,650.70 L317.25,650.70 L317.25,652.49 L318.14,652.49 L318.14,654.29 L319.04,654.29 L319.04,656.08 L319.94,656.08 L319.94,657.87 L320.83,657.87 L320.83,659.67 L321.15,659.67 L321.15,661.46 L321.46,661.46 L321.46,663.26 L321.78,663.26 L321.78,665.05 L322.09,665.05 L322.09,666.84 L322.36,666.84 L322.36,668.64 L322.63,668.64 L322.63,670.43 L322.90,670.43 L322.90,672.22 L323.17,672.22 L323.17,674.02 L324.24,674.02 L324.24,675.81 L325.32,675.81 L325.32,677.61 L328.01,677.61 L328.01,680.30 L330.70,680.30 L330.70,682.99 L333.39,682.99 L333.39,684.42 L334.29,684.42 L334.29,686.39 L335.18,686.39 L335.18,688.37 L335.60,688.37 L335.60,690.04 L336.02,690.04 L336.02,691.72 L336.44,691.72 L336.44,693.39 L338.77,693.39 L338.77,697.34 L344.15,697.34 L344.15,704.87 L354.91,704.87 L354.91,713.84 L363.88,713.84 L363.88,718.50 L367.47,718.50 L367.47,723.35 L383.61,723.35 L383.61,723.35" fill="none" stroke="#f03ce0" stroke-width="1.15" stroke-linejoin="miter"/>
<line x1="383.61" y1="722.15" x2="383.61" y2="724.55" stroke="#f03ce0" stroke-width="0.8"/>
<line x1="363.35" y1="633.12" x2="371.96" y2="633.12" stroke="#3cbf3c" stroke-width="0.9"/>
<line x1="363.35" y1="637.47" x2="371.96" y2="637.47" stroke="#f03ce0" stroke-width="0.9"/>
<text font-family="'Liberation Sans', sans-serif" font-size="9.2" fill="#444" text-anchor="end" transform="translate(411.42 634.72) scale(0.5)">Low ERBB2 Group</text>
<text font-family="'Liberation Sans', sans-serif" font-size="9.2" fill="#444" text-anchor="end" transform="translate(411.42 639.07) scale(0.5)">High ERBB2 Group</text>
<text font-family="'Liberation Sans', sans-serif" font-size="9.2" fill="#444" text-anchor="end" transform="translate(411.42 644.37) scale(0.5)">Logrank p=0.045</text>
<text font-family="'Liberation Sans', sans-serif" font-size="9.2" fill="#444" text-anchor="end" transform="translate(411.42 649.67) scale(0.5)">HR(high)=1.9</text>
<text font-family="'Liberation Sans', sans-serif" font-size="9.2" fill="#444" text-anchor="end" transform="translate(411.42 654.97) scale(0.5)">p(HR)=0.048</text>
<text font-family="'Liberation Sans', sans-serif" font-size="9.2" fill="#444" text-anchor="end" transform="translate(411.42 660.27) scale(0.5)">n(high)=89</text>
<text font-family="'Liberation Sans', sans-serif" font-size="9.2" fill="#444" text-anchor="end" transform="translate(411.42 665.57) scale(0.5)">n(low)=89</text>
<text transform="translate(309.20 727.80) scale(0.2500)" font-family="'Liberation Serif', serif" font-size="31.20" font-weight="bold" fill="#f21414" text-anchor="start" >PAAD</text>
<rect x="436.0" y="628.3" width="107.39999999999998" height="103.10000000000002" fill="#fff" stroke="#9a9a9a" stroke-width="0.8"/>
<line x1="433.8" y1="632.2" x2="436.0" y2="632.2" stroke="#777" stroke-width="0.6"/>
<text transform="translate(431.50 635.20) scale(0.2500)" font-family="'Liberation Serif', serif" font-size="31.20" font-weight="bold" fill="#000" text-anchor="end" >1.0</text>
<line x1="433.8" y1="651.26" x2="436.0" y2="651.26" stroke="#777" stroke-width="0.6"/>
<text transform="translate(431.50 654.26) scale(0.2500)" font-family="'Liberation Serif', serif" font-size="31.20" font-weight="bold" fill="#000" text-anchor="end" >0.8</text>
<line x1="433.8" y1="670.32" x2="436.0" y2="670.32" stroke="#777" stroke-width="0.6"/>
<text transform="translate(431.50 673.32) scale(0.2500)" font-family="'Liberation Serif', serif" font-size="31.20" font-weight="bold" fill="#000" text-anchor="end" >0.6</text>
<line x1="433.8" y1="689.38" x2="436.0" y2="689.38" stroke="#777" stroke-width="0.6"/>
<text transform="translate(431.50 692.38) scale(0.2500)" font-family="'Liberation Serif', serif" font-size="31.20" font-weight="bold" fill="#000" text-anchor="end" >0.4</text>
<line x1="433.8" y1="708.44" x2="436.0" y2="708.44" stroke="#777" stroke-width="0.6"/>
<text transform="translate(431.50 711.44) scale(0.2500)" font-family="'Liberation Serif', serif" font-size="31.20" font-weight="bold" fill="#000" text-anchor="end" >0.2</text>
<line x1="433.8" y1="727.5" x2="436.0" y2="727.5" stroke="#777" stroke-width="0.6"/>
<text transform="translate(431.50 730.50) scale(0.2500)" font-family="'Liberation Serif', serif" font-size="31.20" font-weight="bold" fill="#000" text-anchor="end" >0.0</text>
<line x1="436.0" y1="731.4" x2="436.0" y2="733.6" stroke="#777" stroke-width="0.6"/>
<text transform="translate(436.00 740.90) scale(0.2500)" font-family="'Liberation Serif', serif" font-size="31.20" font-weight="bold" fill="#000" text-anchor="middle" >0</text>
<line x1="452.5" y1="731.4" x2="452.5" y2="733.6" stroke="#777" stroke-width="0.6"/>
<text transform="translate(452.50 740.90) scale(0.2500)" font-family="'Liberation Serif', serif" font-size="31.20" font-weight="bold" fill="#000" text-anchor="middle" >20</text>
<line x1="468.8" y1="731.4" x2="468.8" y2="733.6" stroke="#777" stroke-width="0.6"/>
<text transform="translate(468.80 740.90) scale(0.2500)" font-family="'Liberation Serif', serif" font-size="31.20" font-weight="bold" fill="#000" text-anchor="middle" >40</text>
<line x1="484.9" y1="731.4" x2="484.9" y2="733.6" stroke="#777" stroke-width="0.6"/>
<text transform="translate(484.90 740.90) scale(0.2500)" font-family="'Liberation Serif', serif" font-size="31.20" font-weight="bold" fill="#000" text-anchor="middle" >60</text>
<line x1="500.8" y1="731.4" x2="500.8" y2="733.6" stroke="#777" stroke-width="0.6"/>
<text transform="translate(500.80 740.90) scale(0.2500)" font-family="'Liberation Serif', serif" font-size="31.20" font-weight="bold" fill="#000" text-anchor="middle" >80</text>
<line x1="516.8" y1="731.4" x2="516.8" y2="733.6" stroke="#777" stroke-width="0.6"/>
<text transform="translate(516.80 740.90) scale(0.2500)" font-family="'Liberation Serif', serif" font-size="31.20" font-weight="bold" fill="#000" text-anchor="middle" >100</text>
<line x1="532.6" y1="731.4" x2="532.6" y2="733.6" stroke="#777" stroke-width="0.6"/>
<text transform="translate(532.60 740.90) scale(0.2500)" font-family="'Liberation Serif', serif" font-size="31.20" font-weight="bold" fill="#000" text-anchor="middle" >120</text>
<path d="M440.97,632.22 L525.27,632.22" fill="none" stroke="#b5ebb5" stroke-width="0.6" stroke-dasharray="0.9,0.9"/>
<path d="M442.76,643.52 L454.42,643.52 L454.42,652.49 L470.57,652.49 L470.57,666.84 L524.38,666.84 L524.38,719.76 L525.27,719.76 L525.27,719.76" fill="none" stroke="#b5ebb5" stroke-width="0.6" stroke-dasharray="0.9,0.9"/>
<path d="M442.76,636.35 L467.87,652.49 L501.06,652.49" fill="none" stroke="#f9c2f3" stroke-width="0.6" stroke-dasharray="0.9,0.9"/>
<path d="M439.17,648.91 L449.94,648.91 L449.94,657.87 L455.32,657.87 L455.32,665.95 L464.29,665.95 L464.29,681.19 L468.77,681.19 L468.77,691.06 L501.06,691.06 L501.06,691.06" fill="none" stroke="#f9c2f3" stroke-width="0.6" stroke-dasharray="0.9,0.9"/>
<path d="M435.95,632.22 L438.28,632.22 L438.28,633.12 L439.53,633.12 L439.53,634.56 L440.97,634.56 L440.97,636.35 L441.87,636.35 L441.87,638.14 L442.76,638.14 L442.76,639.40 L445.99,639.40 L445.99,640.83 L449.94,640.83 L449.94,641.19 L451.73,641.19 L451.73,641.73 L453.17,641.73 L453.17,643.52 L454.42,643.52 L454.42,645.32 L470.57,645.32 L470.57,657.34 L524.38,657.34 L524.38,692.31 L539.62,692.31 L539.62,692.31" fill="none" stroke="#3cbf3c" stroke-width="1.15" stroke-linejoin="miter"/>
<line x1="442.76" y1="638.20" x2="442.76" y2="640.60" stroke="#3cbf3c" stroke-width="0.8"/>
<line x1="453.52" y1="642.32" x2="453.52" y2="644.72" stroke="#3cbf3c" stroke-width="0.8"/>
<line x1="457.11" y1="644.12" x2="457.11" y2="646.52" stroke="#3cbf3c" stroke-width="0.8"/>
<line x1="458.91" y1="644.12" x2="458.91" y2="646.52" stroke="#3cbf3c" stroke-width="0.8"/>
<line x1="461.60" y1="644.12" x2="461.60" y2="646.52" stroke="#3cbf3c" stroke-width="0.8"/>
<line x1="463.39" y1="644.12" x2="463.39" y2="646.52" stroke="#3cbf3c" stroke-width="0.8"/>
<line x1="465.18" y1="644.12" x2="465.18" y2="646.52" stroke="#3cbf3c" stroke-width="0.8"/>
<line x1="484.02" y1="656.14" x2="484.02" y2="658.54" stroke="#3cbf3c" stroke-width="0.8"/>
<line x1="539.62" y1="691.11" x2="539.62" y2="693.51" stroke="#3cbf3c" stroke-width="0.8"/>
<path d="M435.95,632.22 L437.38,632.22 L437.38,634.56 L438.82,634.56 L438.82,637.25 L440.07,637.25 L440.07,640.83 L441.87,640.83 L441.87,642.63 L443.66,642.63 L443.66,644.42 L444.56,644.42 L444.56,647.47 L451.73,647.47 L451.73,649.80 L453.52,649.80 L453.52,651.60 L455.32,651.60 L455.32,654.29 L464.29,654.29 L464.29,665.05 L467.87,665.05 L467.87,667.74 L468.77,667.74 L468.77,673.12 L501.06,673.12 L501.06,673.12" fill="none" stroke="#f03ce0" stroke-width="1.15" stroke-linejoin="miter"/>
<line x1="457.11" y1="653.09" x2="457.11" y2="655.49" stroke="#f03ce0" stroke-width="0.8"/>
<line x1="463.39" y1="653.09" x2="463.39" y2="655.49" stroke="#f03ce0" stroke-width="0.8"/>
<line x1="467.87" y1="666.54" x2="467.87" y2="668.94" stroke="#f03ce0" stroke-width="0.8"/>
<line x1="473.26" y1="671.92" x2="473.26" y2="674.32" stroke="#f03ce0" stroke-width="0.8"/>
<line x1="475.05" y1="671.92" x2="475.05" y2="674.32" stroke="#f03ce0" stroke-width="0.8"/>
<line x1="478.64" y1="671.92" x2="478.64" y2="674.32" stroke="#f03ce0" stroke-width="0.8"/>
<line x1="489.40" y1="671.92" x2="489.40" y2="674.32" stroke="#f03ce0" stroke-width="0.8"/>
<line x1="492.99" y1="633.12" x2="501.06" y2="633.12" stroke="#3cbf3c" stroke-width="0.9"/>
<line x1="492.99" y1="637.47" x2="501.06" y2="637.47" stroke="#f03ce0" stroke-width="0.9"/>
<text font-family="'Liberation Sans', sans-serif" font-size="9.2" fill="#444" text-anchor="end" transform="translate(540.52 634.72) scale(0.5)">Low ERBB2 Group</text>
<text font-family="'Liberation Sans', sans-serif" font-size="9.2" fill="#444" text-anchor="end" transform="translate(540.52 639.07) scale(0.5)">High ERBB2 Group</text>
<text font-family="'Liberation Sans', sans-serif" font-size="9.2" fill="#444" text-anchor="end" transform="translate(540.52 644.37) scale(0.5)">Logrank p=0.17</text>
<text font-family="'Liberation Sans', sans-serif" font-size="9.2" fill="#444" text-anchor="end" transform="translate(540.52 649.67) scale(0.5)">HR(high)=2</text>
<text font-family="'Liberation Sans', sans-serif" font-size="9.2" fill="#444" text-anchor="end" transform="translate(540.52 654.97) scale(0.5)">p(HR)=0.17</text>
<text font-family="'Liberation Sans', sans-serif" font-size="9.2" fill="#444" text-anchor="end" transform="translate(540.52 660.27) scale(0.5)">n(high)=46</text>
<text font-family="'Liberation Sans', sans-serif" font-size="9.2" fill="#444" text-anchor="end" transform="translate(540.52 665.57) scale(0.5)">n(low)=46</text>
<text transform="translate(438.30 727.80) scale(0.2500)" font-family="'Liberation Serif', serif" font-size="32.00" font-weight="normal" fill="#27aae1" text-anchor="start" >READ</text>
<rect x="561.5" y="628.8" width="107.0" height="102.30000000000007" fill="#fff" stroke="#9a9a9a" stroke-width="0.8"/>
<line x1="559.3" y1="632.6" x2="561.5" y2="632.6" stroke="#777" stroke-width="0.6"/>
<text transform="translate(557.00 635.60) scale(0.2500)" font-family="'Liberation Serif', serif" font-size="31.20" font-weight="bold" fill="#000" text-anchor="end" >1.0</text>
<line x1="559.3" y1="651.78" x2="561.5" y2="651.78" stroke="#777" stroke-width="0.6"/>
<text transform="translate(557.00 654.78) scale(0.2500)" font-family="'Liberation Serif', serif" font-size="31.20" font-weight="bold" fill="#000" text-anchor="end" >0.8</text>
<line x1="559.3" y1="670.96" x2="561.5" y2="670.96" stroke="#777" stroke-width="0.6"/>
<text transform="translate(557.00 673.96) scale(0.2500)" font-family="'Liberation Serif', serif" font-size="31.20" font-weight="bold" fill="#000" text-anchor="end" >0.6</text>
<line x1="559.3" y1="690.14" x2="561.5" y2="690.14" stroke="#777" stroke-width="0.6"/>
<text transform="translate(557.00 693.14) scale(0.2500)" font-family="'Liberation Serif', serif" font-size="31.20" font-weight="bold" fill="#000" text-anchor="end" >0.4</text>
<line x1="559.3" y1="709.32" x2="561.5" y2="709.32" stroke="#777" stroke-width="0.6"/>
<text transform="translate(557.00 712.32) scale(0.2500)" font-family="'Liberation Serif', serif" font-size="31.20" font-weight="bold" fill="#000" text-anchor="end" >0.2</text>
<line x1="559.3" y1="728.5" x2="561.5" y2="728.5" stroke="#777" stroke-width="0.6"/>
<text transform="translate(557.00 731.50) scale(0.2500)" font-family="'Liberation Serif', serif" font-size="31.20" font-weight="bold" fill="#000" text-anchor="end" >0.0</text>
<line x1="561.8" y1="731.1" x2="561.8" y2="733.3000000000001" stroke="#777" stroke-width="0.6"/>
<text transform="translate(561.80 740.60) scale(0.2500)" font-family="'Liberation Serif', serif" font-size="31.20" font-weight="bold" fill="#000" text-anchor="middle" >0</text>
<line x1="590.2" y1="731.1" x2="590.2" y2="733.3000000000001" stroke="#777" stroke-width="0.6"/>
<text transform="translate(590.20 740.60) scale(0.2500)" font-family="'Liberation Serif', serif" font-size="31.20" font-weight="bold" fill="#000" text-anchor="middle" >50</text>
<line x1="618.5" y1="731.1" x2="618.5" y2="733.3000000000001" stroke="#777" stroke-width="0.6"/>
<text transform="translate(618.50 740.60) scale(0.2500)" font-family="'Liberation Serif', serif" font-size="31.20" font-weight="bold" fill="#000" text-anchor="middle" >100</text>
<line x1="646.8" y1="731.1" x2="646.8" y2="733.3000000000001" stroke="#777" stroke-width="0.6"/>
<text transform="translate(646.80 740.60) scale(0.2500)" font-family="'Liberation Serif', serif" font-size="31.20" font-weight="bold" fill="#000" text-anchor="middle" >150</text>
<path d="M572.04,638.19 L595.05,639.89 L665.77,638.19" fill="none" stroke="#b5ebb5" stroke-width="0.6" stroke-dasharray="0.9,0.9"/>
<path d="M580.56,647.56 L595.05,654.38 L665.77,654.38" fill="none" stroke="#f9c2f3" stroke-width="0.6" stroke-dasharray="0.9,0.9"/>
<path d="M561.48,632.57 L565.22,632.57 L565.22,633.59 L568.63,633.59 L568.63,635.29 L572.04,635.29 L572.04,637.00 L574.60,637.00 L574.60,639.04 L578.01,639.04 L578.01,640.40 L581.41,640.40 L581.41,641.60 L586.53,641.60 L586.53,642.11 L595.05,642.11 L595.90,642.11 L595.90,644.15 L665.77,644.15" fill="none" stroke="#3cbf3c" stroke-width="1.15" stroke-linejoin="miter"/>
<line x1="580.56" y1="639.20" x2="580.56" y2="641.60" stroke="#3cbf3c" stroke-width="0.8"/>
<line x1="583.97" y1="640.40" x2="583.97" y2="642.80" stroke="#3cbf3c" stroke-width="0.8"/>
<line x1="587.38" y1="640.91" x2="587.38" y2="643.31" stroke="#3cbf3c" stroke-width="0.8"/>
<line x1="590.79" y1="640.91" x2="590.79" y2="643.31" stroke="#3cbf3c" stroke-width="0.8"/>
<line x1="597.60" y1="642.95" x2="597.60" y2="645.35" stroke="#3cbf3c" stroke-width="0.8"/>
<line x1="604.42" y1="642.95" x2="604.42" y2="645.35" stroke="#3cbf3c" stroke-width="0.8"/>
<line x1="607.83" y1="642.95" x2="607.83" y2="645.35" stroke="#3cbf3c" stroke-width="0.8"/>
<line x1="612.94" y1="642.95" x2="612.94" y2="645.35" stroke="#3cbf3c" stroke-width="0.8"/>
<line x1="618.05" y1="642.95" x2="618.05" y2="645.35" stroke="#3cbf3c" stroke-width="0.8"/>
<line x1="623.17" y1="642.95" x2="623.17" y2="645.35" stroke="#3cbf3c" stroke-width="0.8"/>
<line x1="628.28" y1="642.95" x2="628.28" y2="645.35" stroke="#3cbf3c" stroke-width="0.8"/>
<line x1="633.39" y1="642.95" x2="633.39" y2="645.35" stroke="#3cbf3c" stroke-width="0.8"/>
<line x1="640.21" y1="642.95" x2="640.21" y2="645.35" stroke="#3cbf3c" stroke-width="0.8"/>
<line x1="647.02" y1="642.95" x2="647.02" y2="645.35" stroke="#3cbf3c" stroke-width="0.8"/>
<line x1="653.84" y1="642.95" x2="653.84" y2="645.35" stroke="#3cbf3c" stroke-width="0.8"/>
<line x1="660.66" y1="642.95" x2="660.66" y2="645.35" stroke="#3cbf3c" stroke-width="0.8"/>
<path d="M561.48,632.57 L565.22,632.57 L565.22,633.93 L568.63,633.93 L568.63,635.63 L572.04,635.63 L572.04,638.19 L575.45,638.19 L575.45,640.75 L578.86,640.75 L578.86,642.45 L582.27,642.45 L582.27,644.15 L585.67,644.15 L585.67,645.86 L589.08,645.86 L589.08,647.22 L593.34,647.22 L595.05,647.22 L595.05,648.41 L665.77,648.41" fill="none" stroke="#f03ce0" stroke-width="1.15" stroke-linejoin="miter"/>
<line x1="589.08" y1="646.02" x2="589.08" y2="648.42" stroke="#f03ce0" stroke-width="0.8"/>
<line x1="594.20" y1="646.02" x2="594.20" y2="648.42" stroke="#f03ce0" stroke-width="0.8"/>
<line x1="597.60" y1="647.21" x2="597.60" y2="649.61" stroke="#f03ce0" stroke-width="0.8"/>
<line x1="601.01" y1="647.21" x2="601.01" y2="649.61" stroke="#f03ce0" stroke-width="0.8"/>
<line x1="604.42" y1="647.21" x2="604.42" y2="649.61" stroke="#f03ce0" stroke-width="0.8"/>
<line x1="607.83" y1="647.21" x2="607.83" y2="649.61" stroke="#f03ce0" stroke-width="0.8"/>
<line x1="611.24" y1="647.21" x2="611.24" y2="649.61" stroke="#f03ce0" stroke-width="0.8"/>
<line x1="614.65" y1="647.21" x2="614.65" y2="649.61" stroke="#f03ce0" stroke-width="0.8"/>
<line x1="619.76" y1="647.21" x2="619.76" y2="649.61" stroke="#f03ce0" stroke-width="0.8"/>
<line x1="624.87" y1="647.21" x2="624.87" y2="649.61" stroke="#f03ce0" stroke-width="0.8"/>
<line x1="629.98" y1="647.21" x2="629.98" y2="649.61" stroke="#f03ce0" stroke-width="0.8"/>
<line x1="635.10" y1="647.21" x2="635.10" y2="649.61" stroke="#f03ce0" stroke-width="0.8"/>
<line x1="640.21" y1="647.21" x2="640.21" y2="649.61" stroke="#f03ce0" stroke-width="0.8"/>
<line x1="645.32" y1="647.21" x2="645.32" y2="649.61" stroke="#f03ce0" stroke-width="0.8"/>
<line x1="650.43" y1="647.21" x2="650.43" y2="649.61" stroke="#f03ce0" stroke-width="0.8"/>
<line x1="657.25" y1="647.21" x2="657.25" y2="649.61" stroke="#f03ce0" stroke-width="0.8"/>
<line x1="618.05" y1="634.27" x2="626.23" y2="634.27" stroke="#3cbf3c" stroke-width="0.9"/>
<line x1="618.05" y1="638.78" x2="626.23" y2="638.78" stroke="#f03ce0" stroke-width="0.9"/>
<text font-family="'Liberation Sans', sans-serif" font-size="9.2" fill="#444" text-anchor="end" transform="translate(665.77 635.87) scale(0.5)">Low ERBB2 Group</text>
<text font-family="'Liberation Sans', sans-serif" font-size="9.2" fill="#444" text-anchor="end" transform="translate(665.77 640.38) scale(0.5)">High ERBB2 Group</text>
<text font-family="'Liberation Sans', sans-serif" font-size="9.2" fill="#444" text-anchor="end" transform="translate(665.77 645.88) scale(0.5)">Logrank p=0.47</text>
<text font-family="'Liberation Sans', sans-serif" font-size="9.2" fill="#444" text-anchor="end" transform="translate(665.77 651.38) scale(0.5)">HR(high)=1.2</text>
<text font-family="'Liberation Sans', sans-serif" font-size="9.2" fill="#444" text-anchor="end" transform="translate(665.77 656.88) scale(0.5)">p(HR)=0.47</text>
<text font-family="'Liberation Sans', sans-serif" font-size="9.2" fill="#444" text-anchor="end" transform="translate(665.77 662.38) scale(0.5)">n(high)=255</text>
<text font-family="'Liberation Sans', sans-serif" font-size="9.2" fill="#444" text-anchor="end" transform="translate(665.77 667.88) scale(0.5)">n(low)=255</text>
<text transform="translate(563.20 728.50) scale(0.2500)" font-family="'Liberation Serif', serif" font-size="31.60" font-weight="normal" fill="#f21414" text-anchor="start" >THCA</text>
<text transform="translate(65.80 513.50) scale(0.2500)" font-family="'Liberation Serif', serif" font-size="43.60" font-weight="bold" fill="#000" text-anchor="start" >Months</text>
<text transform="translate(213.90 513.50) scale(0.2500)" font-family="'Liberation Serif', serif" font-size="43.60" font-weight="bold" fill="#000" text-anchor="middle" >Months</text>
<text transform="translate(345.60 513.50) scale(0.2500)" font-family="'Liberation Serif', serif" font-size="43.60" font-weight="bold" fill="#000" text-anchor="middle" >Months</text>
<text transform="translate(477.80 513.50) scale(0.2500)" font-family="'Liberation Serif', serif" font-size="43.60" font-weight="bold" fill="#000" text-anchor="middle" >Months</text>
<text transform="translate(607.60 513.50) scale(0.2500)" font-family="'Liberation Serif', serif" font-size="43.60" font-weight="bold" fill="#000" text-anchor="middle" >Months</text>
<text x="0" y="0" font-family="'Liberation Serif', serif" font-size="9.8" font-weight="bold" text-anchor="middle" transform="translate(9.7 430.4) rotate(-90)">Percent survival</text>
<text x="0" y="0" font-family="'Liberation Serif', serif" font-size="9.8" font-weight="bold" text-anchor="middle" transform="translate(18.9 681.6) rotate(-90)">Percent survival</text>
</svg>
</body></html>
